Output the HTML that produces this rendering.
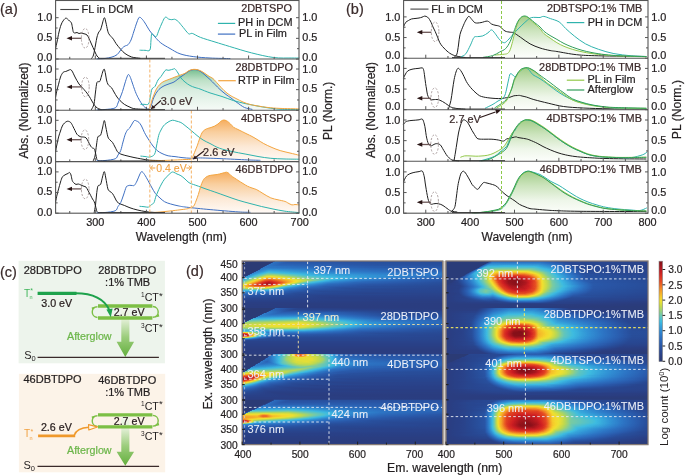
<!DOCTYPE html>
<html><head><meta charset="utf-8"><style>
html,body{margin:0;padding:0;background:#fff;width:685px;height:475px;overflow:hidden}
svg{display:block;font-family:"Liberation Sans",sans-serif;will-change:transform}
</style></head><body>
<svg width="685" height="475" viewBox="0 0 685 475">
<defs><linearGradient id="ggrad" x1="0" y1="0" x2="0" y2="1">
<stop offset="0" stop-color="#5fb57a" stop-opacity="0.85"/><stop offset="0.55" stop-color="#a9d6b4" stop-opacity="0.6"/><stop offset="1" stop-color="#ffffff" stop-opacity="0"/></linearGradient>
<linearGradient id="ograd" x1="0" y1="0" x2="0" y2="1">
<stop offset="0" stop-color="#f5a245" stop-opacity="0.95"/><stop offset="0.5" stop-color="#f9c890" stop-opacity="0.65"/><stop offset="1" stop-color="#ffffff" stop-opacity="0"/></linearGradient>
<linearGradient id="bgrad" x1="0" y1="0" x2="0" y2="1">
<stop offset="0" stop-color="#6fb04f" stop-opacity="0.85"/><stop offset="0.5" stop-color="#b5d89c" stop-opacity="0.55"/><stop offset="1" stop-color="#ffffff" stop-opacity="0"/></linearGradient>
<linearGradient id="ga2" gradientUnits="userSpaceOnUse" x1="0" y1="69" x2="0" y2="110"><stop offset="0" stop-color="#74bd8d"/><stop offset="0.27" stop-color="#bde0c6"/><stop offset="0.51" stop-color="#d9ede0"/><stop offset="1" stop-color="#f6fbf7"/></linearGradient>
<linearGradient id="oa3" gradientUnits="userSpaceOnUse" x1="0" y1="120" x2="0" y2="161"><stop offset="0" stop-color="#f6ad5e"/><stop offset="0.3" stop-color="#f9cf9f"/><stop offset="0.65" stop-color="#fce9d6"/><stop offset="1" stop-color="#fffaf6"/></linearGradient>
<linearGradient id="oa4" gradientUnits="userSpaceOnUse" x1="0" y1="172" x2="0" y2="213"><stop offset="0" stop-color="#f6ad5e"/><stop offset="0.3" stop-color="#f9cf9f"/><stop offset="0.65" stop-color="#fce9d6"/><stop offset="1" stop-color="#fffaf6"/></linearGradient>
<linearGradient id="gb1" gradientUnits="userSpaceOnUse" x1="0" y1="16" x2="0" y2="57.8"><stop offset="0" stop-color="#a2cd88"/><stop offset="0.35" stop-color="#cce4bd"/><stop offset="0.7" stop-color="#eef6e9"/><stop offset="1" stop-color="#fcfefb"/></linearGradient>
<linearGradient id="gb2" gradientUnits="userSpaceOnUse" x1="0" y1="68" x2="0" y2="109.4"><stop offset="0" stop-color="#a2cd88"/><stop offset="0.35" stop-color="#cce4bd"/><stop offset="0.7" stop-color="#eef6e9"/><stop offset="1" stop-color="#fcfefb"/></linearGradient>
<linearGradient id="gb3" gradientUnits="userSpaceOnUse" x1="0" y1="120" x2="0" y2="161"><stop offset="0" stop-color="#a2cd88"/><stop offset="0.35" stop-color="#cce4bd"/><stop offset="0.7" stop-color="#eef6e9"/><stop offset="1" stop-color="#fcfefb"/></linearGradient>
<linearGradient id="gb4" gradientUnits="userSpaceOnUse" x1="0" y1="171" x2="0" y2="212.9"><stop offset="0" stop-color="#a2cd88"/><stop offset="0.35" stop-color="#cce4bd"/><stop offset="0.7" stop-color="#eef6e9"/><stop offset="1" stop-color="#fcfefb"/></linearGradient>
<linearGradient id="arrg" x1="0" y1="0" x2="0" y2="1"><stop offset="0" stop-color="#f4f8ee"/><stop offset="0.25" stop-color="#e2efd6"/><stop offset="0.6" stop-color="#9ccd7c"/><stop offset="1" stop-color="#62ae3c"/></linearGradient>
<filter id="jet" x="0" y="0" width="1" height="1" color-interpolation-filters="sRGB">
<feComponentTransfer><feFuncR type="table" tableValues="0.173 0.169 0.166 0.163 0.159 0.158 0.161 0.164 0.168 0.171 0.175 0.181 0.188 0.195 0.210 0.226 0.243 0.317 0.392 0.471 0.574 0.676 0.769 0.849 0.929 0.961 0.961 0.961 0.961 0.947 0.932 0.918 0.899 0.873 0.847 0.821 0.763 0.698 0.633 0.567 0.502"/><feFuncG type="table" tableValues="0.227 0.234 0.241 0.257 0.280 0.303 0.329 0.356 0.386 0.418 0.450 0.490 0.534 0.579 0.631 0.684 0.737 0.757 0.776 0.796 0.816 0.835 0.853 0.867 0.881 0.843 0.771 0.699 0.627 0.540 0.453 0.366 0.292 0.237 0.183 0.129 0.108 0.096 0.083 0.071 0.059"/><feFuncB type="table" tableValues="0.431 0.467 0.503 0.537 0.570 0.603 0.639 0.675 0.706 0.735 0.765 0.791 0.815 0.838 0.854 0.868 0.882 0.805 0.728 0.641 0.515 0.389 0.294 0.245 0.196 0.173 0.168 0.162 0.157 0.151 0.146 0.141 0.137 0.137 0.137 0.137 0.131 0.123 0.114 0.106 0.098"/></feComponentTransfer></filter>
<linearGradient id="h1" x1="0" x2="1" y1="0" y2="0"><stop offset="0.000" stop-color="#050505"/><stop offset="0.159" stop-color="#050505"/><stop offset="0.164" stop-color="#3e3e3e"/><stop offset="0.234" stop-color="#292929"/><stop offset="0.667" stop-color="#212121"/><stop offset="1.000" stop-color="#1e1e1e"/></linearGradient>
<linearGradient id="h2" x1="0" x2="1" y1="0" y2="0"><stop offset="0.000" stop-color="#050505"/><stop offset="0.149" stop-color="#050505"/><stop offset="0.154" stop-color="#3f3f3f"/><stop offset="0.219" stop-color="#2c2c2c"/><stop offset="0.657" stop-color="#232323"/><stop offset="1.000" stop-color="#1f1f1f"/></linearGradient>
<linearGradient id="h3" x1="0" x2="1" y1="0" y2="0"><stop offset="0.000" stop-color="#050505"/><stop offset="0.139" stop-color="#050505"/><stop offset="0.144" stop-color="#404040"/><stop offset="0.204" stop-color="#303030"/><stop offset="0.652" stop-color="#252525"/><stop offset="1.000" stop-color="#212121"/></linearGradient>
<linearGradient id="h4" x1="0" x2="1" y1="0" y2="0"><stop offset="0.000" stop-color="#050505"/><stop offset="0.129" stop-color="#050505"/><stop offset="0.134" stop-color="#414141"/><stop offset="0.189" stop-color="#343434"/><stop offset="0.667" stop-color="#262626"/><stop offset="1.000" stop-color="#222222"/></linearGradient>
<linearGradient id="h5" x1="0" x2="1" y1="0" y2="0"><stop offset="0.000" stop-color="#050505"/><stop offset="0.119" stop-color="#050505"/><stop offset="0.124" stop-color="#424242"/><stop offset="0.179" stop-color="#383838"/><stop offset="0.701" stop-color="#272727"/><stop offset="1.000" stop-color="#242424"/></linearGradient>
<linearGradient id="h6" x1="0" x2="1" y1="0" y2="0"><stop offset="0.000" stop-color="#050505"/><stop offset="0.109" stop-color="#050505"/><stop offset="0.114" stop-color="#434343"/><stop offset="0.343" stop-color="#363636"/><stop offset="0.642" stop-color="#2d2d2d"/><stop offset="1.000" stop-color="#272727"/></linearGradient>
<linearGradient id="h7" x1="0" x2="1" y1="0" y2="0"><stop offset="0.000" stop-color="#050505"/><stop offset="0.100" stop-color="#050505"/><stop offset="0.104" stop-color="#444444"/><stop offset="0.721" stop-color="#2c2c2c"/><stop offset="1.000" stop-color="#2a2a2a"/></linearGradient>
<linearGradient id="h8" x1="0" x2="1" y1="0" y2="0"><stop offset="0.000" stop-color="#050505"/><stop offset="0.090" stop-color="#050505"/><stop offset="0.095" stop-color="#444444"/><stop offset="0.124" stop-color="#494949"/><stop offset="0.831" stop-color="#2d2d2d"/><stop offset="1.000" stop-color="#2d2d2d"/></linearGradient>
<linearGradient id="h9" x1="0" x2="1" y1="0" y2="0"><stop offset="0.000" stop-color="#050505"/><stop offset="0.085" stop-color="#050505"/><stop offset="0.090" stop-color="#454545"/><stop offset="0.139" stop-color="#525252"/><stop offset="0.448" stop-color="#3f3f3f"/><stop offset="0.841" stop-color="#313131"/><stop offset="1.000" stop-color="#303030"/></linearGradient>
<linearGradient id="h10" x1="0" x2="1" y1="0" y2="0"><stop offset="0.000" stop-color="#050505"/><stop offset="0.075" stop-color="#050505"/><stop offset="0.080" stop-color="#464646"/><stop offset="0.134" stop-color="#5a5a5a"/><stop offset="0.438" stop-color="#444444"/><stop offset="0.841" stop-color="#353535"/><stop offset="1.000" stop-color="#343434"/></linearGradient>
<linearGradient id="h11" x1="0" x2="1" y1="0" y2="0"><stop offset="0.000" stop-color="#050505"/><stop offset="0.065" stop-color="#050505"/><stop offset="0.070" stop-color="#474747"/><stop offset="0.134" stop-color="#626262"/><stop offset="0.423" stop-color="#484848"/><stop offset="0.841" stop-color="#393939"/><stop offset="1.000" stop-color="#383838"/></linearGradient>
<linearGradient id="h12" x1="0" x2="1" y1="0" y2="0"><stop offset="0.000" stop-color="#050505"/><stop offset="0.055" stop-color="#050505"/><stop offset="0.060" stop-color="#494949"/><stop offset="0.129" stop-color="#6a6a6a"/><stop offset="0.428" stop-color="#4d4d4d"/><stop offset="0.841" stop-color="#3e3e3e"/><stop offset="1.000" stop-color="#3c3c3c"/></linearGradient>
<linearGradient id="h13" x1="0" x2="1" y1="0" y2="0"><stop offset="0.000" stop-color="#050505"/><stop offset="0.045" stop-color="#050505"/><stop offset="0.050" stop-color="#4b4b4b"/><stop offset="0.129" stop-color="#757575"/><stop offset="0.224" stop-color="#686868"/><stop offset="0.438" stop-color="#525252"/><stop offset="0.841" stop-color="#424242"/><stop offset="1.000" stop-color="#404040"/></linearGradient>
<linearGradient id="h14" x1="0" x2="1" y1="0" y2="0"><stop offset="0.000" stop-color="#050505"/><stop offset="0.035" stop-color="#050505"/><stop offset="0.040" stop-color="#4e4e4e"/><stop offset="0.124" stop-color="#7e7e7e"/><stop offset="0.159" stop-color="#7e7e7e"/><stop offset="0.348" stop-color="#5f5f5f"/><stop offset="0.776" stop-color="#474747"/><stop offset="1.000" stop-color="#424242"/></linearGradient>
<linearGradient id="h15" x1="0" x2="1" y1="0" y2="0"><stop offset="0.000" stop-color="#050505"/><stop offset="0.025" stop-color="#050505"/><stop offset="0.030" stop-color="#505050"/><stop offset="0.124" stop-color="#8a8a8a"/><stop offset="0.149" stop-color="#8b8b8b"/><stop offset="0.333" stop-color="#676767"/><stop offset="0.488" stop-color="#5a5a5a"/><stop offset="1.000" stop-color="#3f3f3f"/></linearGradient>
<linearGradient id="h16" x1="0" x2="1" y1="0" y2="0"><stop offset="0.000" stop-color="#050505"/><stop offset="0.015" stop-color="#050505"/><stop offset="0.020" stop-color="#525252"/><stop offset="0.124" stop-color="#979797"/><stop offset="0.144" stop-color="#999999"/><stop offset="0.323" stop-color="#707070"/><stop offset="0.473" stop-color="#5f5f5f"/><stop offset="1.000" stop-color="#3a3a3a"/></linearGradient>
<linearGradient id="h17" x1="0" x2="1" y1="0" y2="0"><stop offset="0.000" stop-color="#050505"/><stop offset="0.005" stop-color="#050505"/><stop offset="0.010" stop-color="#535353"/><stop offset="0.119" stop-color="#a2a2a2"/><stop offset="0.139" stop-color="#a7a7a7"/><stop offset="0.318" stop-color="#777777"/><stop offset="0.468" stop-color="#636363"/><stop offset="0.930" stop-color="#3a3a3a"/><stop offset="1.000" stop-color="#353535"/></linearGradient>
<linearGradient id="h18" x1="0" x2="1" y1="0" y2="0"><stop offset="0.000" stop-color="#535353"/><stop offset="0.119" stop-color="#afafaf"/><stop offset="0.139" stop-color="#b4b4b4"/><stop offset="0.269" stop-color="#8c8c8c"/><stop offset="0.368" stop-color="#747474"/><stop offset="0.682" stop-color="#484848"/><stop offset="1.000" stop-color="#303030"/></linearGradient>
<linearGradient id="h19" x1="0" x2="1" y1="0" y2="0"><stop offset="0.000" stop-color="#5b5b5b"/><stop offset="0.119" stop-color="#bdbdbd"/><stop offset="0.139" stop-color="#c2c2c2"/><stop offset="0.264" stop-color="#959595"/><stop offset="0.363" stop-color="#797979"/><stop offset="0.547" stop-color="#505050"/><stop offset="0.856" stop-color="#343434"/><stop offset="1.000" stop-color="#2c2c2c"/></linearGradient>
<linearGradient id="h20" x1="0" x2="1" y1="0" y2="0"><stop offset="0.000" stop-color="#646464"/><stop offset="0.114" stop-color="#c8c8c8"/><stop offset="0.139" stop-color="#d0d0d0"/><stop offset="0.259" stop-color="#9e9e9e"/><stop offset="0.443" stop-color="#5c5c5c"/><stop offset="0.577" stop-color="#454545"/><stop offset="0.891" stop-color="#2d2d2d"/><stop offset="1.000" stop-color="#282828"/></linearGradient>
<linearGradient id="h21" x1="0" x2="1" y1="0" y2="0"><stop offset="0.000" stop-color="#6d6d6d"/><stop offset="0.114" stop-color="#d6d6d6"/><stop offset="0.134" stop-color="#dfdfdf"/><stop offset="0.219" stop-color="#b4b4b4"/><stop offset="0.289" stop-color="#909090"/><stop offset="0.348" stop-color="#717171"/><stop offset="0.458" stop-color="#4f4f4f"/><stop offset="0.617" stop-color="#393939"/><stop offset="0.995" stop-color="#252525"/><stop offset="1.000" stop-color="#252525"/></linearGradient>
<linearGradient id="h22" x1="0" x2="1" y1="0" y2="0"><stop offset="0.000" stop-color="#777777"/><stop offset="0.055" stop-color="#adadad"/><stop offset="0.114" stop-color="#e2e2e2"/><stop offset="0.134" stop-color="#eaeaea"/><stop offset="0.194" stop-color="#c8c8c8"/><stop offset="0.313" stop-color="#747474"/><stop offset="0.428" stop-color="#4c4c4c"/><stop offset="0.567" stop-color="#373737"/><stop offset="0.945" stop-color="#242424"/><stop offset="1.000" stop-color="#222222"/></linearGradient>
<linearGradient id="h23" x1="0" x2="1" y1="0" y2="0"><stop offset="0.000" stop-color="#818181"/><stop offset="0.045" stop-color="#b0b0b0"/><stop offset="0.114" stop-color="#ececec"/><stop offset="0.134" stop-color="#f3f3f3"/><stop offset="0.169" stop-color="#d9d9d9"/><stop offset="0.239" stop-color="#969696"/><stop offset="0.318" stop-color="#646464"/><stop offset="0.433" stop-color="#414141"/><stop offset="0.587" stop-color="#303030"/><stop offset="1.000" stop-color="#202020"/></linearGradient>
<linearGradient id="h24" x1="0" x2="1" y1="0" y2="0"><stop offset="0.000" stop-color="#8b8b8b"/><stop offset="0.040" stop-color="#b6b6b6"/><stop offset="0.109" stop-color="#eeeeee"/><stop offset="0.134" stop-color="#eaeaea"/><stop offset="0.224" stop-color="#909090"/><stop offset="0.308" stop-color="#5b5b5b"/><stop offset="0.428" stop-color="#3a3a3a"/><stop offset="0.602" stop-color="#2a2a2a"/><stop offset="1.000" stop-color="#1f1f1f"/></linearGradient>
<linearGradient id="h25" x1="0" x2="1" y1="0" y2="0"><stop offset="0.000" stop-color="#939393"/><stop offset="0.030" stop-color="#b5b5b5"/><stop offset="0.065" stop-color="#cdcdcd"/><stop offset="0.114" stop-color="#d9d9d9"/><stop offset="0.139" stop-color="#cdcdcd"/><stop offset="0.219" stop-color="#808080"/><stop offset="0.299" stop-color="#535353"/><stop offset="0.413" stop-color="#363636"/><stop offset="0.592" stop-color="#272727"/><stop offset="1.000" stop-color="#1d1d1d"/></linearGradient>
<linearGradient id="h26" x1="0" x2="1" y1="0" y2="0"><stop offset="0.000" stop-color="#999999"/><stop offset="0.020" stop-color="#acacac"/><stop offset="0.060" stop-color="#bbbbbb"/><stop offset="0.114" stop-color="#bfbfbf"/><stop offset="0.139" stop-color="#b2b2b2"/><stop offset="0.214" stop-color="#717171"/><stop offset="0.294" stop-color="#494949"/><stop offset="0.413" stop-color="#2f2f2f"/><stop offset="0.632" stop-color="#222222"/><stop offset="1.000" stop-color="#1c1c1c"/></linearGradient>
<linearGradient id="h27" x1="0" x2="1" y1="0" y2="0"><stop offset="0.000" stop-color="#909090"/><stop offset="0.025" stop-color="#9f9f9f"/><stop offset="0.090" stop-color="#a7a7a7"/><stop offset="0.119" stop-color="#a2a2a2"/><stop offset="0.144" stop-color="#949494"/><stop offset="0.219" stop-color="#5d5d5d"/><stop offset="0.308" stop-color="#3a3a3a"/><stop offset="0.473" stop-color="#252525"/><stop offset="1.000" stop-color="#1b1b1b"/></linearGradient>
<linearGradient id="h28" x1="0" x2="1" y1="0" y2="0"><stop offset="0.000" stop-color="#818181"/><stop offset="0.030" stop-color="#8e8e8e"/><stop offset="0.114" stop-color="#8b8b8b"/><stop offset="0.144" stop-color="#7d7d7d"/><stop offset="0.224" stop-color="#4d4d4d"/><stop offset="0.323" stop-color="#303030"/><stop offset="0.517" stop-color="#202020"/><stop offset="1.000" stop-color="#1a1a1a"/></linearGradient>
<linearGradient id="h29" x1="0" x2="1" y1="0" y2="0"><stop offset="0.000" stop-color="#717171"/><stop offset="0.035" stop-color="#7b7b7b"/><stop offset="0.119" stop-color="#737373"/><stop offset="0.234" stop-color="#3d3d3d"/><stop offset="0.343" stop-color="#282828"/><stop offset="0.602" stop-color="#1c1c1c"/><stop offset="1.000" stop-color="#1a1a1a"/></linearGradient>
<linearGradient id="h30" x1="0" x2="1" y1="0" y2="0"><stop offset="0.000" stop-color="#626262"/><stop offset="0.045" stop-color="#686868"/><stop offset="0.129" stop-color="#5c5c5c"/><stop offset="0.234" stop-color="#343434"/><stop offset="0.358" stop-color="#222222"/><stop offset="0.751" stop-color="#1a1a1a"/><stop offset="1.000" stop-color="#191919"/></linearGradient>
<linearGradient id="h31" x1="0" x2="1" y1="0" y2="0"><stop offset="0.000" stop-color="#535353"/><stop offset="0.060" stop-color="#565656"/><stop offset="0.139" stop-color="#494949"/><stop offset="0.239" stop-color="#2c2c2c"/><stop offset="0.393" stop-color="#1d1d1d"/><stop offset="1.000" stop-color="#181818"/></linearGradient>
<linearGradient id="h32" x1="0" x2="1" y1="0" y2="0"><stop offset="0.000" stop-color="#464646"/><stop offset="0.080" stop-color="#464646"/><stop offset="0.164" stop-color="#363636"/><stop offset="0.284" stop-color="#212121"/><stop offset="0.617" stop-color="#181818"/><stop offset="1.000" stop-color="#171717"/></linearGradient>
<linearGradient id="h33" x1="0" x2="1" y1="0" y2="0"><stop offset="0.000" stop-color="#3b3b3b"/><stop offset="0.109" stop-color="#383838"/><stop offset="0.264" stop-color="#1f1f1f"/><stop offset="0.627" stop-color="#161616"/><stop offset="1.000" stop-color="#161616"/></linearGradient>
<linearGradient id="h34" x1="0" x2="1" y1="0" y2="0"><stop offset="0.000" stop-color="#323232"/><stop offset="0.139" stop-color="#2a2a2a"/><stop offset="0.294" stop-color="#1a1a1a"/><stop offset="1.000" stop-color="#151515"/></linearGradient>
<linearGradient id="h35" x1="0" x2="1" y1="0" y2="0"><stop offset="0.000" stop-color="#2a2a2a"/><stop offset="0.164" stop-color="#202020"/><stop offset="0.383" stop-color="#151515"/><stop offset="1.000" stop-color="#141414"/></linearGradient>
<linearGradient id="h36" x1="0" x2="1" y1="0" y2="0"><stop offset="0.000" stop-color="#242424"/><stop offset="0.393" stop-color="#141414"/><stop offset="1.000" stop-color="#131313"/></linearGradient>
<linearGradient id="h37" x1="0" x2="1" y1="0" y2="0"><stop offset="0.000" stop-color="#1f1f1f"/><stop offset="0.438" stop-color="#121212"/><stop offset="1.000" stop-color="#121212"/></linearGradient>
<linearGradient id="h38" x1="0" x2="1" y1="0" y2="0"><stop offset="0.000" stop-color="#1a1a1a"/><stop offset="0.517" stop-color="#111111"/><stop offset="1.000" stop-color="#111111"/></linearGradient>
<linearGradient id="h39" x1="0" x2="1" y1="0" y2="0"><stop offset="0.000" stop-color="#171717"/><stop offset="0.672" stop-color="#101010"/><stop offset="1.000" stop-color="#101010"/></linearGradient>
<linearGradient id="h40" x1="0" x2="1" y1="0" y2="0"><stop offset="0.000" stop-color="#141414"/><stop offset="1.000" stop-color="#0f0f0f"/></linearGradient>
<linearGradient id="h41" x1="0" x2="1" y1="0" y2="0"><stop offset="0.000" stop-color="#121212"/><stop offset="1.000" stop-color="#0e0e0e"/></linearGradient>
<linearGradient id="h42" x1="0" x2="1" y1="0" y2="0"><stop offset="0.000" stop-color="#101010"/><stop offset="1.000" stop-color="#0e0e0e"/></linearGradient>
<linearGradient id="h43" x1="0" x2="1" y1="0" y2="0"><stop offset="0.000" stop-color="#0f0f0f"/><stop offset="1.000" stop-color="#0d0d0d"/></linearGradient>
<linearGradient id="h44" x1="0" x2="1" y1="0" y2="0"><stop offset="0.000" stop-color="#0e0e0e"/><stop offset="1.000" stop-color="#0d0d0d"/></linearGradient>
<linearGradient id="h45" x1="0" x2="1" y1="0" y2="0"><stop offset="0.000" stop-color="#0e0e0e"/><stop offset="1.000" stop-color="#0d0d0d"/></linearGradient>
<linearGradient id="h46" x1="0" x2="1" y1="0" y2="0"><stop offset="0.000" stop-color="#0d0d0d"/><stop offset="1.000" stop-color="#0d0d0d"/></linearGradient>
<linearGradient id="h47" x1="0" x2="1" y1="0" y2="0"><stop offset="0.000" stop-color="#0d0d0d"/><stop offset="1.000" stop-color="#0d0d0d"/></linearGradient>
<linearGradient id="h48" x1="0" x2="1" y1="0" y2="0"><stop offset="0.000" stop-color="#080808"/><stop offset="0.217" stop-color="#080808"/><stop offset="0.222" stop-color="#252525"/><stop offset="0.227" stop-color="#383838"/><stop offset="0.473" stop-color="#373737"/><stop offset="0.576" stop-color="#1c1c1c"/><stop offset="1.000" stop-color="#151515"/></linearGradient>
<linearGradient id="h49" x1="0" x2="1" y1="0" y2="0"><stop offset="0.000" stop-color="#080808"/><stop offset="0.207" stop-color="#080808"/><stop offset="0.212" stop-color="#272727"/><stop offset="0.222" stop-color="#353535"/><stop offset="0.227" stop-color="#424242"/><stop offset="0.468" stop-color="#404040"/><stop offset="0.571" stop-color="#242424"/><stop offset="0.611" stop-color="#1a1a1a"/><stop offset="1.000" stop-color="#151515"/></linearGradient>
<linearGradient id="h50" x1="0" x2="1" y1="0" y2="0"><stop offset="0.000" stop-color="#080808"/><stop offset="0.197" stop-color="#080808"/><stop offset="0.202" stop-color="#282828"/><stop offset="0.217" stop-color="#414141"/><stop offset="0.227" stop-color="#4c4c4c"/><stop offset="0.463" stop-color="#494949"/><stop offset="0.567" stop-color="#2c2c2c"/><stop offset="0.621" stop-color="#1a1a1a"/><stop offset="1.000" stop-color="#151515"/></linearGradient>
<linearGradient id="h51" x1="0" x2="1" y1="0" y2="0"><stop offset="0.000" stop-color="#080808"/><stop offset="0.187" stop-color="#080808"/><stop offset="0.192" stop-color="#282828"/><stop offset="0.202" stop-color="#404040"/><stop offset="0.217" stop-color="#545454"/><stop offset="0.453" stop-color="#535353"/><stop offset="0.547" stop-color="#3a3a3a"/><stop offset="0.631" stop-color="#1a1a1a"/><stop offset="1.000" stop-color="#151515"/></linearGradient>
<linearGradient id="h52" x1="0" x2="1" y1="0" y2="0"><stop offset="0.000" stop-color="#080808"/><stop offset="0.177" stop-color="#080808"/><stop offset="0.182" stop-color="#262626"/><stop offset="0.187" stop-color="#383838"/><stop offset="0.207" stop-color="#5b5b5b"/><stop offset="0.296" stop-color="#5f5f5f"/><stop offset="0.453" stop-color="#5b5b5b"/><stop offset="0.542" stop-color="#424242"/><stop offset="0.640" stop-color="#1a1a1a"/><stop offset="1.000" stop-color="#151515"/></linearGradient>
<linearGradient id="h53" x1="0" x2="1" y1="0" y2="0"><stop offset="0.000" stop-color="#080808"/><stop offset="0.167" stop-color="#080808"/><stop offset="0.177" stop-color="#383838"/><stop offset="0.197" stop-color="#606060"/><stop offset="0.217" stop-color="#666666"/><stop offset="0.438" stop-color="#656565"/><stop offset="0.537" stop-color="#4a4a4a"/><stop offset="0.650" stop-color="#1b1b1b"/><stop offset="1.000" stop-color="#151515"/></linearGradient>
<linearGradient id="h54" x1="0" x2="1" y1="0" y2="0"><stop offset="0.000" stop-color="#080808"/><stop offset="0.163" stop-color="#080808"/><stop offset="0.167" stop-color="#373737"/><stop offset="0.187" stop-color="#636363"/><stop offset="0.197" stop-color="#6a6a6a"/><stop offset="0.291" stop-color="#707070"/><stop offset="0.443" stop-color="#6b6b6b"/><stop offset="0.547" stop-color="#4b4b4b"/><stop offset="0.655" stop-color="#1b1b1b"/><stop offset="1.000" stop-color="#151515"/></linearGradient>
<linearGradient id="h55" x1="0" x2="1" y1="0" y2="0"><stop offset="0.000" stop-color="#080808"/><stop offset="0.153" stop-color="#080808"/><stop offset="0.158" stop-color="#353535"/><stop offset="0.172" stop-color="#5a5a5a"/><stop offset="0.182" stop-color="#6b6b6b"/><stop offset="0.251" stop-color="#787878"/><stop offset="0.429" stop-color="#757575"/><stop offset="0.522" stop-color="#5a5a5a"/><stop offset="0.660" stop-color="#1c1c1c"/><stop offset="1.000" stop-color="#161616"/></linearGradient>
<linearGradient id="h56" x1="0" x2="1" y1="0" y2="0"><stop offset="0.000" stop-color="#080808"/><stop offset="0.143" stop-color="#080808"/><stop offset="0.148" stop-color="#323232"/><stop offset="0.163" stop-color="#585858"/><stop offset="0.172" stop-color="#6b6b6b"/><stop offset="0.241" stop-color="#7f7f7f"/><stop offset="0.414" stop-color="#7e7e7e"/><stop offset="0.507" stop-color="#646464"/><stop offset="0.670" stop-color="#1c1c1c"/><stop offset="1.000" stop-color="#161616"/></linearGradient>
<linearGradient id="h57" x1="0" x2="1" y1="0" y2="0"><stop offset="0.000" stop-color="#080808"/><stop offset="0.133" stop-color="#080808"/><stop offset="0.138" stop-color="#2e2e2e"/><stop offset="0.153" stop-color="#555555"/><stop offset="0.163" stop-color="#696969"/><stop offset="0.251" stop-color="#8c8c8c"/><stop offset="0.404" stop-color="#8b8b8b"/><stop offset="0.542" stop-color="#5a5a5a"/><stop offset="0.675" stop-color="#1d1d1d"/><stop offset="1.000" stop-color="#171717"/></linearGradient>
<linearGradient id="h58" x1="0" x2="1" y1="0" y2="0"><stop offset="0.000" stop-color="#080808"/><stop offset="0.123" stop-color="#080808"/><stop offset="0.128" stop-color="#2a2a2a"/><stop offset="0.143" stop-color="#505050"/><stop offset="0.153" stop-color="#646464"/><stop offset="0.246" stop-color="#979797"/><stop offset="0.335" stop-color="#9c9c9c"/><stop offset="0.409" stop-color="#969696"/><stop offset="0.616" stop-color="#3b3b3b"/><stop offset="0.680" stop-color="#1e1e1e"/><stop offset="1.000" stop-color="#171717"/></linearGradient>
<linearGradient id="h59" x1="0" x2="1" y1="0" y2="0"><stop offset="0.000" stop-color="#080808"/><stop offset="0.113" stop-color="#080808"/><stop offset="0.118" stop-color="#252525"/><stop offset="0.128" stop-color="#414141"/><stop offset="0.143" stop-color="#5e5e5e"/><stop offset="0.251" stop-color="#a4a4a4"/><stop offset="0.320" stop-color="#aaaaaa"/><stop offset="0.399" stop-color="#a5a5a5"/><stop offset="0.512" stop-color="#6e6e6e"/><stop offset="0.680" stop-color="#1f1f1f"/><stop offset="1.000" stop-color="#181818"/></linearGradient>
<linearGradient id="h60" x1="0" x2="1" y1="0" y2="0"><stop offset="0.000" stop-color="#080808"/><stop offset="0.103" stop-color="#080808"/><stop offset="0.108" stop-color="#1f1f1f"/><stop offset="0.118" stop-color="#3b3b3b"/><stop offset="0.138" stop-color="#5e5e5e"/><stop offset="0.202" stop-color="#888888"/><stop offset="0.251" stop-color="#aeaeae"/><stop offset="0.300" stop-color="#b8b8b8"/><stop offset="0.389" stop-color="#b5b5b5"/><stop offset="0.433" stop-color="#9f9f9f"/><stop offset="0.493" stop-color="#7a7a7a"/><stop offset="0.670" stop-color="#252525"/><stop offset="0.695" stop-color="#202020"/><stop offset="1.000" stop-color="#181818"/></linearGradient>
<linearGradient id="h61" x1="0" x2="1" y1="0" y2="0"><stop offset="0.000" stop-color="#080808"/><stop offset="0.094" stop-color="#080808"/><stop offset="0.103" stop-color="#2a2a2a"/><stop offset="0.128" stop-color="#575757"/><stop offset="0.202" stop-color="#8b8b8b"/><stop offset="0.251" stop-color="#b8b8b8"/><stop offset="0.300" stop-color="#c4c4c4"/><stop offset="0.389" stop-color="#c1c1c1"/><stop offset="0.429" stop-color="#aeaeae"/><stop offset="0.493" stop-color="#7d7d7d"/><stop offset="0.675" stop-color="#252525"/><stop offset="0.852" stop-color="#1c1c1c"/><stop offset="1.000" stop-color="#191919"/></linearGradient>
<linearGradient id="h62" x1="0" x2="1" y1="0" y2="0"><stop offset="0.000" stop-color="#080808"/><stop offset="0.089" stop-color="#080808"/><stop offset="0.094" stop-color="#252525"/><stop offset="0.118" stop-color="#4f4f4f"/><stop offset="0.197" stop-color="#878787"/><stop offset="0.251" stop-color="#bfbfbf"/><stop offset="0.296" stop-color="#d0d0d0"/><stop offset="0.369" stop-color="#d2d2d2"/><stop offset="0.414" stop-color="#c2c2c2"/><stop offset="0.448" stop-color="#a5a5a5"/><stop offset="0.498" stop-color="#7d7d7d"/><stop offset="0.690" stop-color="#232323"/><stop offset="1.000" stop-color="#1a1a1a"/></linearGradient>
<linearGradient id="h63" x1="0" x2="1" y1="0" y2="0"><stop offset="0.000" stop-color="#080808"/><stop offset="0.079" stop-color="#080808"/><stop offset="0.084" stop-color="#1f1f1f"/><stop offset="0.108" stop-color="#474747"/><stop offset="0.197" stop-color="#878787"/><stop offset="0.251" stop-color="#c5c5c5"/><stop offset="0.276" stop-color="#d3d3d3"/><stop offset="0.345" stop-color="#dedede"/><stop offset="0.404" stop-color="#d2d2d2"/><stop offset="0.443" stop-color="#b2b2b2"/><stop offset="0.473" stop-color="#939393"/><stop offset="0.512" stop-color="#797979"/><stop offset="0.690" stop-color="#242424"/><stop offset="1.000" stop-color="#1b1b1b"/></linearGradient>
<linearGradient id="h64" x1="0" x2="1" y1="0" y2="0"><stop offset="0.000" stop-color="#080808"/><stop offset="0.069" stop-color="#080808"/><stop offset="0.074" stop-color="#1a1a1a"/><stop offset="0.103" stop-color="#414141"/><stop offset="0.197" stop-color="#878787"/><stop offset="0.227" stop-color="#ababab"/><stop offset="0.256" stop-color="#cecece"/><stop offset="0.325" stop-color="#e6e6e6"/><stop offset="0.379" stop-color="#e1e1e1"/><stop offset="0.424" stop-color="#cdcdcd"/><stop offset="0.458" stop-color="#a6a6a6"/><stop offset="0.488" stop-color="#8a8a8a"/><stop offset="0.532" stop-color="#727272"/><stop offset="0.690" stop-color="#262626"/><stop offset="1.000" stop-color="#1c1c1c"/></linearGradient>
<linearGradient id="h65" x1="0" x2="1" y1="0" y2="0"><stop offset="0.000" stop-color="#080808"/><stop offset="0.059" stop-color="#080808"/><stop offset="0.064" stop-color="#151515"/><stop offset="0.099" stop-color="#3c3c3c"/><stop offset="0.197" stop-color="#858585"/><stop offset="0.222" stop-color="#a2a2a2"/><stop offset="0.251" stop-color="#cccccc"/><stop offset="0.315" stop-color="#ececec"/><stop offset="0.360" stop-color="#ededed"/><stop offset="0.424" stop-color="#d3d3d3"/><stop offset="0.458" stop-color="#ababab"/><stop offset="0.478" stop-color="#949494"/><stop offset="0.522" stop-color="#787878"/><stop offset="0.690" stop-color="#272727"/><stop offset="1.000" stop-color="#1d1d1d"/></linearGradient>
<linearGradient id="h66" x1="0" x2="1" y1="0" y2="0"><stop offset="0.000" stop-color="#080808"/><stop offset="0.049" stop-color="#080808"/><stop offset="0.059" stop-color="#141414"/><stop offset="0.118" stop-color="#4a4a4a"/><stop offset="0.202" stop-color="#888888"/><stop offset="0.227" stop-color="#a8a8a8"/><stop offset="0.256" stop-color="#d1d1d1"/><stop offset="0.320" stop-color="#f5f5f5"/><stop offset="0.360" stop-color="#f4f4f4"/><stop offset="0.419" stop-color="#d8d8d8"/><stop offset="0.438" stop-color="#c9c9c9"/><stop offset="0.478" stop-color="#969696"/><stop offset="0.522" stop-color="#797979"/><stop offset="0.690" stop-color="#292929"/><stop offset="1.000" stop-color="#1d1d1d"/></linearGradient>
<linearGradient id="h67" x1="0" x2="1" y1="0" y2="0"><stop offset="0.000" stop-color="#080808"/><stop offset="0.039" stop-color="#080808"/><stop offset="0.049" stop-color="#0f0f0f"/><stop offset="0.167" stop-color="#6c6c6c"/><stop offset="0.202" stop-color="#858585"/><stop offset="0.227" stop-color="#a4a4a4"/><stop offset="0.256" stop-color="#d1d1d1"/><stop offset="0.315" stop-color="#f8f8f8"/><stop offset="0.355" stop-color="#fafafa"/><stop offset="0.399" stop-color="#e7e7e7"/><stop offset="0.438" stop-color="#cccccc"/><stop offset="0.478" stop-color="#989898"/><stop offset="0.522" stop-color="#7a7a7a"/><stop offset="0.685" stop-color="#2f2f2f"/><stop offset="0.734" stop-color="#282828"/><stop offset="1.000" stop-color="#1e1e1e"/></linearGradient>
<linearGradient id="h68" x1="0" x2="1" y1="0" y2="0"><stop offset="0.000" stop-color="#080808"/><stop offset="0.030" stop-color="#080808"/><stop offset="0.039" stop-color="#0e0e0e"/><stop offset="0.059" stop-color="#141414"/><stop offset="0.172" stop-color="#6e6e6e"/><stop offset="0.207" stop-color="#888888"/><stop offset="0.232" stop-color="#a7a7a7"/><stop offset="0.261" stop-color="#d3d3d3"/><stop offset="0.310" stop-color="#f7f7f7"/><stop offset="0.350" stop-color="#fcfcfc"/><stop offset="0.394" stop-color="#ececec"/><stop offset="0.438" stop-color="#cfcfcf"/><stop offset="0.478" stop-color="#999999"/><stop offset="0.527" stop-color="#797979"/><stop offset="0.695" stop-color="#2f2f2f"/><stop offset="0.739" stop-color="#292929"/><stop offset="1.000" stop-color="#1f1f1f"/></linearGradient>
<linearGradient id="h69" x1="0" x2="1" y1="0" y2="0"><stop offset="0.000" stop-color="#080808"/><stop offset="0.025" stop-color="#080808"/><stop offset="0.034" stop-color="#0d0d0d"/><stop offset="0.059" stop-color="#121212"/><stop offset="0.177" stop-color="#6f6f6f"/><stop offset="0.212" stop-color="#8a8a8a"/><stop offset="0.232" stop-color="#a2a2a2"/><stop offset="0.261" stop-color="#d1d1d1"/><stop offset="0.310" stop-color="#f6f6f6"/><stop offset="0.345" stop-color="#fcfcfc"/><stop offset="0.394" stop-color="#eeeeee"/><stop offset="0.443" stop-color="#cacaca"/><stop offset="0.478" stop-color="#999999"/><stop offset="0.527" stop-color="#797979"/><stop offset="0.719" stop-color="#2a2a2a"/><stop offset="1.000" stop-color="#1f1f1f"/></linearGradient>
<linearGradient id="h70" x1="0" x2="1" y1="0" y2="0"><stop offset="0.000" stop-color="#080808"/><stop offset="0.015" stop-color="#080808"/><stop offset="0.025" stop-color="#0d0d0d"/><stop offset="0.064" stop-color="#131313"/><stop offset="0.182" stop-color="#707070"/><stop offset="0.217" stop-color="#8b8b8b"/><stop offset="0.236" stop-color="#a4a4a4"/><stop offset="0.266" stop-color="#d2d2d2"/><stop offset="0.310" stop-color="#f4f4f4"/><stop offset="0.345" stop-color="#fbfbfb"/><stop offset="0.394" stop-color="#ededed"/><stop offset="0.443" stop-color="#cacaca"/><stop offset="0.478" stop-color="#9a9a9a"/><stop offset="0.527" stop-color="#7a7a7a"/><stop offset="0.724" stop-color="#2b2b2b"/><stop offset="1.000" stop-color="#202020"/></linearGradient>
<linearGradient id="h71" x1="0" x2="1" y1="0" y2="0"><stop offset="0.000" stop-color="#080808"/><stop offset="0.025" stop-color="#0d0d0d"/><stop offset="0.069" stop-color="#141414"/><stop offset="0.187" stop-color="#717171"/><stop offset="0.222" stop-color="#8c8c8c"/><stop offset="0.241" stop-color="#a6a6a6"/><stop offset="0.266" stop-color="#cfcfcf"/><stop offset="0.315" stop-color="#f3f3f3"/><stop offset="0.345" stop-color="#fafafa"/><stop offset="0.389" stop-color="#eeeeee"/><stop offset="0.443" stop-color="#cacaca"/><stop offset="0.478" stop-color="#9a9a9a"/><stop offset="0.527" stop-color="#7a7a7a"/><stop offset="0.655" stop-color="#484848"/><stop offset="0.729" stop-color="#2b2b2b"/><stop offset="1.000" stop-color="#202020"/></linearGradient>
<linearGradient id="h72" x1="0" x2="1" y1="0" y2="0"><stop offset="0.000" stop-color="#0d0d0d"/><stop offset="0.069" stop-color="#111111"/><stop offset="0.192" stop-color="#717171"/><stop offset="0.222" stop-color="#888888"/><stop offset="0.246" stop-color="#a8a8a8"/><stop offset="0.271" stop-color="#d0d0d0"/><stop offset="0.315" stop-color="#efefef"/><stop offset="0.355" stop-color="#f8f8f8"/><stop offset="0.409" stop-color="#e2e2e2"/><stop offset="0.443" stop-color="#cacaca"/><stop offset="0.478" stop-color="#9a9a9a"/><stop offset="0.532" stop-color="#787878"/><stop offset="0.631" stop-color="#555555"/><stop offset="0.729" stop-color="#2b2b2b"/><stop offset="1.000" stop-color="#202020"/></linearGradient>
<linearGradient id="h73" x1="0" x2="1" y1="0" y2="0"><stop offset="0.000" stop-color="#0d0d0d"/><stop offset="0.074" stop-color="#131313"/><stop offset="0.202" stop-color="#757575"/><stop offset="0.232" stop-color="#8e8e8e"/><stop offset="0.251" stop-color="#aaaaaa"/><stop offset="0.276" stop-color="#d1d1d1"/><stop offset="0.320" stop-color="#ededed"/><stop offset="0.360" stop-color="#f2f2f2"/><stop offset="0.409" stop-color="#e1e1e1"/><stop offset="0.443" stop-color="#cacaca"/><stop offset="0.478" stop-color="#9a9a9a"/><stop offset="0.527" stop-color="#7a7a7a"/><stop offset="0.631" stop-color="#555555"/><stop offset="0.729" stop-color="#2a2a2a"/><stop offset="1.000" stop-color="#202020"/></linearGradient>
<linearGradient id="h74" x1="0" x2="1" y1="0" y2="0"><stop offset="0.000" stop-color="#0d0d0d"/><stop offset="0.069" stop-color="#121212"/><stop offset="0.123" stop-color="#3a3a3a"/><stop offset="0.172" stop-color="#606060"/><stop offset="0.227" stop-color="#848484"/><stop offset="0.251" stop-color="#a2a2a2"/><stop offset="0.281" stop-color="#d1d1d1"/><stop offset="0.325" stop-color="#ebebeb"/><stop offset="0.374" stop-color="#ececec"/><stop offset="0.414" stop-color="#dddddd"/><stop offset="0.443" stop-color="#c9c9c9"/><stop offset="0.478" stop-color="#999999"/><stop offset="0.527" stop-color="#797979"/><stop offset="0.645" stop-color="#4d4d4d"/><stop offset="0.729" stop-color="#2a2a2a"/><stop offset="1.000" stop-color="#1f1f1f"/></linearGradient>
<linearGradient id="h75" x1="0" x2="1" y1="0" y2="0"><stop offset="0.000" stop-color="#0d0d0d"/><stop offset="0.064" stop-color="#111111"/><stop offset="0.113" stop-color="#353535"/><stop offset="0.172" stop-color="#696969"/><stop offset="0.212" stop-color="#747474"/><stop offset="0.241" stop-color="#8f8f8f"/><stop offset="0.261" stop-color="#ababab"/><stop offset="0.286" stop-color="#d0d0d0"/><stop offset="0.330" stop-color="#e9e9e9"/><stop offset="0.389" stop-color="#e7e7e7"/><stop offset="0.438" stop-color="#cecece"/><stop offset="0.478" stop-color="#999999"/><stop offset="0.522" stop-color="#7a7a7a"/><stop offset="0.729" stop-color="#292929"/><stop offset="1.000" stop-color="#1f1f1f"/></linearGradient>
<linearGradient id="h76" x1="0" x2="1" y1="0" y2="0"><stop offset="0.000" stop-color="#0d0d0d"/><stop offset="0.064" stop-color="#121212"/><stop offset="0.108" stop-color="#333333"/><stop offset="0.167" stop-color="#6c6c6c"/><stop offset="0.197" stop-color="#777777"/><stop offset="0.217" stop-color="#737373"/><stop offset="0.246" stop-color="#8e8e8e"/><stop offset="0.291" stop-color="#cfcfcf"/><stop offset="0.340" stop-color="#e6e6e6"/><stop offset="0.389" stop-color="#e3e3e3"/><stop offset="0.438" stop-color="#cbcbcb"/><stop offset="0.478" stop-color="#979797"/><stop offset="0.517" stop-color="#7b7b7b"/><stop offset="0.724" stop-color="#282828"/><stop offset="1.000" stop-color="#1e1e1e"/></linearGradient>
<linearGradient id="h77" x1="0" x2="1" y1="0" y2="0"><stop offset="0.000" stop-color="#0d0d0d"/><stop offset="0.064" stop-color="#131313"/><stop offset="0.108" stop-color="#353535"/><stop offset="0.167" stop-color="#6f6f6f"/><stop offset="0.197" stop-color="#7a7a7a"/><stop offset="0.227" stop-color="#757575"/><stop offset="0.251" stop-color="#8c8c8c"/><stop offset="0.296" stop-color="#cccccc"/><stop offset="0.340" stop-color="#dfdfdf"/><stop offset="0.394" stop-color="#dddddd"/><stop offset="0.433" stop-color="#cccccc"/><stop offset="0.483" stop-color="#909090"/><stop offset="0.512" stop-color="#7b7b7b"/><stop offset="0.621" stop-color="#4c4c4c"/><stop offset="0.724" stop-color="#272727"/><stop offset="1.000" stop-color="#1d1d1d"/></linearGradient>
<linearGradient id="h78" x1="0" x2="1" y1="0" y2="0"><stop offset="0.000" stop-color="#0d0d0d"/><stop offset="0.064" stop-color="#131313"/><stop offset="0.108" stop-color="#353535"/><stop offset="0.167" stop-color="#6f6f6f"/><stop offset="0.197" stop-color="#7a7a7a"/><stop offset="0.227" stop-color="#707070"/><stop offset="0.256" stop-color="#898989"/><stop offset="0.300" stop-color="#c7c7c7"/><stop offset="0.320" stop-color="#d4d4d4"/><stop offset="0.374" stop-color="#dadada"/><stop offset="0.424" stop-color="#cfcfcf"/><stop offset="0.458" stop-color="#a9a9a9"/><stop offset="0.493" stop-color="#848484"/><stop offset="0.616" stop-color="#484848"/><stop offset="0.719" stop-color="#262626"/><stop offset="1.000" stop-color="#1d1d1d"/></linearGradient>
<linearGradient id="h79" x1="0" x2="1" y1="0" y2="0"><stop offset="0.000" stop-color="#0d0d0d"/><stop offset="0.064" stop-color="#121212"/><stop offset="0.108" stop-color="#333333"/><stop offset="0.167" stop-color="#6c6c6c"/><stop offset="0.197" stop-color="#777777"/><stop offset="0.232" stop-color="#6d6d6d"/><stop offset="0.261" stop-color="#858585"/><stop offset="0.305" stop-color="#c0c0c0"/><stop offset="0.330" stop-color="#d1d1d1"/><stop offset="0.394" stop-color="#d2d2d2"/><stop offset="0.424" stop-color="#c6c6c6"/><stop offset="0.458" stop-color="#a3a3a3"/><stop offset="0.498" stop-color="#7c7c7c"/><stop offset="0.626" stop-color="#3f3f3f"/><stop offset="0.714" stop-color="#252525"/><stop offset="1.000" stop-color="#1c1c1c"/></linearGradient>
<linearGradient id="h80" x1="0" x2="1" y1="0" y2="0"><stop offset="0.000" stop-color="#0d0d0d"/><stop offset="0.064" stop-color="#111111"/><stop offset="0.113" stop-color="#353535"/><stop offset="0.172" stop-color="#696969"/><stop offset="0.202" stop-color="#707070"/><stop offset="0.232" stop-color="#656565"/><stop offset="0.271" stop-color="#868686"/><stop offset="0.310" stop-color="#b8b8b8"/><stop offset="0.345" stop-color="#cccccc"/><stop offset="0.389" stop-color="#cccccc"/><stop offset="0.429" stop-color="#b9b9b9"/><stop offset="0.488" stop-color="#7d7d7d"/><stop offset="0.626" stop-color="#383838"/><stop offset="0.704" stop-color="#242424"/><stop offset="1.000" stop-color="#1b1b1b"/></linearGradient>
<linearGradient id="h81" x1="0" x2="1" y1="0" y2="0"><stop offset="0.000" stop-color="#0d0d0d"/><stop offset="0.069" stop-color="#121212"/><stop offset="0.123" stop-color="#3a3a3a"/><stop offset="0.172" stop-color="#606060"/><stop offset="0.207" stop-color="#666666"/><stop offset="0.232" stop-color="#5d5d5d"/><stop offset="0.281" stop-color="#848484"/><stop offset="0.315" stop-color="#adadad"/><stop offset="0.345" stop-color="#bebebe"/><stop offset="0.394" stop-color="#bfbfbf"/><stop offset="0.429" stop-color="#aeaeae"/><stop offset="0.483" stop-color="#7b7b7b"/><stop offset="0.631" stop-color="#303030"/><stop offset="0.695" stop-color="#232323"/><stop offset="1.000" stop-color="#1a1a1a"/></linearGradient>
<linearGradient id="h82" x1="0" x2="1" y1="0" y2="0"><stop offset="0.000" stop-color="#0d0d0d"/><stop offset="0.074" stop-color="#131313"/><stop offset="0.143" stop-color="#434343"/><stop offset="0.182" stop-color="#5a5a5a"/><stop offset="0.217" stop-color="#595959"/><stop offset="0.232" stop-color="#535353"/><stop offset="0.296" stop-color="#868686"/><stop offset="0.325" stop-color="#a5a5a5"/><stop offset="0.360" stop-color="#b2b2b2"/><stop offset="0.404" stop-color="#aeaeae"/><stop offset="0.443" stop-color="#949494"/><stop offset="0.478" stop-color="#787878"/><stop offset="0.626" stop-color="#2b2b2b"/><stop offset="0.690" stop-color="#212121"/><stop offset="1.000" stop-color="#191919"/></linearGradient>
<linearGradient id="h83" x1="0" x2="1" y1="0" y2="0"><stop offset="0.000" stop-color="#0d0d0d"/><stop offset="0.084" stop-color="#151515"/><stop offset="0.177" stop-color="#4d4d4d"/><stop offset="0.212" stop-color="#4f4f4f"/><stop offset="0.232" stop-color="#494949"/><stop offset="0.320" stop-color="#8c8c8c"/><stop offset="0.350" stop-color="#a0a0a0"/><stop offset="0.399" stop-color="#a0a0a0"/><stop offset="0.433" stop-color="#8c8c8c"/><stop offset="0.483" stop-color="#6e6e6e"/><stop offset="0.626" stop-color="#252525"/><stop offset="0.882" stop-color="#1a1a1a"/><stop offset="1.000" stop-color="#181818"/></linearGradient>
<linearGradient id="h84" x1="0" x2="1" y1="0" y2="0"><stop offset="0.000" stop-color="#0d0d0d"/><stop offset="0.089" stop-color="#141414"/><stop offset="0.177" stop-color="#414141"/><stop offset="0.217" stop-color="#424242"/><stop offset="0.232" stop-color="#3d3d3d"/><stop offset="0.315" stop-color="#767676"/><stop offset="0.360" stop-color="#8a8a8a"/><stop offset="0.404" stop-color="#878787"/><stop offset="0.527" stop-color="#4e4e4e"/><stop offset="0.621" stop-color="#202020"/><stop offset="1.000" stop-color="#171717"/></linearGradient>
<linearGradient id="h85" x1="0" x2="1" y1="0" y2="0"><stop offset="0.000" stop-color="#0d0d0d"/><stop offset="0.103" stop-color="#161616"/><stop offset="0.182" stop-color="#373737"/><stop offset="0.227" stop-color="#333333"/><stop offset="0.241" stop-color="#383838"/><stop offset="0.315" stop-color="#686868"/><stop offset="0.365" stop-color="#757575"/><stop offset="0.424" stop-color="#717171"/><stop offset="0.512" stop-color="#4c4c4c"/><stop offset="0.606" stop-color="#1d1d1d"/><stop offset="1.000" stop-color="#151515"/></linearGradient>
<linearGradient id="h86" x1="0" x2="1" y1="0" y2="0"><stop offset="0.000" stop-color="#0d0d0d"/><stop offset="0.118" stop-color="#171717"/><stop offset="0.187" stop-color="#2c2c2c"/><stop offset="0.236" stop-color="#272727"/><stop offset="0.315" stop-color="#585858"/><stop offset="0.365" stop-color="#646464"/><stop offset="0.433" stop-color="#5f5f5f"/><stop offset="0.517" stop-color="#3e3e3e"/><stop offset="0.591" stop-color="#1b1b1b"/><stop offset="1.000" stop-color="#141414"/></linearGradient>
<linearGradient id="h87" x1="0" x2="1" y1="0" y2="0"><stop offset="0.000" stop-color="#0d0d0d"/><stop offset="0.138" stop-color="#181818"/><stop offset="0.202" stop-color="#232323"/><stop offset="0.246" stop-color="#1f1f1f"/><stop offset="0.320" stop-color="#494949"/><stop offset="0.374" stop-color="#515151"/><stop offset="0.443" stop-color="#4d4d4d"/><stop offset="0.552" stop-color="#222222"/><stop offset="0.581" stop-color="#181818"/><stop offset="1.000" stop-color="#121212"/></linearGradient>
<linearGradient id="h88" x1="0" x2="1" y1="0" y2="0"><stop offset="0.000" stop-color="#0d0d0d"/><stop offset="0.217" stop-color="#1a1a1a"/><stop offset="0.256" stop-color="#161616"/><stop offset="0.325" stop-color="#373737"/><stop offset="0.399" stop-color="#3d3d3d"/><stop offset="0.463" stop-color="#373737"/><stop offset="0.557" stop-color="#161616"/><stop offset="1.000" stop-color="#0f0f0f"/></linearGradient>
<linearGradient id="h89" x1="0" x2="1" y1="0" y2="0"><stop offset="0.000" stop-color="#0d0d0d"/><stop offset="0.286" stop-color="#161616"/><stop offset="0.345" stop-color="#272727"/><stop offset="0.458" stop-color="#272727"/><stop offset="0.537" stop-color="#141414"/><stop offset="1.000" stop-color="#0d0d0d"/></linearGradient>
<linearGradient id="h90" x1="0" x2="1" y1="0" y2="0"><stop offset="0.000" stop-color="#0d0d0d"/><stop offset="0.468" stop-color="#131313"/><stop offset="1.000" stop-color="#0b0b0b"/></linearGradient>
<linearGradient id="h91" x1="0" x2="1" y1="0" y2="0"><stop offset="0.000" stop-color="#0d0d0d"/><stop offset="0.803" stop-color="#0c0c0c"/><stop offset="1.000" stop-color="#0a0a0a"/></linearGradient>
<linearGradient id="h92" x1="0" x2="1" y1="0" y2="0"><stop offset="0.000" stop-color="#0d0d0d"/><stop offset="0.833" stop-color="#0b0b0b"/><stop offset="1.000" stop-color="#090909"/></linearGradient>
<linearGradient id="h93" x1="0" x2="1" y1="0" y2="0"><stop offset="0.000" stop-color="#0d0d0d"/><stop offset="0.862" stop-color="#090909"/><stop offset="1.000" stop-color="#080808"/></linearGradient>
<linearGradient id="h94" x1="0" x2="1" y1="0" y2="0"><stop offset="0.000" stop-color="#0d0d0d"/><stop offset="0.872" stop-color="#090909"/><stop offset="1.000" stop-color="#080808"/></linearGradient>
<linearGradient id="h95" x1="0" x2="1" y1="0" y2="0"><stop offset="0.000" stop-color="#050505"/><stop offset="0.159" stop-color="#050505"/><stop offset="0.164" stop-color="#353535"/><stop offset="0.279" stop-color="#151515"/><stop offset="0.562" stop-color="#0f0f0f"/><stop offset="1.000" stop-color="#0d0d0d"/></linearGradient>
<linearGradient id="h96" x1="0" x2="1" y1="0" y2="0"><stop offset="0.000" stop-color="#050505"/><stop offset="0.149" stop-color="#050505"/><stop offset="0.154" stop-color="#373737"/><stop offset="0.259" stop-color="#181818"/><stop offset="0.507" stop-color="#141414"/><stop offset="0.891" stop-color="#0e0e0e"/><stop offset="1.000" stop-color="#0e0e0e"/></linearGradient>
<linearGradient id="h97" x1="0" x2="1" y1="0" y2="0"><stop offset="0.000" stop-color="#050505"/><stop offset="0.139" stop-color="#050505"/><stop offset="0.144" stop-color="#3b3b3b"/><stop offset="0.239" stop-color="#1f1f1f"/><stop offset="0.488" stop-color="#1b1b1b"/><stop offset="0.766" stop-color="#121212"/><stop offset="1.000" stop-color="#111111"/></linearGradient>
<linearGradient id="h98" x1="0" x2="1" y1="0" y2="0"><stop offset="0.000" stop-color="#050505"/><stop offset="0.129" stop-color="#050505"/><stop offset="0.134" stop-color="#414141"/><stop offset="0.214" stop-color="#282828"/><stop offset="0.473" stop-color="#242424"/><stop offset="0.726" stop-color="#171717"/><stop offset="1.000" stop-color="#161616"/></linearGradient>
<linearGradient id="h99" x1="0" x2="1" y1="0" y2="0"><stop offset="0.000" stop-color="#050505"/><stop offset="0.119" stop-color="#050505"/><stop offset="0.124" stop-color="#454545"/><stop offset="0.194" stop-color="#303030"/><stop offset="0.448" stop-color="#2f2f2f"/><stop offset="0.697" stop-color="#1b1b1b"/><stop offset="1.000" stop-color="#1a1a1a"/></linearGradient>
<linearGradient id="h100" x1="0" x2="1" y1="0" y2="0"><stop offset="0.000" stop-color="#050505"/><stop offset="0.104" stop-color="#050505"/><stop offset="0.109" stop-color="#474747"/><stop offset="0.174" stop-color="#363636"/><stop offset="0.403" stop-color="#373737"/><stop offset="0.711" stop-color="#1e1e1e"/><stop offset="1.000" stop-color="#1c1c1c"/></linearGradient>
<linearGradient id="h101" x1="0" x2="1" y1="0" y2="0"><stop offset="0.000" stop-color="#050505"/><stop offset="0.095" stop-color="#050505"/><stop offset="0.100" stop-color="#484848"/><stop offset="0.149" stop-color="#3d3d3d"/><stop offset="0.358" stop-color="#414141"/><stop offset="0.493" stop-color="#353535"/><stop offset="0.711" stop-color="#202020"/><stop offset="1.000" stop-color="#1e1e1e"/></linearGradient>
<linearGradient id="h102" x1="0" x2="1" y1="0" y2="0"><stop offset="0.000" stop-color="#050505"/><stop offset="0.085" stop-color="#050505"/><stop offset="0.090" stop-color="#494949"/><stop offset="0.139" stop-color="#454545"/><stop offset="0.343" stop-color="#4a4a4a"/><stop offset="0.488" stop-color="#3d3d3d"/><stop offset="0.706" stop-color="#232323"/><stop offset="1.000" stop-color="#202020"/></linearGradient>
<linearGradient id="h103" x1="0" x2="1" y1="0" y2="0"><stop offset="0.000" stop-color="#050505"/><stop offset="0.075" stop-color="#050505"/><stop offset="0.080" stop-color="#4c4c4c"/><stop offset="0.328" stop-color="#555555"/><stop offset="0.488" stop-color="#444444"/><stop offset="0.706" stop-color="#282828"/><stop offset="1.000" stop-color="#232323"/></linearGradient>
<linearGradient id="h104" x1="0" x2="1" y1="0" y2="0"><stop offset="0.000" stop-color="#050505"/><stop offset="0.065" stop-color="#050505"/><stop offset="0.070" stop-color="#565656"/><stop offset="0.323" stop-color="#616161"/><stop offset="0.493" stop-color="#4b4b4b"/><stop offset="0.706" stop-color="#2e2e2e"/><stop offset="1.000" stop-color="#282828"/></linearGradient>
<linearGradient id="h105" x1="0" x2="1" y1="0" y2="0"><stop offset="0.000" stop-color="#050505"/><stop offset="0.050" stop-color="#050505"/><stop offset="0.055" stop-color="#5f5f5f"/><stop offset="0.313" stop-color="#6c6c6c"/><stop offset="0.493" stop-color="#535353"/><stop offset="0.701" stop-color="#343434"/><stop offset="1.000" stop-color="#2c2c2c"/></linearGradient>
<linearGradient id="h106" x1="0" x2="1" y1="0" y2="0"><stop offset="0.000" stop-color="#050505"/><stop offset="0.040" stop-color="#050505"/><stop offset="0.045" stop-color="#696969"/><stop offset="0.303" stop-color="#777777"/><stop offset="0.493" stop-color="#5b5b5b"/><stop offset="0.697" stop-color="#3c3c3c"/><stop offset="1.000" stop-color="#313131"/></linearGradient>
<linearGradient id="h107" x1="0" x2="1" y1="0" y2="0"><stop offset="0.000" stop-color="#050505"/><stop offset="0.030" stop-color="#050505"/><stop offset="0.035" stop-color="#737373"/><stop offset="0.299" stop-color="#828282"/><stop offset="0.463" stop-color="#696969"/><stop offset="0.662" stop-color="#454545"/><stop offset="1.000" stop-color="#353535"/></linearGradient>
<linearGradient id="h108" x1="0" x2="1" y1="0" y2="0"><stop offset="0.000" stop-color="#050505"/><stop offset="0.020" stop-color="#050505"/><stop offset="0.025" stop-color="#7b7b7b"/><stop offset="0.294" stop-color="#8c8c8c"/><stop offset="0.408" stop-color="#7a7a7a"/><stop offset="0.647" stop-color="#4c4c4c"/><stop offset="1.000" stop-color="#373737"/></linearGradient>
<linearGradient id="h109" x1="0" x2="1" y1="0" y2="0"><stop offset="0.000" stop-color="#050505"/><stop offset="0.010" stop-color="#050505"/><stop offset="0.015" stop-color="#828282"/><stop offset="0.294" stop-color="#949494"/><stop offset="0.393" stop-color="#848484"/><stop offset="0.627" stop-color="#535353"/><stop offset="0.955" stop-color="#3a3a3a"/><stop offset="1.000" stop-color="#383838"/></linearGradient>
<linearGradient id="h110" x1="0" x2="1" y1="0" y2="0"><stop offset="0.000" stop-color="#858585"/><stop offset="0.274" stop-color="#9c9c9c"/><stop offset="0.358" stop-color="#909090"/><stop offset="0.612" stop-color="#585858"/><stop offset="0.920" stop-color="#3c3c3c"/><stop offset="1.000" stop-color="#373737"/></linearGradient>
<linearGradient id="h111" x1="0" x2="1" y1="0" y2="0"><stop offset="0.000" stop-color="#8a8a8a"/><stop offset="0.164" stop-color="#989898"/><stop offset="0.294" stop-color="#9e9e9e"/><stop offset="0.383" stop-color="#8c8c8c"/><stop offset="0.612" stop-color="#585858"/><stop offset="0.905" stop-color="#3b3b3b"/><stop offset="1.000" stop-color="#363636"/></linearGradient>
<linearGradient id="h112" x1="0" x2="1" y1="0" y2="0"><stop offset="0.000" stop-color="#8c8c8c"/><stop offset="0.139" stop-color="#989898"/><stop offset="0.294" stop-color="#9f9f9f"/><stop offset="0.378" stop-color="#8d8d8d"/><stop offset="0.602" stop-color="#575757"/><stop offset="0.806" stop-color="#3f3f3f"/><stop offset="1.000" stop-color="#333333"/></linearGradient>
<linearGradient id="h113" x1="0" x2="1" y1="0" y2="0"><stop offset="0.000" stop-color="#8c8c8c"/><stop offset="0.134" stop-color="#969696"/><stop offset="0.294" stop-color="#9b9b9b"/><stop offset="0.388" stop-color="#858585"/><stop offset="0.602" stop-color="#525252"/><stop offset="0.831" stop-color="#393939"/><stop offset="1.000" stop-color="#2f2f2f"/></linearGradient>
<linearGradient id="h114" x1="0" x2="1" y1="0" y2="0"><stop offset="0.000" stop-color="#878787"/><stop offset="0.169" stop-color="#909090"/><stop offset="0.299" stop-color="#919191"/><stop offset="0.597" stop-color="#4c4c4c"/><stop offset="0.831" stop-color="#343434"/><stop offset="1.000" stop-color="#2b2b2b"/></linearGradient>
<linearGradient id="h115" x1="0" x2="1" y1="0" y2="0"><stop offset="0.000" stop-color="#7e7e7e"/><stop offset="0.279" stop-color="#868686"/><stop offset="0.373" stop-color="#737373"/><stop offset="0.592" stop-color="#444444"/><stop offset="0.851" stop-color="#2d2d2d"/><stop offset="1.000" stop-color="#282828"/></linearGradient>
<linearGradient id="h116" x1="0" x2="1" y1="0" y2="0"><stop offset="0.000" stop-color="#717171"/><stop offset="0.299" stop-color="#747474"/><stop offset="0.582" stop-color="#3d3d3d"/><stop offset="0.856" stop-color="#292929"/><stop offset="1.000" stop-color="#242424"/></linearGradient>
<linearGradient id="h117" x1="0" x2="1" y1="0" y2="0"><stop offset="0.000" stop-color="#636363"/><stop offset="0.303" stop-color="#636363"/><stop offset="0.582" stop-color="#353535"/><stop offset="0.930" stop-color="#232323"/><stop offset="1.000" stop-color="#212121"/></linearGradient>
<linearGradient id="h118" x1="0" x2="1" y1="0" y2="0"><stop offset="0.000" stop-color="#707070"/><stop offset="0.020" stop-color="#6e6e6e"/><stop offset="0.045" stop-color="#747474"/><stop offset="0.080" stop-color="#676767"/><stop offset="0.104" stop-color="#565656"/><stop offset="0.313" stop-color="#515151"/><stop offset="0.592" stop-color="#2d2d2d"/><stop offset="1.000" stop-color="#1f1f1f"/></linearGradient>
<linearGradient id="h119" x1="0" x2="1" y1="0" y2="0"><stop offset="0.000" stop-color="#a4a4a4"/><stop offset="0.025" stop-color="#999999"/><stop offset="0.040" stop-color="#888888"/><stop offset="0.075" stop-color="#7b7b7b"/><stop offset="0.129" stop-color="#484848"/><stop offset="0.333" stop-color="#414141"/><stop offset="0.617" stop-color="#262626"/><stop offset="1.000" stop-color="#1d1d1d"/></linearGradient>
<linearGradient id="h120" x1="0" x2="1" y1="0" y2="0"><stop offset="0.000" stop-color="#d4d4d4"/><stop offset="0.020" stop-color="#cacaca"/><stop offset="0.045" stop-color="#a7a7a7"/><stop offset="0.060" stop-color="#8e8e8e"/><stop offset="0.100" stop-color="#6f6f6f"/><stop offset="0.149" stop-color="#3b3b3b"/><stop offset="0.348" stop-color="#343434"/><stop offset="0.672" stop-color="#202020"/><stop offset="1.000" stop-color="#1c1c1c"/></linearGradient>
<linearGradient id="h121" x1="0" x2="1" y1="0" y2="0"><stop offset="0.000" stop-color="#f1f1f1"/><stop offset="0.020" stop-color="#e6e6e6"/><stop offset="0.045" stop-color="#bebebe"/><stop offset="0.070" stop-color="#888888"/><stop offset="0.119" stop-color="#595959"/><stop offset="0.159" stop-color="#313131"/><stop offset="0.408" stop-color="#282828"/><stop offset="0.841" stop-color="#1c1c1c"/><stop offset="1.000" stop-color="#1b1b1b"/></linearGradient>
<linearGradient id="h122" x1="0" x2="1" y1="0" y2="0"><stop offset="0.000" stop-color="#f0f0f0"/><stop offset="0.020" stop-color="#e5e5e5"/><stop offset="0.045" stop-color="#bdbdbd"/><stop offset="0.080" stop-color="#737373"/><stop offset="0.164" stop-color="#292929"/><stop offset="0.876" stop-color="#1a1a1a"/><stop offset="1.000" stop-color="#1a1a1a"/></linearGradient>
<linearGradient id="h123" x1="0" x2="1" y1="0" y2="0"><stop offset="0.000" stop-color="#cfcfcf"/><stop offset="0.020" stop-color="#c6c6c6"/><stop offset="0.045" stop-color="#a3a3a3"/><stop offset="0.085" stop-color="#595959"/><stop offset="0.159" stop-color="#232323"/><stop offset="1.000" stop-color="#191919"/></linearGradient>
<linearGradient id="h124" x1="0" x2="1" y1="0" y2="0"><stop offset="0.000" stop-color="#9a9a9a"/><stop offset="0.025" stop-color="#8f8f8f"/><stop offset="0.065" stop-color="#5e5e5e"/><stop offset="0.090" stop-color="#3e3e3e"/><stop offset="0.149" stop-color="#1e1e1e"/><stop offset="1.000" stop-color="#181818"/></linearGradient>
<linearGradient id="h125" x1="0" x2="1" y1="0" y2="0"><stop offset="0.000" stop-color="#636363"/><stop offset="0.030" stop-color="#595959"/><stop offset="0.090" stop-color="#282828"/><stop offset="0.134" stop-color="#1b1b1b"/><stop offset="1.000" stop-color="#181818"/></linearGradient>
<linearGradient id="h126" x1="0" x2="1" y1="0" y2="0"><stop offset="0.000" stop-color="#373737"/><stop offset="0.045" stop-color="#2b2b2b"/><stop offset="0.085" stop-color="#191919"/><stop offset="1.000" stop-color="#171717"/></linearGradient>
<linearGradient id="h127" x1="0" x2="1" y1="0" y2="0"><stop offset="0.000" stop-color="#1a1a1a"/><stop offset="1.000" stop-color="#161616"/></linearGradient>
<linearGradient id="h128" x1="0" x2="1" y1="0" y2="0"><stop offset="0.000" stop-color="#151515"/><stop offset="1.000" stop-color="#151515"/></linearGradient>
<linearGradient id="h129" x1="0" x2="1" y1="0" y2="0"><stop offset="0.000" stop-color="#141414"/><stop offset="1.000" stop-color="#141414"/></linearGradient>
<linearGradient id="h130" x1="0" x2="1" y1="0" y2="0"><stop offset="0.000" stop-color="#131313"/><stop offset="1.000" stop-color="#131313"/></linearGradient>
<linearGradient id="h131" x1="0" x2="1" y1="0" y2="0"><stop offset="0.000" stop-color="#121212"/><stop offset="1.000" stop-color="#121212"/></linearGradient>
<linearGradient id="h132" x1="0" x2="1" y1="0" y2="0"><stop offset="0.000" stop-color="#111111"/><stop offset="1.000" stop-color="#111111"/></linearGradient>
<linearGradient id="h133" x1="0" x2="1" y1="0" y2="0"><stop offset="0.000" stop-color="#101010"/><stop offset="1.000" stop-color="#101010"/></linearGradient>
<linearGradient id="h134" x1="0" x2="1" y1="0" y2="0"><stop offset="0.000" stop-color="#0f0f0f"/><stop offset="1.000" stop-color="#0f0f0f"/></linearGradient>
<linearGradient id="h135" x1="0" x2="1" y1="0" y2="0"><stop offset="0.000" stop-color="#0e0e0e"/><stop offset="1.000" stop-color="#0e0e0e"/></linearGradient>
<linearGradient id="h136" x1="0" x2="1" y1="0" y2="0"><stop offset="0.000" stop-color="#0d0d0d"/><stop offset="1.000" stop-color="#0d0d0d"/></linearGradient>
<linearGradient id="h137" x1="0" x2="1" y1="0" y2="0"><stop offset="0.000" stop-color="#0d0d0d"/><stop offset="1.000" stop-color="#0d0d0d"/></linearGradient>
<linearGradient id="h138" x1="0" x2="1" y1="0" y2="0"><stop offset="0.000" stop-color="#0d0d0d"/><stop offset="1.000" stop-color="#0d0d0d"/></linearGradient>
<linearGradient id="h139" x1="0" x2="1" y1="0" y2="0"><stop offset="0.000" stop-color="#0d0d0d"/><stop offset="1.000" stop-color="#0d0d0d"/></linearGradient>
<linearGradient id="h140" x1="0" x2="1" y1="0" y2="0"><stop offset="0.000" stop-color="#0d0d0d"/><stop offset="1.000" stop-color="#0d0d0d"/></linearGradient>
<linearGradient id="h141" x1="0" x2="1" y1="0" y2="0"><stop offset="0.000" stop-color="#0d0d0d"/><stop offset="0.163" stop-color="#0e0e0e"/><stop offset="0.251" stop-color="#373737"/><stop offset="0.340" stop-color="#484848"/><stop offset="0.453" stop-color="#434343"/><stop offset="0.547" stop-color="#282828"/><stop offset="0.611" stop-color="#0d0d0d"/><stop offset="1.000" stop-color="#080808"/></linearGradient>
<linearGradient id="h142" x1="0" x2="1" y1="0" y2="0"><stop offset="0.000" stop-color="#0d0d0d"/><stop offset="0.158" stop-color="#0f0f0f"/><stop offset="0.241" stop-color="#393939"/><stop offset="0.325" stop-color="#4d4d4d"/><stop offset="0.443" stop-color="#4a4a4a"/><stop offset="0.537" stop-color="#313131"/><stop offset="0.606" stop-color="#131313"/><stop offset="0.773" stop-color="#0b0b0b"/><stop offset="1.000" stop-color="#080808"/></linearGradient>
<linearGradient id="h143" x1="0" x2="1" y1="0" y2="0"><stop offset="0.000" stop-color="#0d0d0d"/><stop offset="0.153" stop-color="#101010"/><stop offset="0.236" stop-color="#3d3d3d"/><stop offset="0.315" stop-color="#515151"/><stop offset="0.433" stop-color="#515151"/><stop offset="0.522" stop-color="#3c3c3c"/><stop offset="0.601" stop-color="#1a1a1a"/><stop offset="0.764" stop-color="#0d0d0d"/><stop offset="1.000" stop-color="#0a0a0a"/></linearGradient>
<linearGradient id="h144" x1="0" x2="1" y1="0" y2="0"><stop offset="0.000" stop-color="#0d0d0d"/><stop offset="0.153" stop-color="#141414"/><stop offset="0.236" stop-color="#424242"/><stop offset="0.310" stop-color="#565656"/><stop offset="0.424" stop-color="#585858"/><stop offset="0.507" stop-color="#464646"/><stop offset="0.596" stop-color="#202020"/><stop offset="0.778" stop-color="#0f0f0f"/><stop offset="1.000" stop-color="#0d0d0d"/></linearGradient>
<linearGradient id="h145" x1="0" x2="1" y1="0" y2="0"><stop offset="0.000" stop-color="#0d0d0d"/><stop offset="0.148" stop-color="#151515"/><stop offset="0.232" stop-color="#464646"/><stop offset="0.310" stop-color="#5c5c5c"/><stop offset="0.424" stop-color="#5d5d5d"/><stop offset="0.507" stop-color="#4b4b4b"/><stop offset="0.591" stop-color="#262626"/><stop offset="0.783" stop-color="#131313"/><stop offset="1.000" stop-color="#101010"/></linearGradient>
<linearGradient id="h146" x1="0" x2="1" y1="0" y2="0"><stop offset="0.000" stop-color="#0d0d0d"/><stop offset="0.148" stop-color="#191919"/><stop offset="0.232" stop-color="#4b4b4b"/><stop offset="0.310" stop-color="#616161"/><stop offset="0.419" stop-color="#636363"/><stop offset="0.507" stop-color="#505050"/><stop offset="0.586" stop-color="#2d2d2d"/><stop offset="0.793" stop-color="#151515"/><stop offset="1.000" stop-color="#131313"/></linearGradient>
<linearGradient id="h147" x1="0" x2="1" y1="0" y2="0"><stop offset="0.000" stop-color="#0d0d0d"/><stop offset="0.143" stop-color="#191919"/><stop offset="0.232" stop-color="#505050"/><stop offset="0.310" stop-color="#676767"/><stop offset="0.424" stop-color="#686868"/><stop offset="0.512" stop-color="#525252"/><stop offset="0.581" stop-color="#333333"/><stop offset="0.808" stop-color="#171717"/><stop offset="1.000" stop-color="#141414"/></linearGradient>
<linearGradient id="h148" x1="0" x2="1" y1="0" y2="0"><stop offset="0.000" stop-color="#0d0d0d"/><stop offset="0.138" stop-color="#1a1a1a"/><stop offset="0.232" stop-color="#555555"/><stop offset="0.305" stop-color="#6b6b6b"/><stop offset="0.414" stop-color="#6e6e6e"/><stop offset="0.493" stop-color="#5d5d5d"/><stop offset="0.576" stop-color="#393939"/><stop offset="0.828" stop-color="#171717"/><stop offset="1.000" stop-color="#151515"/></linearGradient>
<linearGradient id="h149" x1="0" x2="1" y1="0" y2="0"><stop offset="0.000" stop-color="#0d0d0d"/><stop offset="0.133" stop-color="#191919"/><stop offset="0.227" stop-color="#575757"/><stop offset="0.296" stop-color="#6f6f6f"/><stop offset="0.394" stop-color="#747474"/><stop offset="0.478" stop-color="#676767"/><stop offset="0.571" stop-color="#3f3f3f"/><stop offset="0.813" stop-color="#1a1a1a"/><stop offset="1.000" stop-color="#151515"/></linearGradient>
<linearGradient id="h150" x1="0" x2="1" y1="0" y2="0"><stop offset="0.000" stop-color="#0d0d0d"/><stop offset="0.118" stop-color="#181818"/><stop offset="0.138" stop-color="#1d1d1d"/><stop offset="0.217" stop-color="#565656"/><stop offset="0.286" stop-color="#717171"/><stop offset="0.374" stop-color="#7a7a7a"/><stop offset="0.458" stop-color="#707070"/><stop offset="0.547" stop-color="#4d4d4d"/><stop offset="0.571" stop-color="#444444"/><stop offset="0.798" stop-color="#202020"/><stop offset="0.867" stop-color="#171717"/><stop offset="1.000" stop-color="#151515"/></linearGradient>
<linearGradient id="h151" x1="0" x2="1" y1="0" y2="0"><stop offset="0.000" stop-color="#0d0d0d"/><stop offset="0.113" stop-color="#181818"/><stop offset="0.133" stop-color="#1c1c1c"/><stop offset="0.212" stop-color="#575757"/><stop offset="0.276" stop-color="#747474"/><stop offset="0.360" stop-color="#7f7f7f"/><stop offset="0.448" stop-color="#777777"/><stop offset="0.527" stop-color="#5a5a5a"/><stop offset="0.562" stop-color="#4a4a4a"/><stop offset="0.768" stop-color="#2a2a2a"/><stop offset="0.877" stop-color="#171717"/><stop offset="1.000" stop-color="#161616"/></linearGradient>
<linearGradient id="h152" x1="0" x2="1" y1="0" y2="0"><stop offset="0.000" stop-color="#0d0d0d"/><stop offset="0.108" stop-color="#171717"/><stop offset="0.133" stop-color="#1e1e1e"/><stop offset="0.212" stop-color="#5b5b5b"/><stop offset="0.281" stop-color="#7a7a7a"/><stop offset="0.360" stop-color="#878787"/><stop offset="0.433" stop-color="#7f7f7f"/><stop offset="0.517" stop-color="#626262"/><stop offset="0.557" stop-color="#4f4f4f"/><stop offset="0.773" stop-color="#2c2c2c"/><stop offset="0.887" stop-color="#171717"/><stop offset="1.000" stop-color="#161616"/></linearGradient>
<linearGradient id="h153" x1="0" x2="1" y1="0" y2="0"><stop offset="0.000" stop-color="#0d0d0d"/><stop offset="0.103" stop-color="#161616"/><stop offset="0.128" stop-color="#1b1b1b"/><stop offset="0.212" stop-color="#5e5e5e"/><stop offset="0.281" stop-color="#7e7e7e"/><stop offset="0.340" stop-color="#8e8e8e"/><stop offset="0.414" stop-color="#8b8b8b"/><stop offset="0.522" stop-color="#626262"/><stop offset="0.557" stop-color="#545454"/><stop offset="0.778" stop-color="#2f2f2f"/><stop offset="0.897" stop-color="#181818"/><stop offset="1.000" stop-color="#171717"/></linearGradient>
<linearGradient id="h154" x1="0" x2="1" y1="0" y2="0"><stop offset="0.000" stop-color="#0d0d0d"/><stop offset="0.103" stop-color="#171717"/><stop offset="0.128" stop-color="#1d1d1d"/><stop offset="0.207" stop-color="#5e5e5e"/><stop offset="0.305" stop-color="#909090"/><stop offset="0.374" stop-color="#989898"/><stop offset="0.433" stop-color="#8c8c8c"/><stop offset="0.552" stop-color="#585858"/><stop offset="0.773" stop-color="#333333"/><stop offset="0.901" stop-color="#181818"/><stop offset="1.000" stop-color="#171717"/></linearGradient>
<linearGradient id="h155" x1="0" x2="1" y1="0" y2="0"><stop offset="0.000" stop-color="#0d0d0d"/><stop offset="0.099" stop-color="#161616"/><stop offset="0.128" stop-color="#1e1e1e"/><stop offset="0.207" stop-color="#616161"/><stop offset="0.305" stop-color="#989898"/><stop offset="0.360" stop-color="#a4a4a4"/><stop offset="0.404" stop-color="#9e9e9e"/><stop offset="0.463" stop-color="#838383"/><stop offset="0.547" stop-color="#5d5d5d"/><stop offset="0.773" stop-color="#363636"/><stop offset="0.906" stop-color="#191919"/><stop offset="1.000" stop-color="#181818"/></linearGradient>
<linearGradient id="h156" x1="0" x2="1" y1="0" y2="0"><stop offset="0.000" stop-color="#0d0d0d"/><stop offset="0.099" stop-color="#161616"/><stop offset="0.123" stop-color="#1a1a1a"/><stop offset="0.207" stop-color="#646464"/><stop offset="0.325" stop-color="#afafaf"/><stop offset="0.374" stop-color="#b5b5b5"/><stop offset="0.409" stop-color="#ababab"/><stop offset="0.498" stop-color="#757575"/><stop offset="0.542" stop-color="#626262"/><stop offset="0.778" stop-color="#373737"/><stop offset="0.911" stop-color="#1a1a1a"/><stop offset="1.000" stop-color="#191919"/></linearGradient>
<linearGradient id="h157" x1="0" x2="1" y1="0" y2="0"><stop offset="0.000" stop-color="#0d0d0d"/><stop offset="0.094" stop-color="#151515"/><stop offset="0.123" stop-color="#1b1b1b"/><stop offset="0.207" stop-color="#666666"/><stop offset="0.266" stop-color="#919191"/><stop offset="0.320" stop-color="#bcbcbc"/><stop offset="0.369" stop-color="#c4c4c4"/><stop offset="0.409" stop-color="#bababa"/><stop offset="0.463" stop-color="#8d8d8d"/><stop offset="0.517" stop-color="#6d6d6d"/><stop offset="0.852" stop-color="#272727"/><stop offset="0.921" stop-color="#1b1b1b"/><stop offset="1.000" stop-color="#1a1a1a"/></linearGradient>
<linearGradient id="h158" x1="0" x2="1" y1="0" y2="0"><stop offset="0.000" stop-color="#0d0d0d"/><stop offset="0.094" stop-color="#161616"/><stop offset="0.123" stop-color="#1c1c1c"/><stop offset="0.207" stop-color="#686868"/><stop offset="0.251" stop-color="#898989"/><stop offset="0.310" stop-color="#c2c2c2"/><stop offset="0.350" stop-color="#d1d1d1"/><stop offset="0.394" stop-color="#cecece"/><stop offset="0.429" stop-color="#b6b6b6"/><stop offset="0.453" stop-color="#999999"/><stop offset="0.502" stop-color="#767676"/><stop offset="0.675" stop-color="#515151"/><stop offset="0.916" stop-color="#1c1c1c"/><stop offset="1.000" stop-color="#1b1b1b"/></linearGradient>
<linearGradient id="h159" x1="0" x2="1" y1="0" y2="0"><stop offset="0.000" stop-color="#0d0d0d"/><stop offset="0.094" stop-color="#161616"/><stop offset="0.123" stop-color="#1c1c1c"/><stop offset="0.207" stop-color="#696969"/><stop offset="0.246" stop-color="#888888"/><stop offset="0.305" stop-color="#cacaca"/><stop offset="0.330" stop-color="#d6d6d6"/><stop offset="0.389" stop-color="#d7d7d7"/><stop offset="0.414" stop-color="#cecece"/><stop offset="0.443" stop-color="#adadad"/><stop offset="0.458" stop-color="#999999"/><stop offset="0.483" stop-color="#898989"/><stop offset="0.562" stop-color="#6d6d6d"/><stop offset="0.921" stop-color="#1d1d1d"/><stop offset="1.000" stop-color="#1c1c1c"/></linearGradient>
<linearGradient id="h160" x1="0" x2="1" y1="0" y2="0"><stop offset="0.000" stop-color="#0d0d0d"/><stop offset="0.089" stop-color="#151515"/><stop offset="0.123" stop-color="#1c1c1c"/><stop offset="0.212" stop-color="#6e6e6e"/><stop offset="0.246" stop-color="#8c8c8c"/><stop offset="0.300" stop-color="#cfcfcf"/><stop offset="0.345" stop-color="#e0e0e0"/><stop offset="0.399" stop-color="#dbdbdb"/><stop offset="0.424" stop-color="#cecece"/><stop offset="0.453" stop-color="#a5a5a5"/><stop offset="0.463" stop-color="#999999"/><stop offset="0.571" stop-color="#6e6e6e"/><stop offset="0.709" stop-color="#4e4e4e"/><stop offset="0.921" stop-color="#1e1e1e"/><stop offset="1.000" stop-color="#1d1d1d"/></linearGradient>
<linearGradient id="h161" x1="0" x2="1" y1="0" y2="0"><stop offset="0.000" stop-color="#0d0d0d"/><stop offset="0.089" stop-color="#151515"/><stop offset="0.123" stop-color="#1c1c1c"/><stop offset="0.212" stop-color="#6f6f6f"/><stop offset="0.241" stop-color="#898989"/><stop offset="0.296" stop-color="#d2d2d2"/><stop offset="0.345" stop-color="#e8e8e8"/><stop offset="0.389" stop-color="#e5e5e5"/><stop offset="0.429" stop-color="#d0d0d0"/><stop offset="0.458" stop-color="#a2a2a2"/><stop offset="0.537" stop-color="#808080"/><stop offset="0.596" stop-color="#696969"/><stop offset="0.921" stop-color="#1f1f1f"/><stop offset="1.000" stop-color="#1e1e1e"/></linearGradient>
<linearGradient id="h162" x1="0" x2="1" y1="0" y2="0"><stop offset="0.000" stop-color="#0d0d0d"/><stop offset="0.089" stop-color="#151515"/><stop offset="0.128" stop-color="#212121"/><stop offset="0.212" stop-color="#6f6f6f"/><stop offset="0.241" stop-color="#8b8b8b"/><stop offset="0.296" stop-color="#d5d5d5"/><stop offset="0.345" stop-color="#f1f1f1"/><stop offset="0.389" stop-color="#ededed"/><stop offset="0.433" stop-color="#cfcfcf"/><stop offset="0.458" stop-color="#a6a6a6"/><stop offset="0.517" stop-color="#919191"/><stop offset="0.576" stop-color="#727272"/><stop offset="0.675" stop-color="#575757"/><stop offset="0.921" stop-color="#202020"/><stop offset="1.000" stop-color="#1f1f1f"/></linearGradient>
<linearGradient id="h163" x1="0" x2="1" y1="0" y2="0"><stop offset="0.000" stop-color="#0d0d0d"/><stop offset="0.089" stop-color="#151515"/><stop offset="0.128" stop-color="#212121"/><stop offset="0.217" stop-color="#747474"/><stop offset="0.241" stop-color="#8c8c8c"/><stop offset="0.291" stop-color="#d4d4d4"/><stop offset="0.340" stop-color="#f6f6f6"/><stop offset="0.384" stop-color="#f4f4f4"/><stop offset="0.429" stop-color="#d7d7d7"/><stop offset="0.448" stop-color="#bbbbbb"/><stop offset="0.458" stop-color="#a9a9a9"/><stop offset="0.517" stop-color="#959595"/><stop offset="0.581" stop-color="#727272"/><stop offset="0.675" stop-color="#585858"/><stop offset="0.921" stop-color="#202020"/><stop offset="1.000" stop-color="#1f1f1f"/></linearGradient>
<linearGradient id="h164" x1="0" x2="1" y1="0" y2="0"><stop offset="0.000" stop-color="#0d0d0d"/><stop offset="0.084" stop-color="#141414"/><stop offset="0.128" stop-color="#212121"/><stop offset="0.217" stop-color="#747474"/><stop offset="0.241" stop-color="#8d8d8d"/><stop offset="0.291" stop-color="#d6d6d6"/><stop offset="0.335" stop-color="#f8f8f8"/><stop offset="0.369" stop-color="#fdfdfd"/><stop offset="0.404" stop-color="#ededed"/><stop offset="0.438" stop-color="#cdcdcd"/><stop offset="0.458" stop-color="#aaaaaa"/><stop offset="0.517" stop-color="#989898"/><stop offset="0.581" stop-color="#737373"/><stop offset="0.675" stop-color="#585858"/><stop offset="0.916" stop-color="#212121"/><stop offset="1.000" stop-color="#202020"/></linearGradient>
<linearGradient id="h165" x1="0" x2="1" y1="0" y2="0"><stop offset="0.000" stop-color="#0d0d0d"/><stop offset="0.084" stop-color="#141414"/><stop offset="0.128" stop-color="#212121"/><stop offset="0.217" stop-color="#747474"/><stop offset="0.241" stop-color="#8d8d8d"/><stop offset="0.291" stop-color="#d7d7d7"/><stop offset="0.335" stop-color="#fbfbfb"/><stop offset="0.374" stop-color="#ffffff"/><stop offset="0.409" stop-color="#ebebeb"/><stop offset="0.438" stop-color="#cfcfcf"/><stop offset="0.458" stop-color="#ababab"/><stop offset="0.522" stop-color="#979797"/><stop offset="0.586" stop-color="#727272"/><stop offset="0.680" stop-color="#585858"/><stop offset="0.916" stop-color="#212121"/><stop offset="1.000" stop-color="#202020"/></linearGradient>
<linearGradient id="h166" x1="0" x2="1" y1="0" y2="0"><stop offset="0.000" stop-color="#0d0d0d"/><stop offset="0.084" stop-color="#141414"/><stop offset="0.128" stop-color="#212121"/><stop offset="0.217" stop-color="#747474"/><stop offset="0.241" stop-color="#8d8d8d"/><stop offset="0.291" stop-color="#d8d8d8"/><stop offset="0.335" stop-color="#fdfdfd"/><stop offset="0.384" stop-color="#fdfdfd"/><stop offset="0.419" stop-color="#e3e3e3"/><stop offset="0.438" stop-color="#cfcfcf"/><stop offset="0.458" stop-color="#acacac"/><stop offset="0.522" stop-color="#979797"/><stop offset="0.586" stop-color="#727272"/><stop offset="0.680" stop-color="#585858"/><stop offset="0.916" stop-color="#212121"/><stop offset="1.000" stop-color="#202020"/></linearGradient>
<linearGradient id="h167" x1="0" x2="1" y1="0" y2="0"><stop offset="0.000" stop-color="#0d0d0d"/><stop offset="0.084" stop-color="#141414"/><stop offset="0.128" stop-color="#212121"/><stop offset="0.217" stop-color="#747474"/><stop offset="0.241" stop-color="#8d8d8d"/><stop offset="0.291" stop-color="#d8d8d8"/><stop offset="0.335" stop-color="#fcfcfc"/><stop offset="0.384" stop-color="#fcfcfc"/><stop offset="0.419" stop-color="#e3e3e3"/><stop offset="0.438" stop-color="#cfcfcf"/><stop offset="0.458" stop-color="#acacac"/><stop offset="0.522" stop-color="#979797"/><stop offset="0.586" stop-color="#727272"/><stop offset="0.680" stop-color="#585858"/><stop offset="0.921" stop-color="#212121"/><stop offset="1.000" stop-color="#202020"/></linearGradient>
<linearGradient id="h168" x1="0" x2="1" y1="0" y2="0"><stop offset="0.000" stop-color="#0d0d0d"/><stop offset="0.089" stop-color="#151515"/><stop offset="0.128" stop-color="#202020"/><stop offset="0.217" stop-color="#747474"/><stop offset="0.241" stop-color="#8d8d8d"/><stop offset="0.291" stop-color="#d7d7d7"/><stop offset="0.335" stop-color="#fafafa"/><stop offset="0.369" stop-color="#fefefe"/><stop offset="0.404" stop-color="#eeeeee"/><stop offset="0.438" stop-color="#cdcdcd"/><stop offset="0.458" stop-color="#ababab"/><stop offset="0.522" stop-color="#969696"/><stop offset="0.586" stop-color="#727272"/><stop offset="0.675" stop-color="#595959"/><stop offset="0.921" stop-color="#202020"/><stop offset="1.000" stop-color="#1f1f1f"/></linearGradient>
<linearGradient id="h169" x1="0" x2="1" y1="0" y2="0"><stop offset="0.000" stop-color="#0d0d0d"/><stop offset="0.089" stop-color="#151515"/><stop offset="0.128" stop-color="#202020"/><stop offset="0.217" stop-color="#737373"/><stop offset="0.241" stop-color="#8b8b8b"/><stop offset="0.291" stop-color="#d5d5d5"/><stop offset="0.340" stop-color="#f8f8f8"/><stop offset="0.379" stop-color="#f7f7f7"/><stop offset="0.414" stop-color="#e3e3e3"/><stop offset="0.433" stop-color="#d3d3d3"/><stop offset="0.458" stop-color="#a9a9a9"/><stop offset="0.517" stop-color="#979797"/><stop offset="0.586" stop-color="#717171"/><stop offset="0.675" stop-color="#585858"/><stop offset="0.921" stop-color="#202020"/><stop offset="1.000" stop-color="#1f1f1f"/></linearGradient>
<linearGradient id="h170" x1="0" x2="1" y1="0" y2="0"><stop offset="0.000" stop-color="#0d0d0d"/><stop offset="0.089" stop-color="#151515"/><stop offset="0.128" stop-color="#1f1f1f"/><stop offset="0.217" stop-color="#727272"/><stop offset="0.241" stop-color="#898989"/><stop offset="0.296" stop-color="#d6d6d6"/><stop offset="0.345" stop-color="#f2f2f2"/><stop offset="0.384" stop-color="#efefef"/><stop offset="0.429" stop-color="#d4d4d4"/><stop offset="0.458" stop-color="#a6a6a6"/><stop offset="0.512" stop-color="#969696"/><stop offset="0.581" stop-color="#717171"/><stop offset="0.670" stop-color="#585858"/><stop offset="0.921" stop-color="#1f1f1f"/><stop offset="1.000" stop-color="#1e1e1e"/></linearGradient>
<linearGradient id="h171" x1="0" x2="1" y1="0" y2="0"><stop offset="0.000" stop-color="#0d0d0d"/><stop offset="0.089" stop-color="#151515"/><stop offset="0.128" stop-color="#1e1e1e"/><stop offset="0.217" stop-color="#717171"/><stop offset="0.241" stop-color="#868686"/><stop offset="0.300" stop-color="#d5d5d5"/><stop offset="0.345" stop-color="#e9e9e9"/><stop offset="0.389" stop-color="#e6e6e6"/><stop offset="0.429" stop-color="#cecece"/><stop offset="0.458" stop-color="#a3a3a3"/><stop offset="0.507" stop-color="#939393"/><stop offset="0.581" stop-color="#6e6e6e"/><stop offset="0.670" stop-color="#575757"/><stop offset="0.916" stop-color="#1e1e1e"/><stop offset="1.000" stop-color="#1d1d1d"/></linearGradient>
<linearGradient id="h172" x1="0" x2="1" y1="0" y2="0"><stop offset="0.000" stop-color="#0d0d0d"/><stop offset="0.094" stop-color="#161616"/><stop offset="0.128" stop-color="#1d1d1d"/><stop offset="0.217" stop-color="#6f6f6f"/><stop offset="0.246" stop-color="#898989"/><stop offset="0.300" stop-color="#cdcdcd"/><stop offset="0.330" stop-color="#dddddd"/><stop offset="0.379" stop-color="#e0e0e0"/><stop offset="0.419" stop-color="#d2d2d2"/><stop offset="0.448" stop-color="#aaaaaa"/><stop offset="0.458" stop-color="#9f9f9f"/><stop offset="0.532" stop-color="#808080"/><stop offset="0.611" stop-color="#616161"/><stop offset="0.916" stop-color="#1d1d1d"/><stop offset="1.000" stop-color="#1c1c1c"/></linearGradient>
<linearGradient id="h173" x1="0" x2="1" y1="0" y2="0"><stop offset="0.000" stop-color="#0d0d0d"/><stop offset="0.094" stop-color="#161616"/><stop offset="0.133" stop-color="#202020"/><stop offset="0.217" stop-color="#6c6c6c"/><stop offset="0.251" stop-color="#898989"/><stop offset="0.300" stop-color="#c3c3c3"/><stop offset="0.330" stop-color="#d5d5d5"/><stop offset="0.389" stop-color="#d6d6d6"/><stop offset="0.414" stop-color="#cbcbcb"/><stop offset="0.443" stop-color="#aaaaaa"/><stop offset="0.458" stop-color="#969696"/><stop offset="0.601" stop-color="#616161"/><stop offset="0.911" stop-color="#1c1c1c"/><stop offset="1.000" stop-color="#1b1b1b"/></linearGradient>
<linearGradient id="h174" x1="0" x2="1" y1="0" y2="0"><stop offset="0.000" stop-color="#0d0d0d"/><stop offset="0.094" stop-color="#151515"/><stop offset="0.133" stop-color="#1e1e1e"/><stop offset="0.217" stop-color="#696969"/><stop offset="0.256" stop-color="#898989"/><stop offset="0.310" stop-color="#bfbfbf"/><stop offset="0.350" stop-color="#cecece"/><stop offset="0.394" stop-color="#cacaca"/><stop offset="0.424" stop-color="#b7b7b7"/><stop offset="0.463" stop-color="#8c8c8c"/><stop offset="0.591" stop-color="#606060"/><stop offset="0.906" stop-color="#1b1b1b"/><stop offset="1.000" stop-color="#1a1a1a"/></linearGradient>
<linearGradient id="h175" x1="0" x2="1" y1="0" y2="0"><stop offset="0.000" stop-color="#0d0d0d"/><stop offset="0.099" stop-color="#161616"/><stop offset="0.133" stop-color="#1b1b1b"/><stop offset="0.222" stop-color="#6a6a6a"/><stop offset="0.266" stop-color="#8b8b8b"/><stop offset="0.320" stop-color="#b7b7b7"/><stop offset="0.365" stop-color="#bfbfbf"/><stop offset="0.404" stop-color="#b8b8b8"/><stop offset="0.478" stop-color="#7b7b7b"/><stop offset="0.601" stop-color="#5a5a5a"/><stop offset="0.901" stop-color="#1a1a1a"/><stop offset="1.000" stop-color="#191919"/></linearGradient>
<linearGradient id="h176" x1="0" x2="1" y1="0" y2="0"><stop offset="0.000" stop-color="#0d0d0d"/><stop offset="0.103" stop-color="#161616"/><stop offset="0.138" stop-color="#1d1d1d"/><stop offset="0.222" stop-color="#656565"/><stop offset="0.325" stop-color="#a9a9a9"/><stop offset="0.374" stop-color="#afafaf"/><stop offset="0.414" stop-color="#a3a3a3"/><stop offset="0.483" stop-color="#757575"/><stop offset="0.532" stop-color="#636363"/><stop offset="0.828" stop-color="#262626"/><stop offset="0.897" stop-color="#191919"/><stop offset="1.000" stop-color="#171717"/></linearGradient>
<linearGradient id="h177" x1="0" x2="1" y1="0" y2="0"><stop offset="0.000" stop-color="#0d0d0d"/><stop offset="0.133" stop-color="#191919"/><stop offset="0.163" stop-color="#303030"/><stop offset="0.236" stop-color="#6a6a6a"/><stop offset="0.325" stop-color="#999999"/><stop offset="0.384" stop-color="#9d9d9d"/><stop offset="0.433" stop-color="#8a8a8a"/><stop offset="0.522" stop-color="#5e5e5e"/><stop offset="0.768" stop-color="#303030"/><stop offset="0.887" stop-color="#171717"/><stop offset="1.000" stop-color="#161616"/></linearGradient>
<linearGradient id="h178" x1="0" x2="1" y1="0" y2="0"><stop offset="0.000" stop-color="#0d0d0d"/><stop offset="0.138" stop-color="#181818"/><stop offset="0.232" stop-color="#616161"/><stop offset="0.315" stop-color="#888888"/><stop offset="0.379" stop-color="#8e8e8e"/><stop offset="0.429" stop-color="#828282"/><stop offset="0.527" stop-color="#575757"/><stop offset="0.768" stop-color="#2c2c2c"/><stop offset="0.882" stop-color="#151515"/><stop offset="1.000" stop-color="#141414"/></linearGradient>
<linearGradient id="h179" x1="0" x2="1" y1="0" y2="0"><stop offset="0.000" stop-color="#0d0d0d"/><stop offset="0.143" stop-color="#161616"/><stop offset="0.227" stop-color="#585858"/><stop offset="0.291" stop-color="#767676"/><stop offset="0.365" stop-color="#808080"/><stop offset="0.433" stop-color="#787878"/><stop offset="0.517" stop-color="#555555"/><stop offset="0.793" stop-color="#222222"/><stop offset="0.877" stop-color="#131313"/><stop offset="1.000" stop-color="#121212"/></linearGradient>
<linearGradient id="h180" x1="0" x2="1" y1="0" y2="0"><stop offset="0.000" stop-color="#0d0d0d"/><stop offset="0.148" stop-color="#161616"/><stop offset="0.232" stop-color="#555555"/><stop offset="0.296" stop-color="#6f6f6f"/><stop offset="0.379" stop-color="#767676"/><stop offset="0.453" stop-color="#6b6b6b"/><stop offset="0.537" stop-color="#494949"/><stop offset="0.754" stop-color="#252525"/><stop offset="0.862" stop-color="#111111"/><stop offset="1.000" stop-color="#0f0f0f"/></linearGradient>
<linearGradient id="h181" x1="0" x2="1" y1="0" y2="0"><stop offset="0.000" stop-color="#0d0d0d"/><stop offset="0.153" stop-color="#151515"/><stop offset="0.236" stop-color="#505050"/><stop offset="0.305" stop-color="#696969"/><stop offset="0.414" stop-color="#6b6b6b"/><stop offset="0.488" stop-color="#575757"/><stop offset="0.537" stop-color="#424242"/><stop offset="0.768" stop-color="#1c1c1c"/><stop offset="0.852" stop-color="#0f0f0f"/><stop offset="1.000" stop-color="#0d0d0d"/></linearGradient>
<linearGradient id="h182" x1="0" x2="1" y1="0" y2="0"><stop offset="0.000" stop-color="#0d0d0d"/><stop offset="0.158" stop-color="#131313"/><stop offset="0.241" stop-color="#4a4a4a"/><stop offset="0.310" stop-color="#606060"/><stop offset="0.424" stop-color="#616161"/><stop offset="0.498" stop-color="#4c4c4c"/><stop offset="0.542" stop-color="#393939"/><stop offset="0.788" stop-color="#131313"/><stop offset="0.867" stop-color="#0d0d0d"/><stop offset="1.000" stop-color="#0b0b0b"/></linearGradient>
<linearGradient id="h183" x1="0" x2="1" y1="0" y2="0"><stop offset="0.000" stop-color="#0d0d0d"/><stop offset="0.163" stop-color="#101010"/><stop offset="0.246" stop-color="#444444"/><stop offset="0.310" stop-color="#565656"/><stop offset="0.433" stop-color="#565656"/><stop offset="0.502" stop-color="#424242"/><stop offset="0.547" stop-color="#303030"/><stop offset="0.783" stop-color="#0e0e0e"/><stop offset="1.000" stop-color="#0a0a0a"/></linearGradient>
<linearGradient id="h184" x1="0" x2="1" y1="0" y2="0"><stop offset="0.000" stop-color="#0d0d0d"/><stop offset="0.172" stop-color="#101010"/><stop offset="0.251" stop-color="#3c3c3c"/><stop offset="0.325" stop-color="#4e4e4e"/><stop offset="0.443" stop-color="#4b4b4b"/><stop offset="0.527" stop-color="#2f2f2f"/><stop offset="0.557" stop-color="#272727"/><stop offset="0.788" stop-color="#0b0b0b"/><stop offset="1.000" stop-color="#090909"/></linearGradient>
<linearGradient id="h185" x1="0" x2="1" y1="0" y2="0"><stop offset="0.000" stop-color="#0d0d0d"/><stop offset="0.182" stop-color="#0f0f0f"/><stop offset="0.261" stop-color="#363636"/><stop offset="0.340" stop-color="#434343"/><stop offset="0.453" stop-color="#3f3f3f"/><stop offset="0.537" stop-color="#232323"/><stop offset="0.744" stop-color="#0c0c0c"/><stop offset="1.000" stop-color="#080808"/></linearGradient>
<linearGradient id="h186" x1="0" x2="1" y1="0" y2="0"><stop offset="0.000" stop-color="#0d0d0d"/><stop offset="0.197" stop-color="#101010"/><stop offset="0.271" stop-color="#2f2f2f"/><stop offset="0.355" stop-color="#383838"/><stop offset="0.458" stop-color="#343434"/><stop offset="0.542" stop-color="#191919"/><stop offset="0.695" stop-color="#0c0c0c"/><stop offset="1.000" stop-color="#080808"/></linearGradient>
<linearGradient id="h187" x1="0" x2="1" y1="0" y2="0"><stop offset="0.000" stop-color="#050505"/><stop offset="0.149" stop-color="#050505"/><stop offset="0.154" stop-color="#474747"/><stop offset="0.229" stop-color="#7d7d7d"/><stop offset="0.239" stop-color="#828282"/><stop offset="0.269" stop-color="#b8b8b8"/><stop offset="0.289" stop-color="#c5c5c5"/><stop offset="0.308" stop-color="#bbbbbb"/><stop offset="0.338" stop-color="#909090"/><stop offset="0.398" stop-color="#7b7b7b"/><stop offset="0.507" stop-color="#303030"/><stop offset="0.751" stop-color="#252525"/><stop offset="1.000" stop-color="#222222"/></linearGradient>
<linearGradient id="h188" x1="0" x2="1" y1="0" y2="0"><stop offset="0.000" stop-color="#050505"/><stop offset="0.139" stop-color="#050505"/><stop offset="0.144" stop-color="#424242"/><stop offset="0.224" stop-color="#7f7f7f"/><stop offset="0.244" stop-color="#8c8c8c"/><stop offset="0.269" stop-color="#b8b8b8"/><stop offset="0.289" stop-color="#c5c5c5"/><stop offset="0.308" stop-color="#bbbbbb"/><stop offset="0.333" stop-color="#969696"/><stop offset="0.403" stop-color="#7d7d7d"/><stop offset="0.507" stop-color="#343434"/><stop offset="0.706" stop-color="#292929"/><stop offset="1.000" stop-color="#242424"/></linearGradient>
<linearGradient id="h189" x1="0" x2="1" y1="0" y2="0"><stop offset="0.000" stop-color="#050505"/><stop offset="0.129" stop-color="#050505"/><stop offset="0.134" stop-color="#3f3f3f"/><stop offset="0.229" stop-color="#858585"/><stop offset="0.254" stop-color="#939393"/><stop offset="0.274" stop-color="#aeaeae"/><stop offset="0.294" stop-color="#b5b5b5"/><stop offset="0.313" stop-color="#a7a7a7"/><stop offset="0.328" stop-color="#979797"/><stop offset="0.388" stop-color="#888888"/><stop offset="0.453" stop-color="#5e5e5e"/><stop offset="0.502" stop-color="#383838"/><stop offset="0.677" stop-color="#2c2c2c"/><stop offset="1.000" stop-color="#252525"/></linearGradient>
<linearGradient id="h190" x1="0" x2="1" y1="0" y2="0"><stop offset="0.000" stop-color="#050505"/><stop offset="0.124" stop-color="#050505"/><stop offset="0.129" stop-color="#3f3f3f"/><stop offset="0.139" stop-color="#424242"/><stop offset="0.219" stop-color="#818181"/><stop offset="0.274" stop-color="#969696"/><stop offset="0.308" stop-color="#999999"/><stop offset="0.373" stop-color="#909090"/><stop offset="0.433" stop-color="#6f6f6f"/><stop offset="0.502" stop-color="#3c3c3c"/><stop offset="0.662" stop-color="#2f2f2f"/><stop offset="1.000" stop-color="#272727"/></linearGradient>
<linearGradient id="h191" x1="0" x2="1" y1="0" y2="0"><stop offset="0.000" stop-color="#050505"/><stop offset="0.114" stop-color="#050505"/><stop offset="0.119" stop-color="#404040"/><stop offset="0.134" stop-color="#3e3e3e"/><stop offset="0.219" stop-color="#828282"/><stop offset="0.269" stop-color="#969696"/><stop offset="0.348" stop-color="#979797"/><stop offset="0.403" stop-color="#848484"/><stop offset="0.498" stop-color="#414141"/><stop offset="0.647" stop-color="#323232"/><stop offset="1.000" stop-color="#282828"/></linearGradient>
<linearGradient id="h192" x1="0" x2="1" y1="0" y2="0"><stop offset="0.000" stop-color="#050505"/><stop offset="0.109" stop-color="#050505"/><stop offset="0.114" stop-color="#404040"/><stop offset="0.129" stop-color="#3a3a3a"/><stop offset="0.219" stop-color="#828282"/><stop offset="0.269" stop-color="#969696"/><stop offset="0.348" stop-color="#979797"/><stop offset="0.403" stop-color="#848484"/><stop offset="0.488" stop-color="#494949"/><stop offset="0.632" stop-color="#353535"/><stop offset="1.000" stop-color="#2a2a2a"/></linearGradient>
<linearGradient id="h193" x1="0" x2="1" y1="0" y2="0"><stop offset="0.000" stop-color="#050505"/><stop offset="0.100" stop-color="#050505"/><stop offset="0.104" stop-color="#424242"/><stop offset="0.129" stop-color="#393939"/><stop offset="0.219" stop-color="#818181"/><stop offset="0.274" stop-color="#969696"/><stop offset="0.348" stop-color="#969696"/><stop offset="0.403" stop-color="#838383"/><stop offset="0.478" stop-color="#515151"/><stop offset="0.562" stop-color="#404040"/><stop offset="0.726" stop-color="#333333"/><stop offset="1.000" stop-color="#2c2c2c"/></linearGradient>
<linearGradient id="h194" x1="0" x2="1" y1="0" y2="0"><stop offset="0.000" stop-color="#050505"/><stop offset="0.090" stop-color="#050505"/><stop offset="0.095" stop-color="#434343"/><stop offset="0.124" stop-color="#343434"/><stop offset="0.204" stop-color="#757575"/><stop offset="0.259" stop-color="#919191"/><stop offset="0.323" stop-color="#979797"/><stop offset="0.383" stop-color="#8a8a8a"/><stop offset="0.463" stop-color="#5d5d5d"/><stop offset="0.517" stop-color="#4b4b4b"/><stop offset="0.632" stop-color="#3b3b3b"/><stop offset="1.000" stop-color="#2d2d2d"/></linearGradient>
<linearGradient id="h195" x1="0" x2="1" y1="0" y2="0"><stop offset="0.000" stop-color="#050505"/><stop offset="0.085" stop-color="#050505"/><stop offset="0.090" stop-color="#434343"/><stop offset="0.119" stop-color="#383838"/><stop offset="0.139" stop-color="#3e3e3e"/><stop offset="0.189" stop-color="#696969"/><stop offset="0.199" stop-color="#727272"/><stop offset="0.269" stop-color="#919191"/><stop offset="0.333" stop-color="#949494"/><stop offset="0.393" stop-color="#828282"/><stop offset="0.443" stop-color="#686868"/><stop offset="0.517" stop-color="#4f4f4f"/><stop offset="0.627" stop-color="#3e3e3e"/><stop offset="0.970" stop-color="#2f2f2f"/><stop offset="1.000" stop-color="#2f2f2f"/></linearGradient>
<linearGradient id="h196" x1="0" x2="1" y1="0" y2="0"><stop offset="0.000" stop-color="#050505"/><stop offset="0.075" stop-color="#050505"/><stop offset="0.080" stop-color="#444444"/><stop offset="0.104" stop-color="#3c3c3c"/><stop offset="0.154" stop-color="#474747"/><stop offset="0.189" stop-color="#666666"/><stop offset="0.199" stop-color="#6f6f6f"/><stop offset="0.229" stop-color="#7d7d7d"/><stop offset="0.284" stop-color="#909090"/><stop offset="0.348" stop-color="#8e8e8e"/><stop offset="0.408" stop-color="#767676"/><stop offset="0.428" stop-color="#6d6d6d"/><stop offset="0.458" stop-color="#686868"/><stop offset="0.512" stop-color="#535353"/><stop offset="0.627" stop-color="#404040"/><stop offset="0.950" stop-color="#313131"/><stop offset="1.000" stop-color="#303030"/></linearGradient>
<linearGradient id="h197" x1="0" x2="1" y1="0" y2="0"><stop offset="0.000" stop-color="#050505"/><stop offset="0.065" stop-color="#050505"/><stop offset="0.070" stop-color="#454545"/><stop offset="0.095" stop-color="#424242"/><stop offset="0.169" stop-color="#4e4e4e"/><stop offset="0.189" stop-color="#616161"/><stop offset="0.199" stop-color="#696969"/><stop offset="0.224" stop-color="#757575"/><stop offset="0.279" stop-color="#8a8a8a"/><stop offset="0.338" stop-color="#8b8b8b"/><stop offset="0.398" stop-color="#767676"/><stop offset="0.458" stop-color="#676767"/><stop offset="0.512" stop-color="#525252"/><stop offset="0.627" stop-color="#3f3f3f"/><stop offset="0.955" stop-color="#313131"/><stop offset="1.000" stop-color="#303030"/></linearGradient>
<linearGradient id="h198" x1="0" x2="1" y1="0" y2="0"><stop offset="0.000" stop-color="#050505"/><stop offset="0.060" stop-color="#050505"/><stop offset="0.065" stop-color="#464646"/><stop offset="0.154" stop-color="#525252"/><stop offset="0.189" stop-color="#595959"/><stop offset="0.254" stop-color="#7c7c7c"/><stop offset="0.313" stop-color="#878787"/><stop offset="0.373" stop-color="#7b7b7b"/><stop offset="0.428" stop-color="#6d6d6d"/><stop offset="0.512" stop-color="#4d4d4d"/><stop offset="0.632" stop-color="#3c3c3c"/><stop offset="0.995" stop-color="#2e2e2e"/><stop offset="1.000" stop-color="#2e2e2e"/></linearGradient>
<linearGradient id="h199" x1="0" x2="1" y1="0" y2="0"><stop offset="0.000" stop-color="#050505"/><stop offset="0.050" stop-color="#050505"/><stop offset="0.055" stop-color="#4c4c4c"/><stop offset="0.149" stop-color="#595959"/><stop offset="0.229" stop-color="#6a6a6a"/><stop offset="0.289" stop-color="#7e7e7e"/><stop offset="0.383" stop-color="#787878"/><stop offset="0.498" stop-color="#494949"/><stop offset="0.637" stop-color="#373737"/><stop offset="1.000" stop-color="#2b2b2b"/></linearGradient>
<linearGradient id="h200" x1="0" x2="1" y1="0" y2="0"><stop offset="0.000" stop-color="#050505"/><stop offset="0.040" stop-color="#050505"/><stop offset="0.045" stop-color="#545454"/><stop offset="0.149" stop-color="#626262"/><stop offset="0.338" stop-color="#808080"/><stop offset="0.383" stop-color="#707070"/><stop offset="0.473" stop-color="#4a4a4a"/><stop offset="0.567" stop-color="#393939"/><stop offset="0.920" stop-color="#2a2a2a"/><stop offset="1.000" stop-color="#292929"/></linearGradient>
<linearGradient id="h201" x1="0" x2="1" y1="0" y2="0"><stop offset="0.000" stop-color="#050505"/><stop offset="0.035" stop-color="#050505"/><stop offset="0.040" stop-color="#5d5d5d"/><stop offset="0.149" stop-color="#6b6b6b"/><stop offset="0.313" stop-color="#838383"/><stop offset="0.373" stop-color="#6b6b6b"/><stop offset="0.463" stop-color="#454545"/><stop offset="0.552" stop-color="#353535"/><stop offset="0.826" stop-color="#292929"/><stop offset="1.000" stop-color="#262626"/></linearGradient>
<linearGradient id="h202" x1="0" x2="1" y1="0" y2="0"><stop offset="0.000" stop-color="#050505"/><stop offset="0.025" stop-color="#050505"/><stop offset="0.030" stop-color="#666666"/><stop offset="0.085" stop-color="#6f6f6f"/><stop offset="0.139" stop-color="#737373"/><stop offset="0.289" stop-color="#868686"/><stop offset="0.453" stop-color="#3f3f3f"/><stop offset="0.562" stop-color="#303030"/><stop offset="1.000" stop-color="#242424"/></linearGradient>
<linearGradient id="h203" x1="0" x2="1" y1="0" y2="0"><stop offset="0.000" stop-color="#050505"/><stop offset="0.020" stop-color="#050505"/><stop offset="0.025" stop-color="#707070"/><stop offset="0.065" stop-color="#7b7b7b"/><stop offset="0.139" stop-color="#7d7d7d"/><stop offset="0.259" stop-color="#898989"/><stop offset="0.443" stop-color="#3b3b3b"/><stop offset="0.552" stop-color="#2c2c2c"/><stop offset="1.000" stop-color="#222222"/></linearGradient>
<linearGradient id="h204" x1="0" x2="1" y1="0" y2="0"><stop offset="0.000" stop-color="#050505"/><stop offset="0.010" stop-color="#050505"/><stop offset="0.015" stop-color="#797979"/><stop offset="0.055" stop-color="#898989"/><stop offset="0.134" stop-color="#868686"/><stop offset="0.219" stop-color="#8c8c8c"/><stop offset="0.269" stop-color="#7c7c7c"/><stop offset="0.413" stop-color="#3d3d3d"/><stop offset="0.498" stop-color="#2c2c2c"/><stop offset="0.826" stop-color="#222222"/><stop offset="1.000" stop-color="#202020"/></linearGradient>
<linearGradient id="h205" x1="0" x2="1" y1="0" y2="0"><stop offset="0.000" stop-color="#050505"/><stop offset="0.005" stop-color="#838383"/><stop offset="0.045" stop-color="#979797"/><stop offset="0.134" stop-color="#909090"/><stop offset="0.199" stop-color="#929292"/><stop offset="0.373" stop-color="#434343"/><stop offset="0.468" stop-color="#2b2b2b"/><stop offset="0.721" stop-color="#212121"/><stop offset="1.000" stop-color="#1f1f1f"/></linearGradient>
<linearGradient id="h206" x1="0" x2="1" y1="0" y2="0"><stop offset="0.000" stop-color="#919191"/><stop offset="0.040" stop-color="#a7a7a7"/><stop offset="0.075" stop-color="#a6a6a6"/><stop offset="0.134" stop-color="#9a9a9a"/><stop offset="0.179" stop-color="#959595"/><stop offset="0.303" stop-color="#545454"/><stop offset="0.418" stop-color="#2f2f2f"/><stop offset="0.552" stop-color="#232323"/><stop offset="1.000" stop-color="#1e1e1e"/></linearGradient>
<linearGradient id="h207" x1="0" x2="1" y1="0" y2="0"><stop offset="0.000" stop-color="#a4a4a4"/><stop offset="0.040" stop-color="#b9b9b9"/><stop offset="0.070" stop-color="#b6b6b6"/><stop offset="0.134" stop-color="#a0a0a0"/><stop offset="0.179" stop-color="#8a8a8a"/><stop offset="0.259" stop-color="#5d5d5d"/><stop offset="0.373" stop-color="#343434"/><stop offset="0.483" stop-color="#232323"/><stop offset="1.000" stop-color="#1d1d1d"/></linearGradient>
<linearGradient id="h208" x1="0" x2="1" y1="0" y2="0"><stop offset="0.000" stop-color="#b7b7b7"/><stop offset="0.035" stop-color="#cacaca"/><stop offset="0.060" stop-color="#c8c8c8"/><stop offset="0.114" stop-color="#ababab"/><stop offset="0.144" stop-color="#949494"/><stop offset="0.244" stop-color="#585858"/><stop offset="0.353" stop-color="#333333"/><stop offset="0.473" stop-color="#212121"/><stop offset="1.000" stop-color="#1b1b1b"/></linearGradient>
<linearGradient id="h209" x1="0" x2="1" y1="0" y2="0"><stop offset="0.000" stop-color="#cbcbcb"/><stop offset="0.035" stop-color="#dbdbdb"/><stop offset="0.060" stop-color="#d5d5d5"/><stop offset="0.095" stop-color="#b8b8b8"/><stop offset="0.129" stop-color="#909090"/><stop offset="0.229" stop-color="#535353"/><stop offset="0.338" stop-color="#303030"/><stop offset="0.468" stop-color="#1f1f1f"/><stop offset="1.000" stop-color="#1b1b1b"/></linearGradient>
<linearGradient id="h210" x1="0" x2="1" y1="0" y2="0"><stop offset="0.000" stop-color="#dedede"/><stop offset="0.035" stop-color="#eaeaea"/><stop offset="0.055" stop-color="#e0e0e0"/><stop offset="0.119" stop-color="#8a8a8a"/><stop offset="0.189" stop-color="#5b5b5b"/><stop offset="0.269" stop-color="#3b3b3b"/><stop offset="0.398" stop-color="#222222"/><stop offset="0.667" stop-color="#1a1a1a"/><stop offset="1.000" stop-color="#1a1a1a"/></linearGradient>
<linearGradient id="h211" x1="0" x2="1" y1="0" y2="0"><stop offset="0.000" stop-color="#efefef"/><stop offset="0.025" stop-color="#f3f3f3"/><stop offset="0.050" stop-color="#d9d9d9"/><stop offset="0.095" stop-color="#979797"/><stop offset="0.129" stop-color="#717171"/><stop offset="0.214" stop-color="#444444"/><stop offset="0.323" stop-color="#282828"/><stop offset="0.488" stop-color="#1b1b1b"/><stop offset="1.000" stop-color="#191919"/></linearGradient>
<linearGradient id="h212" x1="0" x2="1" y1="0" y2="0"><stop offset="0.000" stop-color="#f6f6f6"/><stop offset="0.035" stop-color="#d8d8d8"/><stop offset="0.095" stop-color="#858585"/><stop offset="0.129" stop-color="#636363"/><stop offset="0.214" stop-color="#3b3b3b"/><stop offset="0.333" stop-color="#232323"/><stop offset="0.527" stop-color="#191919"/><stop offset="1.000" stop-color="#181818"/></linearGradient>
<linearGradient id="h213" x1="0" x2="1" y1="0" y2="0"><stop offset="0.000" stop-color="#e3e3e3"/><stop offset="0.040" stop-color="#bababa"/><stop offset="0.090" stop-color="#787878"/><stop offset="0.129" stop-color="#555555"/><stop offset="0.219" stop-color="#323232"/><stop offset="0.358" stop-color="#1d1d1d"/><stop offset="0.726" stop-color="#171717"/><stop offset="1.000" stop-color="#171717"/></linearGradient>
<linearGradient id="h214" x1="0" x2="1" y1="0" y2="0"><stop offset="0.000" stop-color="#cbcbcb"/><stop offset="0.050" stop-color="#969696"/><stop offset="0.090" stop-color="#676767"/><stop offset="0.134" stop-color="#474747"/><stop offset="0.229" stop-color="#292929"/><stop offset="0.398" stop-color="#191919"/><stop offset="1.000" stop-color="#161616"/></linearGradient>
<linearGradient id="h215" x1="0" x2="1" y1="0" y2="0"><stop offset="0.000" stop-color="#b2b2b2"/><stop offset="0.095" stop-color="#545454"/><stop offset="0.139" stop-color="#3a3a3a"/><stop offset="0.244" stop-color="#222222"/><stop offset="0.458" stop-color="#161616"/><stop offset="1.000" stop-color="#151515"/></linearGradient>
<linearGradient id="h216" x1="0" x2="1" y1="0" y2="0"><stop offset="0.000" stop-color="#999999"/><stop offset="0.090" stop-color="#4a4a4a"/><stop offset="0.139" stop-color="#323232"/><stop offset="0.254" stop-color="#1d1d1d"/><stop offset="0.532" stop-color="#151515"/><stop offset="1.000" stop-color="#151515"/></linearGradient>
<linearGradient id="h217" x1="0" x2="1" y1="0" y2="0"><stop offset="0.000" stop-color="#828282"/><stop offset="0.090" stop-color="#3f3f3f"/><stop offset="0.144" stop-color="#2a2a2a"/><stop offset="0.279" stop-color="#191919"/><stop offset="0.836" stop-color="#141414"/><stop offset="1.000" stop-color="#141414"/></linearGradient>
<linearGradient id="h218" x1="0" x2="1" y1="0" y2="0"><stop offset="0.000" stop-color="#6e6e6e"/><stop offset="0.095" stop-color="#333333"/><stop offset="0.164" stop-color="#212121"/><stop offset="0.353" stop-color="#141414"/><stop offset="1.000" stop-color="#131313"/></linearGradient>
<linearGradient id="h219" x1="0" x2="1" y1="0" y2="0"><stop offset="0.000" stop-color="#5b5b5b"/><stop offset="0.095" stop-color="#2b2b2b"/><stop offset="0.184" stop-color="#1b1b1b"/><stop offset="0.483" stop-color="#121212"/><stop offset="1.000" stop-color="#121212"/></linearGradient>
<linearGradient id="h220" x1="0" x2="1" y1="0" y2="0"><stop offset="0.000" stop-color="#4c4c4c"/><stop offset="0.100" stop-color="#232323"/><stop offset="0.229" stop-color="#151515"/><stop offset="1.000" stop-color="#111111"/></linearGradient>
<linearGradient id="h221" x1="0" x2="1" y1="0" y2="0"><stop offset="0.000" stop-color="#3f3f3f"/><stop offset="0.104" stop-color="#1d1d1d"/><stop offset="0.284" stop-color="#121212"/><stop offset="1.000" stop-color="#111111"/></linearGradient>
<linearGradient id="h222" x1="0" x2="1" y1="0" y2="0"><stop offset="0.000" stop-color="#343434"/><stop offset="0.109" stop-color="#191919"/><stop offset="0.363" stop-color="#101010"/><stop offset="1.000" stop-color="#101010"/></linearGradient>
<linearGradient id="h223" x1="0" x2="1" y1="0" y2="0"><stop offset="0.000" stop-color="#2b2b2b"/><stop offset="0.119" stop-color="#151515"/><stop offset="0.582" stop-color="#0f0f0f"/><stop offset="1.000" stop-color="#0f0f0f"/></linearGradient>
<linearGradient id="h224" x1="0" x2="1" y1="0" y2="0"><stop offset="0.000" stop-color="#242424"/><stop offset="0.134" stop-color="#121212"/><stop offset="1.000" stop-color="#0f0f0f"/></linearGradient>
<linearGradient id="h225" x1="0" x2="1" y1="0" y2="0"><stop offset="0.000" stop-color="#1f1f1f"/><stop offset="0.149" stop-color="#101010"/><stop offset="1.000" stop-color="#0e0e0e"/></linearGradient>
<linearGradient id="h226" x1="0" x2="1" y1="0" y2="0"><stop offset="0.000" stop-color="#1a1a1a"/><stop offset="0.179" stop-color="#0f0f0f"/><stop offset="1.000" stop-color="#0e0e0e"/></linearGradient>
<linearGradient id="h227" x1="0" x2="1" y1="0" y2="0"><stop offset="0.000" stop-color="#171717"/><stop offset="0.229" stop-color="#0e0e0e"/><stop offset="1.000" stop-color="#0d0d0d"/></linearGradient>
<linearGradient id="h228" x1="0" x2="1" y1="0" y2="0"><stop offset="0.000" stop-color="#141414"/><stop offset="0.318" stop-color="#0d0d0d"/><stop offset="1.000" stop-color="#0d0d0d"/></linearGradient>
<linearGradient id="h229" x1="0" x2="1" y1="0" y2="0"><stop offset="0.000" stop-color="#121212"/><stop offset="0.547" stop-color="#0d0d0d"/><stop offset="1.000" stop-color="#0d0d0d"/></linearGradient>
<linearGradient id="h230" x1="0" x2="1" y1="0" y2="0"><stop offset="0.000" stop-color="#101010"/><stop offset="1.000" stop-color="#0d0d0d"/></linearGradient>
<linearGradient id="h231" x1="0" x2="1" y1="0" y2="0"><stop offset="0.000" stop-color="#0f0f0f"/><stop offset="1.000" stop-color="#0d0d0d"/></linearGradient>
<linearGradient id="h232" x1="0" x2="1" y1="0" y2="0"><stop offset="0.000" stop-color="#0f0f0f"/><stop offset="1.000" stop-color="#0d0d0d"/></linearGradient>
<linearGradient id="h233" x1="0" x2="1" y1="0" y2="0"><stop offset="0.000" stop-color="#050505"/><stop offset="0.108" stop-color="#050505"/><stop offset="0.113" stop-color="#181818"/><stop offset="0.291" stop-color="#1e1e1e"/><stop offset="0.355" stop-color="#313131"/><stop offset="0.512" stop-color="#303030"/><stop offset="0.631" stop-color="#1b1b1b"/><stop offset="1.000" stop-color="#151515"/></linearGradient>
<linearGradient id="h234" x1="0" x2="1" y1="0" y2="0"><stop offset="0.000" stop-color="#050505"/><stop offset="0.099" stop-color="#050505"/><stop offset="0.103" stop-color="#161616"/><stop offset="0.266" stop-color="#1d1d1d"/><stop offset="0.325" stop-color="#393939"/><stop offset="0.399" stop-color="#414141"/><stop offset="0.522" stop-color="#3b3b3b"/><stop offset="0.655" stop-color="#1c1c1c"/><stop offset="1.000" stop-color="#161616"/></linearGradient>
<linearGradient id="h235" x1="0" x2="1" y1="0" y2="0"><stop offset="0.000" stop-color="#050505"/><stop offset="0.089" stop-color="#050505"/><stop offset="0.094" stop-color="#151515"/><stop offset="0.232" stop-color="#1c1c1c"/><stop offset="0.251" stop-color="#1f1f1f"/><stop offset="0.310" stop-color="#424242"/><stop offset="0.374" stop-color="#4f4f4f"/><stop offset="0.507" stop-color="#4a4a4a"/><stop offset="0.631" stop-color="#2a2a2a"/><stop offset="0.680" stop-color="#1c1c1c"/><stop offset="1.000" stop-color="#161616"/></linearGradient>
<linearGradient id="h236" x1="0" x2="1" y1="0" y2="0"><stop offset="0.000" stop-color="#050505"/><stop offset="0.074" stop-color="#050505"/><stop offset="0.079" stop-color="#131313"/><stop offset="0.192" stop-color="#1c1c1c"/><stop offset="0.236" stop-color="#1f1f1f"/><stop offset="0.291" stop-color="#474747"/><stop offset="0.350" stop-color="#5a5a5a"/><stop offset="0.483" stop-color="#595959"/><stop offset="0.586" stop-color="#424242"/><stop offset="0.680" stop-color="#242424"/><stop offset="0.837" stop-color="#191919"/><stop offset="1.000" stop-color="#171717"/></linearGradient>
<linearGradient id="h237" x1="0" x2="1" y1="0" y2="0"><stop offset="0.000" stop-color="#050505"/><stop offset="0.064" stop-color="#050505"/><stop offset="0.069" stop-color="#111111"/><stop offset="0.182" stop-color="#1d1d1d"/><stop offset="0.227" stop-color="#202020"/><stop offset="0.281" stop-color="#4e4e4e"/><stop offset="0.340" stop-color="#656565"/><stop offset="0.453" stop-color="#686868"/><stop offset="0.562" stop-color="#535353"/><stop offset="0.670" stop-color="#2f2f2f"/><stop offset="0.877" stop-color="#191919"/><stop offset="1.000" stop-color="#171717"/></linearGradient>
<linearGradient id="h238" x1="0" x2="1" y1="0" y2="0"><stop offset="0.000" stop-color="#050505"/><stop offset="0.049" stop-color="#050505"/><stop offset="0.054" stop-color="#0f0f0f"/><stop offset="0.182" stop-color="#1d1d1d"/><stop offset="0.217" stop-color="#1f1f1f"/><stop offset="0.271" stop-color="#545454"/><stop offset="0.325" stop-color="#6e6e6e"/><stop offset="0.404" stop-color="#757575"/><stop offset="0.507" stop-color="#6b6b6b"/><stop offset="0.635" stop-color="#414141"/><stop offset="0.680" stop-color="#383838"/><stop offset="0.921" stop-color="#181818"/><stop offset="1.000" stop-color="#181818"/></linearGradient>
<linearGradient id="h239" x1="0" x2="1" y1="0" y2="0"><stop offset="0.000" stop-color="#050505"/><stop offset="0.039" stop-color="#050505"/><stop offset="0.044" stop-color="#0e0e0e"/><stop offset="0.182" stop-color="#1e1e1e"/><stop offset="0.212" stop-color="#222222"/><stop offset="0.261" stop-color="#575757"/><stop offset="0.305" stop-color="#737373"/><stop offset="0.369" stop-color="#818181"/><stop offset="0.478" stop-color="#7a7a7a"/><stop offset="0.596" stop-color="#575757"/><stop offset="0.655" stop-color="#434343"/><stop offset="0.956" stop-color="#191919"/><stop offset="1.000" stop-color="#181818"/></linearGradient>
<linearGradient id="h240" x1="0" x2="1" y1="0" y2="0"><stop offset="0.000" stop-color="#050505"/><stop offset="0.030" stop-color="#050505"/><stop offset="0.034" stop-color="#0d0d0d"/><stop offset="0.192" stop-color="#1f1f1f"/><stop offset="0.207" stop-color="#232323"/><stop offset="0.256" stop-color="#5d5d5d"/><stop offset="0.305" stop-color="#7e7e7e"/><stop offset="0.355" stop-color="#929292"/><stop offset="0.438" stop-color="#909090"/><stop offset="0.621" stop-color="#545454"/><stop offset="0.670" stop-color="#494949"/><stop offset="0.985" stop-color="#191919"/><stop offset="1.000" stop-color="#191919"/></linearGradient>
<linearGradient id="h241" x1="0" x2="1" y1="0" y2="0"><stop offset="0.000" stop-color="#050505"/><stop offset="0.015" stop-color="#050505"/><stop offset="0.020" stop-color="#0d0d0d"/><stop offset="0.202" stop-color="#232323"/><stop offset="0.251" stop-color="#616161"/><stop offset="0.325" stop-color="#9c9c9c"/><stop offset="0.374" stop-color="#a8a8a8"/><stop offset="0.438" stop-color="#a3a3a3"/><stop offset="0.571" stop-color="#6d6d6d"/><stop offset="0.640" stop-color="#545454"/><stop offset="0.966" stop-color="#1e1e1e"/><stop offset="1.000" stop-color="#1a1a1a"/></linearGradient>
<linearGradient id="h242" x1="0" x2="1" y1="0" y2="0"><stop offset="0.000" stop-color="#050505"/><stop offset="0.005" stop-color="#050505"/><stop offset="0.010" stop-color="#0d0d0d"/><stop offset="0.108" stop-color="#181818"/><stop offset="0.197" stop-color="#222222"/><stop offset="0.246" stop-color="#646464"/><stop offset="0.310" stop-color="#a5a5a5"/><stop offset="0.350" stop-color="#b9b9b9"/><stop offset="0.419" stop-color="#bbbbbb"/><stop offset="0.463" stop-color="#ababab"/><stop offset="0.547" stop-color="#7b7b7b"/><stop offset="0.635" stop-color="#5b5b5b"/><stop offset="0.980" stop-color="#202020"/><stop offset="1.000" stop-color="#1c1c1c"/></linearGradient>
<linearGradient id="h243" x1="0" x2="1" y1="0" y2="0"><stop offset="0.000" stop-color="#0d0d0d"/><stop offset="0.094" stop-color="#161616"/><stop offset="0.197" stop-color="#252525"/><stop offset="0.246" stop-color="#6b6b6b"/><stop offset="0.271" stop-color="#878787"/><stop offset="0.300" stop-color="#acacac"/><stop offset="0.335" stop-color="#c5c5c5"/><stop offset="0.384" stop-color="#cfcfcf"/><stop offset="0.438" stop-color="#c8c8c8"/><stop offset="0.483" stop-color="#adadad"/><stop offset="0.532" stop-color="#888888"/><stop offset="0.616" stop-color="#646464"/><stop offset="1.000" stop-color="#202020"/></linearGradient>
<linearGradient id="h244" x1="0" x2="1" y1="0" y2="0"><stop offset="0.000" stop-color="#0d0d0d"/><stop offset="0.089" stop-color="#151515"/><stop offset="0.192" stop-color="#242424"/><stop offset="0.251" stop-color="#767676"/><stop offset="0.291" stop-color="#aeaeae"/><stop offset="0.330" stop-color="#d0d0d0"/><stop offset="0.394" stop-color="#d9d9d9"/><stop offset="0.453" stop-color="#d0d0d0"/><stop offset="0.498" stop-color="#acacac"/><stop offset="0.527" stop-color="#929292"/><stop offset="0.571" stop-color="#797979"/><stop offset="0.700" stop-color="#5b5b5b"/><stop offset="1.000" stop-color="#242424"/></linearGradient>
<linearGradient id="h245" x1="0" x2="1" y1="0" y2="0"><stop offset="0.000" stop-color="#0d0d0d"/><stop offset="0.089" stop-color="#151515"/><stop offset="0.192" stop-color="#252525"/><stop offset="0.246" stop-color="#747474"/><stop offset="0.261" stop-color="#8b8b8b"/><stop offset="0.286" stop-color="#b1b1b1"/><stop offset="0.315" stop-color="#d0d0d0"/><stop offset="0.374" stop-color="#e2e2e2"/><stop offset="0.433" stop-color="#dedede"/><stop offset="0.473" stop-color="#cecece"/><stop offset="0.527" stop-color="#979797"/><stop offset="0.635" stop-color="#6e6e6e"/><stop offset="0.759" stop-color="#545454"/><stop offset="1.000" stop-color="#272727"/></linearGradient>
<linearGradient id="h246" x1="0" x2="1" y1="0" y2="0"><stop offset="0.000" stop-color="#0d0d0d"/><stop offset="0.089" stop-color="#151515"/><stop offset="0.192" stop-color="#262626"/><stop offset="0.256" stop-color="#878787"/><stop offset="0.271" stop-color="#a3a3a3"/><stop offset="0.305" stop-color="#cfcfcf"/><stop offset="0.369" stop-color="#ececec"/><stop offset="0.419" stop-color="#ebebeb"/><stop offset="0.478" stop-color="#d2d2d2"/><stop offset="0.522" stop-color="#9f9f9f"/><stop offset="0.616" stop-color="#797979"/><stop offset="0.729" stop-color="#5c5c5c"/><stop offset="1.000" stop-color="#292929"/></linearGradient>
<linearGradient id="h247" x1="0" x2="1" y1="0" y2="0"><stop offset="0.000" stop-color="#0d0d0d"/><stop offset="0.089" stop-color="#151515"/><stop offset="0.192" stop-color="#262626"/><stop offset="0.251" stop-color="#808080"/><stop offset="0.271" stop-color="#a6a6a6"/><stop offset="0.305" stop-color="#d2d2d2"/><stop offset="0.365" stop-color="#f2f2f2"/><stop offset="0.414" stop-color="#f5f5f5"/><stop offset="0.468" stop-color="#dcdcdc"/><stop offset="0.488" stop-color="#cdcdcd"/><stop offset="0.522" stop-color="#a3a3a3"/><stop offset="0.581" stop-color="#909090"/><stop offset="0.655" stop-color="#707070"/><stop offset="0.764" stop-color="#585858"/><stop offset="1.000" stop-color="#2b2b2b"/></linearGradient>
<linearGradient id="h248" x1="0" x2="1" y1="0" y2="0"><stop offset="0.000" stop-color="#0d0d0d"/><stop offset="0.089" stop-color="#151515"/><stop offset="0.192" stop-color="#272727"/><stop offset="0.251" stop-color="#828282"/><stop offset="0.271" stop-color="#a8a8a8"/><stop offset="0.300" stop-color="#d1d1d1"/><stop offset="0.360" stop-color="#f6f6f6"/><stop offset="0.399" stop-color="#fdfdfd"/><stop offset="0.443" stop-color="#eeeeee"/><stop offset="0.488" stop-color="#d1d1d1"/><stop offset="0.522" stop-color="#a6a6a6"/><stop offset="0.581" stop-color="#949494"/><stop offset="0.655" stop-color="#727272"/><stop offset="0.768" stop-color="#585858"/><stop offset="1.000" stop-color="#2c2c2c"/></linearGradient>
<linearGradient id="h249" x1="0" x2="1" y1="0" y2="0"><stop offset="0.000" stop-color="#0d0d0d"/><stop offset="0.084" stop-color="#141414"/><stop offset="0.192" stop-color="#272727"/><stop offset="0.251" stop-color="#828282"/><stop offset="0.266" stop-color="#a1a1a1"/><stop offset="0.300" stop-color="#d1d1d1"/><stop offset="0.365" stop-color="#fafafa"/><stop offset="0.394" stop-color="#ffffff"/><stop offset="0.433" stop-color="#f6f6f6"/><stop offset="0.488" stop-color="#d2d2d2"/><stop offset="0.522" stop-color="#a7a7a7"/><stop offset="0.586" stop-color="#949494"/><stop offset="0.660" stop-color="#717171"/><stop offset="0.773" stop-color="#585858"/><stop offset="1.000" stop-color="#2c2c2c"/></linearGradient>
<linearGradient id="h250" x1="0" x2="1" y1="0" y2="0"><stop offset="0.000" stop-color="#0d0d0d"/><stop offset="0.084" stop-color="#141414"/><stop offset="0.192" stop-color="#282828"/><stop offset="0.251" stop-color="#828282"/><stop offset="0.266" stop-color="#a1a1a1"/><stop offset="0.300" stop-color="#d1d1d1"/><stop offset="0.365" stop-color="#fafafa"/><stop offset="0.399" stop-color="#ffffff"/><stop offset="0.443" stop-color="#f0f0f0"/><stop offset="0.488" stop-color="#d2d2d2"/><stop offset="0.522" stop-color="#a8a8a8"/><stop offset="0.581" stop-color="#969696"/><stop offset="0.660" stop-color="#727272"/><stop offset="0.773" stop-color="#585858"/><stop offset="1.000" stop-color="#2d2d2d"/></linearGradient>
<linearGradient id="h251" x1="0" x2="1" y1="0" y2="0"><stop offset="0.000" stop-color="#0d0d0d"/><stop offset="0.084" stop-color="#141414"/><stop offset="0.192" stop-color="#282828"/><stop offset="0.251" stop-color="#828282"/><stop offset="0.271" stop-color="#a8a8a8"/><stop offset="0.300" stop-color="#d0d0d0"/><stop offset="0.360" stop-color="#f5f5f5"/><stop offset="0.399" stop-color="#fcfcfc"/><stop offset="0.438" stop-color="#f1f1f1"/><stop offset="0.488" stop-color="#d0d0d0"/><stop offset="0.522" stop-color="#a7a7a7"/><stop offset="0.586" stop-color="#949494"/><stop offset="0.660" stop-color="#717171"/><stop offset="0.773" stop-color="#585858"/><stop offset="1.000" stop-color="#2d2d2d"/></linearGradient>
<linearGradient id="h252" x1="0" x2="1" y1="0" y2="0"><stop offset="0.000" stop-color="#0d0d0d"/><stop offset="0.084" stop-color="#141414"/><stop offset="0.192" stop-color="#272727"/><stop offset="0.256" stop-color="#8a8a8a"/><stop offset="0.276" stop-color="#acacac"/><stop offset="0.305" stop-color="#d1d1d1"/><stop offset="0.369" stop-color="#f3f3f3"/><stop offset="0.419" stop-color="#f3f3f3"/><stop offset="0.483" stop-color="#d1d1d1"/><stop offset="0.517" stop-color="#a8a8a8"/><stop offset="0.586" stop-color="#929292"/><stop offset="0.655" stop-color="#727272"/><stop offset="0.773" stop-color="#575757"/><stop offset="1.000" stop-color="#2c2c2c"/></linearGradient>
<linearGradient id="h253" x1="0" x2="1" y1="0" y2="0"><stop offset="0.000" stop-color="#0d0d0d"/><stop offset="0.089" stop-color="#151515"/><stop offset="0.192" stop-color="#272727"/><stop offset="0.256" stop-color="#858585"/><stop offset="0.276" stop-color="#a8a8a8"/><stop offset="0.310" stop-color="#d1d1d1"/><stop offset="0.374" stop-color="#eaeaea"/><stop offset="0.429" stop-color="#e6e6e6"/><stop offset="0.478" stop-color="#d0d0d0"/><stop offset="0.517" stop-color="#a3a3a3"/><stop offset="0.571" stop-color="#949494"/><stop offset="0.650" stop-color="#727272"/><stop offset="0.768" stop-color="#575757"/><stop offset="1.000" stop-color="#2b2b2b"/></linearGradient>
<linearGradient id="h254" x1="0" x2="1" y1="0" y2="0"><stop offset="0.000" stop-color="#0d0d0d"/><stop offset="0.089" stop-color="#151515"/><stop offset="0.192" stop-color="#262626"/><stop offset="0.246" stop-color="#747474"/><stop offset="0.261" stop-color="#888888"/><stop offset="0.291" stop-color="#b4b4b4"/><stop offset="0.325" stop-color="#d3d3d3"/><stop offset="0.384" stop-color="#e0e0e0"/><stop offset="0.443" stop-color="#d9d9d9"/><stop offset="0.468" stop-color="#cecece"/><stop offset="0.517" stop-color="#9f9f9f"/><stop offset="0.606" stop-color="#7e7e7e"/><stop offset="0.709" stop-color="#606060"/><stop offset="1.000" stop-color="#2a2a2a"/></linearGradient>
<linearGradient id="h255" x1="0" x2="1" y1="0" y2="0"><stop offset="0.000" stop-color="#0d0d0d"/><stop offset="0.089" stop-color="#151515"/><stop offset="0.192" stop-color="#262626"/><stop offset="0.246" stop-color="#707070"/><stop offset="0.266" stop-color="#888888"/><stop offset="0.300" stop-color="#b4b4b4"/><stop offset="0.340" stop-color="#d0d0d0"/><stop offset="0.414" stop-color="#d5d5d5"/><stop offset="0.453" stop-color="#cbcbcb"/><stop offset="0.493" stop-color="#adadad"/><stop offset="0.517" stop-color="#979797"/><stop offset="0.635" stop-color="#6f6f6f"/><stop offset="0.768" stop-color="#545454"/><stop offset="1.000" stop-color="#292929"/></linearGradient>
<linearGradient id="h256" x1="0" x2="1" y1="0" y2="0"><stop offset="0.000" stop-color="#0d0d0d"/><stop offset="0.089" stop-color="#151515"/><stop offset="0.197" stop-color="#282828"/><stop offset="0.241" stop-color="#656565"/><stop offset="0.310" stop-color="#afafaf"/><stop offset="0.350" stop-color="#c4c4c4"/><stop offset="0.414" stop-color="#c7c7c7"/><stop offset="0.463" stop-color="#b6b6b6"/><stop offset="0.517" stop-color="#919191"/><stop offset="0.571" stop-color="#797979"/><stop offset="0.724" stop-color="#595959"/><stop offset="1.000" stop-color="#272727"/></linearGradient>
<linearGradient id="h257" x1="0" x2="1" y1="0" y2="0"><stop offset="0.000" stop-color="#0d0d0d"/><stop offset="0.089" stop-color="#151515"/><stop offset="0.197" stop-color="#252525"/><stop offset="0.241" stop-color="#5f5f5f"/><stop offset="0.315" stop-color="#a2a2a2"/><stop offset="0.360" stop-color="#b4b4b4"/><stop offset="0.429" stop-color="#b2b2b2"/><stop offset="0.567" stop-color="#757575"/><stop offset="0.665" stop-color="#5f5f5f"/><stop offset="1.000" stop-color="#252525"/></linearGradient>
<linearGradient id="h258" x1="0" x2="1" y1="0" y2="0"><stop offset="0.000" stop-color="#0d0d0d"/><stop offset="0.094" stop-color="#161616"/><stop offset="0.197" stop-color="#232323"/><stop offset="0.251" stop-color="#636363"/><stop offset="0.325" stop-color="#969696"/><stop offset="0.384" stop-color="#a0a0a0"/><stop offset="0.463" stop-color="#969696"/><stop offset="0.626" stop-color="#5f5f5f"/><stop offset="0.926" stop-color="#313131"/><stop offset="1.000" stop-color="#232323"/></linearGradient>
<linearGradient id="h259" x1="0" x2="1" y1="0" y2="0"><stop offset="0.000" stop-color="#0d0d0d"/><stop offset="0.094" stop-color="#161616"/><stop offset="0.202" stop-color="#232323"/><stop offset="0.251" stop-color="#5b5b5b"/><stop offset="0.300" stop-color="#7b7b7b"/><stop offset="0.355" stop-color="#8f8f8f"/><stop offset="0.448" stop-color="#8d8d8d"/><stop offset="0.611" stop-color="#5e5e5e"/><stop offset="0.946" stop-color="#2a2a2a"/><stop offset="1.000" stop-color="#202020"/></linearGradient>
<linearGradient id="h260" x1="0" x2="1" y1="0" y2="0"><stop offset="0.000" stop-color="#0d0d0d"/><stop offset="0.094" stop-color="#151515"/><stop offset="0.207" stop-color="#232323"/><stop offset="0.256" stop-color="#575757"/><stop offset="0.305" stop-color="#757575"/><stop offset="0.379" stop-color="#838383"/><stop offset="0.493" stop-color="#7a7a7a"/><stop offset="0.611" stop-color="#595959"/><stop offset="0.951" stop-color="#252525"/><stop offset="1.000" stop-color="#1c1c1c"/></linearGradient>
<linearGradient id="h261" x1="0" x2="1" y1="0" y2="0"><stop offset="0.000" stop-color="#0d0d0d"/><stop offset="0.099" stop-color="#161616"/><stop offset="0.212" stop-color="#232323"/><stop offset="0.266" stop-color="#565656"/><stop offset="0.320" stop-color="#717171"/><stop offset="0.394" stop-color="#797979"/><stop offset="0.512" stop-color="#6f6f6f"/><stop offset="0.640" stop-color="#4e4e4e"/><stop offset="0.916" stop-color="#272727"/><stop offset="1.000" stop-color="#191919"/></linearGradient>
<linearGradient id="h262" x1="0" x2="1" y1="0" y2="0"><stop offset="0.000" stop-color="#0d0d0d"/><stop offset="0.099" stop-color="#161616"/><stop offset="0.217" stop-color="#212121"/><stop offset="0.271" stop-color="#515151"/><stop offset="0.330" stop-color="#6b6b6b"/><stop offset="0.419" stop-color="#717171"/><stop offset="0.532" stop-color="#656565"/><stop offset="0.645" stop-color="#474747"/><stop offset="0.921" stop-color="#222222"/><stop offset="1.000" stop-color="#181818"/></linearGradient>
<linearGradient id="h263" x1="0" x2="1" y1="0" y2="0"><stop offset="0.000" stop-color="#0d0d0d"/><stop offset="0.099" stop-color="#161616"/><stop offset="0.222" stop-color="#1f1f1f"/><stop offset="0.281" stop-color="#4e4e4e"/><stop offset="0.345" stop-color="#656565"/><stop offset="0.463" stop-color="#666666"/><stop offset="0.581" stop-color="#525252"/><stop offset="0.645" stop-color="#414141"/><stop offset="0.946" stop-color="#191919"/><stop offset="1.000" stop-color="#181818"/></linearGradient>
<linearGradient id="h264" x1="0" x2="1" y1="0" y2="0"><stop offset="0.000" stop-color="#0d0d0d"/><stop offset="0.103" stop-color="#171717"/><stop offset="0.232" stop-color="#1f1f1f"/><stop offset="0.291" stop-color="#494949"/><stop offset="0.355" stop-color="#5d5d5d"/><stop offset="0.493" stop-color="#5b5b5b"/><stop offset="0.606" stop-color="#434343"/><stop offset="0.655" stop-color="#393939"/><stop offset="0.951" stop-color="#171717"/><stop offset="1.000" stop-color="#171717"/></linearGradient>
<linearGradient id="h265" x1="0" x2="1" y1="0" y2="0"><stop offset="0.000" stop-color="#0d0d0d"/><stop offset="0.108" stop-color="#171717"/><stop offset="0.241" stop-color="#1f1f1f"/><stop offset="0.305" stop-color="#464646"/><stop offset="0.369" stop-color="#555555"/><stop offset="0.517" stop-color="#505050"/><stop offset="0.655" stop-color="#313131"/><stop offset="0.921" stop-color="#171717"/><stop offset="1.000" stop-color="#171717"/></linearGradient>
<linearGradient id="h266" x1="0" x2="1" y1="0" y2="0"><stop offset="0.000" stop-color="#0d0d0d"/><stop offset="0.108" stop-color="#171717"/><stop offset="0.251" stop-color="#1d1d1d"/><stop offset="0.315" stop-color="#404040"/><stop offset="0.379" stop-color="#4c4c4c"/><stop offset="0.522" stop-color="#464646"/><stop offset="0.660" stop-color="#292929"/><stop offset="0.882" stop-color="#171717"/><stop offset="1.000" stop-color="#161616"/></linearGradient>
<linearGradient id="h267" x1="0" x2="1" y1="0" y2="0"><stop offset="0.000" stop-color="#0d0d0d"/><stop offset="0.113" stop-color="#181818"/><stop offset="0.266" stop-color="#1d1d1d"/><stop offset="0.330" stop-color="#3a3a3a"/><stop offset="0.404" stop-color="#424242"/><stop offset="0.542" stop-color="#393939"/><stop offset="0.660" stop-color="#212121"/><stop offset="0.877" stop-color="#171717"/><stop offset="1.000" stop-color="#161616"/></linearGradient>
<linearGradient id="h268" x1="0" x2="1" y1="0" y2="0"><stop offset="0.000" stop-color="#0d0d0d"/><stop offset="0.192" stop-color="#1a1a1a"/><stop offset="0.281" stop-color="#1c1c1c"/><stop offset="0.345" stop-color="#333333"/><stop offset="0.468" stop-color="#363636"/><stop offset="0.596" stop-color="#262626"/><stop offset="0.660" stop-color="#1a1a1a"/><stop offset="1.000" stop-color="#151515"/></linearGradient>
<linearGradient id="h269" x1="0" x2="1" y1="0" y2="0"><stop offset="0.000" stop-color="#0d0d0d"/><stop offset="0.202" stop-color="#191919"/><stop offset="0.300" stop-color="#1b1b1b"/><stop offset="0.369" stop-color="#2c2c2c"/><stop offset="0.532" stop-color="#282828"/><stop offset="0.635" stop-color="#191919"/><stop offset="1.000" stop-color="#141414"/></linearGradient>
<linearGradient id="h270" x1="0" x2="1" y1="0" y2="0"><stop offset="0.000" stop-color="#0d0d0d"/><stop offset="0.212" stop-color="#171717"/><stop offset="0.325" stop-color="#1a1a1a"/><stop offset="0.399" stop-color="#222222"/><stop offset="0.557" stop-color="#1b1b1b"/><stop offset="1.000" stop-color="#121212"/></linearGradient>
<linearGradient id="h271" x1="0" x2="1" y1="0" y2="0"><stop offset="0.000" stop-color="#0d0d0d"/><stop offset="0.236" stop-color="#161616"/><stop offset="0.749" stop-color="#141414"/><stop offset="1.000" stop-color="#101010"/></linearGradient>
<linearGradient id="h272" x1="0" x2="1" y1="0" y2="0"><stop offset="0.000" stop-color="#0d0d0d"/><stop offset="0.286" stop-color="#141414"/><stop offset="1.000" stop-color="#0e0e0e"/></linearGradient>
<linearGradient id="h273" x1="0" x2="1" y1="0" y2="0"><stop offset="0.000" stop-color="#0d0d0d"/><stop offset="0.424" stop-color="#121212"/><stop offset="1.000" stop-color="#0d0d0d"/></linearGradient>
<linearGradient id="h274" x1="0" x2="1" y1="0" y2="0"><stop offset="0.000" stop-color="#0d0d0d"/><stop offset="0.783" stop-color="#0e0e0e"/><stop offset="1.000" stop-color="#0b0b0b"/></linearGradient>
<linearGradient id="h275" x1="0" x2="1" y1="0" y2="0"><stop offset="0.000" stop-color="#0d0d0d"/><stop offset="0.837" stop-color="#0b0b0b"/><stop offset="1.000" stop-color="#090909"/></linearGradient>
<linearGradient id="h276" x1="0" x2="1" y1="0" y2="0"><stop offset="0.000" stop-color="#0d0d0d"/><stop offset="0.872" stop-color="#090909"/><stop offset="1.000" stop-color="#080808"/></linearGradient>
<linearGradient id="h277" x1="0" x2="1" y1="0" y2="0"><stop offset="0.000" stop-color="#0d0d0d"/><stop offset="0.897" stop-color="#080808"/><stop offset="1.000" stop-color="#080808"/></linearGradient>
<linearGradient id="h278" x1="0" x2="1" y1="0" y2="0"><stop offset="0.000" stop-color="#0d0d0d"/><stop offset="0.901" stop-color="#080808"/><stop offset="1.000" stop-color="#080808"/></linearGradient>
<linearGradient id="h279" x1="0" x2="1" y1="0" y2="0"><stop offset="0.000" stop-color="#050505"/><stop offset="0.154" stop-color="#050505"/><stop offset="0.159" stop-color="#3c3c3c"/><stop offset="0.239" stop-color="#232323"/><stop offset="1.000" stop-color="#232323"/></linearGradient>
<linearGradient id="h280" x1="0" x2="1" y1="0" y2="0"><stop offset="0.000" stop-color="#050505"/><stop offset="0.144" stop-color="#050505"/><stop offset="0.149" stop-color="#3d3d3d"/><stop offset="0.219" stop-color="#262626"/><stop offset="1.000" stop-color="#252525"/></linearGradient>
<linearGradient id="h281" x1="0" x2="1" y1="0" y2="0"><stop offset="0.000" stop-color="#050505"/><stop offset="0.134" stop-color="#050505"/><stop offset="0.139" stop-color="#3e3e3e"/><stop offset="0.199" stop-color="#292929"/><stop offset="0.945" stop-color="#272727"/><stop offset="1.000" stop-color="#272727"/></linearGradient>
<linearGradient id="h282" x1="0" x2="1" y1="0" y2="0"><stop offset="0.000" stop-color="#050505"/><stop offset="0.124" stop-color="#050505"/><stop offset="0.129" stop-color="#3f3f3f"/><stop offset="0.184" stop-color="#2e2e2e"/><stop offset="0.851" stop-color="#292929"/><stop offset="1.000" stop-color="#292929"/></linearGradient>
<linearGradient id="h283" x1="0" x2="1" y1="0" y2="0"><stop offset="0.000" stop-color="#050505"/><stop offset="0.114" stop-color="#050505"/><stop offset="0.119" stop-color="#404040"/><stop offset="0.164" stop-color="#333333"/><stop offset="0.448" stop-color="#2f2f2f"/><stop offset="0.886" stop-color="#2c2c2c"/><stop offset="1.000" stop-color="#2c2c2c"/></linearGradient>
<linearGradient id="h284" x1="0" x2="1" y1="0" y2="0"><stop offset="0.000" stop-color="#050505"/><stop offset="0.100" stop-color="#050505"/><stop offset="0.104" stop-color="#424242"/><stop offset="0.144" stop-color="#393939"/><stop offset="0.343" stop-color="#383838"/><stop offset="0.706" stop-color="#2e2e2e"/><stop offset="1.000" stop-color="#2e2e2e"/></linearGradient>
<linearGradient id="h285" x1="0" x2="1" y1="0" y2="0"><stop offset="0.000" stop-color="#050505"/><stop offset="0.090" stop-color="#050505"/><stop offset="0.095" stop-color="#434343"/><stop offset="0.139" stop-color="#414141"/><stop offset="0.313" stop-color="#414141"/><stop offset="0.657" stop-color="#313131"/><stop offset="1.000" stop-color="#313131"/></linearGradient>
<linearGradient id="h286" x1="0" x2="1" y1="0" y2="0"><stop offset="0.000" stop-color="#050505"/><stop offset="0.080" stop-color="#050505"/><stop offset="0.085" stop-color="#464646"/><stop offset="0.274" stop-color="#4c4c4c"/><stop offset="0.602" stop-color="#373737"/><stop offset="1.000" stop-color="#333333"/></linearGradient>
<linearGradient id="h287" x1="0" x2="1" y1="0" y2="0"><stop offset="0.000" stop-color="#050505"/><stop offset="0.070" stop-color="#050505"/><stop offset="0.075" stop-color="#505050"/><stop offset="0.259" stop-color="#565656"/><stop offset="0.577" stop-color="#3c3c3c"/><stop offset="1.000" stop-color="#353535"/></linearGradient>
<linearGradient id="h288" x1="0" x2="1" y1="0" y2="0"><stop offset="0.000" stop-color="#050505"/><stop offset="0.060" stop-color="#050505"/><stop offset="0.065" stop-color="#5a5a5a"/><stop offset="0.249" stop-color="#626262"/><stop offset="0.557" stop-color="#424242"/><stop offset="0.791" stop-color="#3a3a3a"/><stop offset="1.000" stop-color="#353535"/></linearGradient>
<linearGradient id="h289" x1="0" x2="1" y1="0" y2="0"><stop offset="0.000" stop-color="#050505"/><stop offset="0.045" stop-color="#050505"/><stop offset="0.050" stop-color="#656565"/><stop offset="0.234" stop-color="#6e6e6e"/><stop offset="0.547" stop-color="#474747"/><stop offset="0.741" stop-color="#3d3d3d"/><stop offset="1.000" stop-color="#353535"/></linearGradient>
<linearGradient id="h290" x1="0" x2="1" y1="0" y2="0"><stop offset="0.000" stop-color="#050505"/><stop offset="0.035" stop-color="#050505"/><stop offset="0.040" stop-color="#727272"/><stop offset="0.229" stop-color="#7b7b7b"/><stop offset="0.537" stop-color="#4b4b4b"/><stop offset="0.726" stop-color="#3f3f3f"/><stop offset="1.000" stop-color="#333333"/></linearGradient>
<linearGradient id="h291" x1="0" x2="1" y1="0" y2="0"><stop offset="0.000" stop-color="#050505"/><stop offset="0.025" stop-color="#050505"/><stop offset="0.030" stop-color="#808080"/><stop offset="0.229" stop-color="#868686"/><stop offset="0.532" stop-color="#4f4f4f"/><stop offset="0.731" stop-color="#3f3f3f"/><stop offset="1.000" stop-color="#303030"/></linearGradient>
<linearGradient id="h292" x1="0" x2="1" y1="0" y2="0"><stop offset="0.000" stop-color="#050505"/><stop offset="0.015" stop-color="#050505"/><stop offset="0.020" stop-color="#8e8e8e"/><stop offset="0.224" stop-color="#919191"/><stop offset="0.527" stop-color="#515151"/><stop offset="0.711" stop-color="#3d3d3d"/><stop offset="1.000" stop-color="#2d2d2d"/></linearGradient>
<linearGradient id="h293" x1="0" x2="1" y1="0" y2="0"><stop offset="0.000" stop-color="#050505"/><stop offset="0.005" stop-color="#050505"/><stop offset="0.010" stop-color="#9b9b9b"/><stop offset="0.080" stop-color="#9a9a9a"/><stop offset="0.104" stop-color="#acacac"/><stop offset="0.129" stop-color="#a6a6a6"/><stop offset="0.144" stop-color="#9d9d9d"/><stop offset="0.244" stop-color="#969696"/><stop offset="0.522" stop-color="#4f4f4f"/><stop offset="0.701" stop-color="#3a3a3a"/><stop offset="1.000" stop-color="#292929"/></linearGradient>
<linearGradient id="h294" x1="0" x2="1" y1="0" y2="0"><stop offset="0.000" stop-color="#a8a8a8"/><stop offset="0.075" stop-color="#a4a4a4"/><stop offset="0.100" stop-color="#bebebe"/><stop offset="0.119" stop-color="#bfbfbf"/><stop offset="0.149" stop-color="#a5a5a5"/><stop offset="0.244" stop-color="#9b9b9b"/><stop offset="0.502" stop-color="#4e4e4e"/><stop offset="0.701" stop-color="#363636"/><stop offset="1.000" stop-color="#262626"/></linearGradient>
<linearGradient id="h295" x1="0" x2="1" y1="0" y2="0"><stop offset="0.000" stop-color="#b2b2b2"/><stop offset="0.075" stop-color="#aaaaaa"/><stop offset="0.100" stop-color="#c4c4c4"/><stop offset="0.119" stop-color="#c5c5c5"/><stop offset="0.144" stop-color="#b0b0b0"/><stop offset="0.154" stop-color="#a9a9a9"/><stop offset="0.244" stop-color="#999999"/><stop offset="0.443" stop-color="#575757"/><stop offset="0.552" stop-color="#414141"/><stop offset="0.731" stop-color="#303030"/><stop offset="1.000" stop-color="#242424"/></linearGradient>
<linearGradient id="h296" x1="0" x2="1" y1="0" y2="0"><stop offset="0.000" stop-color="#b7b7b7"/><stop offset="0.085" stop-color="#ababab"/><stop offset="0.104" stop-color="#b9b9b9"/><stop offset="0.129" stop-color="#b3b3b3"/><stop offset="0.149" stop-color="#a5a5a5"/><stop offset="0.249" stop-color="#8e8e8e"/><stop offset="0.423" stop-color="#545454"/><stop offset="0.542" stop-color="#3c3c3c"/><stop offset="0.741" stop-color="#2b2b2b"/><stop offset="1.000" stop-color="#212121"/></linearGradient>
<linearGradient id="h297" x1="0" x2="1" y1="0" y2="0"><stop offset="0.000" stop-color="#b4b4b4"/><stop offset="0.085" stop-color="#a2a2a2"/><stop offset="0.229" stop-color="#888888"/><stop offset="0.413" stop-color="#4d4d4d"/><stop offset="0.547" stop-color="#353535"/><stop offset="0.776" stop-color="#262626"/><stop offset="1.000" stop-color="#1f1f1f"/></linearGradient>
<linearGradient id="h298" x1="0" x2="1" y1="0" y2="0"><stop offset="0.000" stop-color="#b7b7b7"/><stop offset="0.020" stop-color="#ababab"/><stop offset="0.035" stop-color="#9e9e9e"/><stop offset="0.239" stop-color="#757575"/><stop offset="0.413" stop-color="#444444"/><stop offset="0.557" stop-color="#2f2f2f"/><stop offset="0.866" stop-color="#202020"/><stop offset="1.000" stop-color="#1e1e1e"/></linearGradient>
<linearGradient id="h299" x1="0" x2="1" y1="0" y2="0"><stop offset="0.000" stop-color="#e5e5e5"/><stop offset="0.015" stop-color="#dddddd"/><stop offset="0.035" stop-color="#bbbbbb"/><stop offset="0.055" stop-color="#8b8b8b"/><stop offset="0.274" stop-color="#5c5c5c"/><stop offset="0.433" stop-color="#383838"/><stop offset="0.627" stop-color="#252525"/><stop offset="1.000" stop-color="#1c1c1c"/></linearGradient>
<linearGradient id="h300" x1="0" x2="1" y1="0" y2="0"><stop offset="0.000" stop-color="#f1f1f1"/><stop offset="0.015" stop-color="#e8e8e8"/><stop offset="0.035" stop-color="#c5c5c5"/><stop offset="0.065" stop-color="#787878"/><stop offset="0.428" stop-color="#313131"/><stop offset="0.657" stop-color="#212121"/><stop offset="1.000" stop-color="#1b1b1b"/></linearGradient>
<linearGradient id="h301" x1="0" x2="1" y1="0" y2="0"><stop offset="0.000" stop-color="#d1d1d1"/><stop offset="0.015" stop-color="#c9c9c9"/><stop offset="0.035" stop-color="#ababab"/><stop offset="0.065" stop-color="#686868"/><stop offset="0.104" stop-color="#5f5f5f"/><stop offset="0.433" stop-color="#2b2b2b"/><stop offset="0.731" stop-color="#1d1d1d"/><stop offset="1.000" stop-color="#1a1a1a"/></linearGradient>
<linearGradient id="h302" x1="0" x2="1" y1="0" y2="0"><stop offset="0.000" stop-color="#939393"/><stop offset="0.020" stop-color="#8a8a8a"/><stop offset="0.050" stop-color="#616161"/><stop offset="0.060" stop-color="#555555"/><stop offset="0.438" stop-color="#252525"/><stop offset="0.831" stop-color="#1a1a1a"/><stop offset="1.000" stop-color="#191919"/></linearGradient>
<linearGradient id="h303" x1="0" x2="1" y1="0" y2="0"><stop offset="0.000" stop-color="#545454"/><stop offset="0.095" stop-color="#434343"/><stop offset="0.448" stop-color="#202020"/><stop offset="1.000" stop-color="#181818"/></linearGradient>
<linearGradient id="h304" x1="0" x2="1" y1="0" y2="0"><stop offset="0.000" stop-color="#434343"/><stop offset="0.403" stop-color="#1f1f1f"/><stop offset="1.000" stop-color="#181818"/></linearGradient>
<linearGradient id="h305" x1="0" x2="1" y1="0" y2="0"><stop offset="0.000" stop-color="#373737"/><stop offset="0.438" stop-color="#1b1b1b"/><stop offset="1.000" stop-color="#171717"/></linearGradient>
<linearGradient id="h306" x1="0" x2="1" y1="0" y2="0"><stop offset="0.000" stop-color="#2e2e2e"/><stop offset="0.468" stop-color="#181818"/><stop offset="1.000" stop-color="#161616"/></linearGradient>
<linearGradient id="h307" x1="0" x2="1" y1="0" y2="0"><stop offset="0.000" stop-color="#262626"/><stop offset="0.522" stop-color="#161616"/><stop offset="1.000" stop-color="#151515"/></linearGradient>
<linearGradient id="h308" x1="0" x2="1" y1="0" y2="0"><stop offset="0.000" stop-color="#202020"/><stop offset="0.617" stop-color="#151515"/><stop offset="1.000" stop-color="#141414"/></linearGradient>
<linearGradient id="h309" x1="0" x2="1" y1="0" y2="0"><stop offset="0.000" stop-color="#1b1b1b"/><stop offset="0.801" stop-color="#141414"/><stop offset="1.000" stop-color="#141414"/></linearGradient>
<linearGradient id="h310" x1="0" x2="1" y1="0" y2="0"><stop offset="0.000" stop-color="#181818"/><stop offset="1.000" stop-color="#131313"/></linearGradient>
<linearGradient id="h311" x1="0" x2="1" y1="0" y2="0"><stop offset="0.000" stop-color="#151515"/><stop offset="1.000" stop-color="#121212"/></linearGradient>
<linearGradient id="h312" x1="0" x2="1" y1="0" y2="0"><stop offset="0.000" stop-color="#131313"/><stop offset="1.000" stop-color="#111111"/></linearGradient>
<linearGradient id="h313" x1="0" x2="1" y1="0" y2="0"><stop offset="0.000" stop-color="#121212"/><stop offset="1.000" stop-color="#101010"/></linearGradient>
<linearGradient id="h314" x1="0" x2="1" y1="0" y2="0"><stop offset="0.000" stop-color="#111111"/><stop offset="1.000" stop-color="#101010"/></linearGradient>
<linearGradient id="h315" x1="0" x2="1" y1="0" y2="0"><stop offset="0.000" stop-color="#101010"/><stop offset="1.000" stop-color="#0f0f0f"/></linearGradient>
<linearGradient id="h316" x1="0" x2="1" y1="0" y2="0"><stop offset="0.000" stop-color="#0f0f0f"/><stop offset="1.000" stop-color="#0e0e0e"/></linearGradient>
<linearGradient id="h317" x1="0" x2="1" y1="0" y2="0"><stop offset="0.000" stop-color="#0e0e0e"/><stop offset="1.000" stop-color="#0e0e0e"/></linearGradient>
<linearGradient id="h318" x1="0" x2="1" y1="0" y2="0"><stop offset="0.000" stop-color="#0e0e0e"/><stop offset="1.000" stop-color="#0d0d0d"/></linearGradient>
<linearGradient id="h319" x1="0" x2="1" y1="0" y2="0"><stop offset="0.000" stop-color="#0d0d0d"/><stop offset="1.000" stop-color="#0d0d0d"/></linearGradient>
<linearGradient id="h320" x1="0" x2="1" y1="0" y2="0"><stop offset="0.000" stop-color="#0d0d0d"/><stop offset="1.000" stop-color="#0d0d0d"/></linearGradient>
<linearGradient id="h321" x1="0" x2="1" y1="0" y2="0"><stop offset="0.000" stop-color="#0d0d0d"/><stop offset="1.000" stop-color="#0d0d0d"/></linearGradient>
<linearGradient id="h322" x1="0" x2="1" y1="0" y2="0"><stop offset="0.000" stop-color="#0d0d0d"/><stop offset="1.000" stop-color="#0d0d0d"/></linearGradient>
<linearGradient id="h323" x1="0" x2="1" y1="0" y2="0"><stop offset="0.000" stop-color="#0d0d0d"/><stop offset="1.000" stop-color="#0d0d0d"/></linearGradient>
<linearGradient id="h324" x1="0" x2="1" y1="0" y2="0"><stop offset="0.000" stop-color="#0d0d0d"/><stop offset="0.187" stop-color="#1a1a1a"/><stop offset="0.246" stop-color="#1d1d1d"/><stop offset="0.300" stop-color="#3d3d3d"/><stop offset="0.369" stop-color="#494949"/><stop offset="0.507" stop-color="#4a4a4a"/><stop offset="0.596" stop-color="#303030"/><stop offset="0.640" stop-color="#212121"/><stop offset="0.759" stop-color="#191919"/><stop offset="1.000" stop-color="#151515"/></linearGradient>
<linearGradient id="h325" x1="0" x2="1" y1="0" y2="0"><stop offset="0.000" stop-color="#0d0d0d"/><stop offset="0.187" stop-color="#1b1b1b"/><stop offset="0.232" stop-color="#1b1b1b"/><stop offset="0.281" stop-color="#414141"/><stop offset="0.335" stop-color="#535353"/><stop offset="0.498" stop-color="#565656"/><stop offset="0.576" stop-color="#404040"/><stop offset="0.631" stop-color="#2b2b2b"/><stop offset="0.778" stop-color="#181818"/><stop offset="1.000" stop-color="#151515"/></linearGradient>
<linearGradient id="h326" x1="0" x2="1" y1="0" y2="0"><stop offset="0.000" stop-color="#0d0d0d"/><stop offset="0.118" stop-color="#181818"/><stop offset="0.222" stop-color="#1b1b1b"/><stop offset="0.276" stop-color="#4b4b4b"/><stop offset="0.330" stop-color="#5f5f5f"/><stop offset="0.478" stop-color="#646464"/><stop offset="0.562" stop-color="#4e4e4e"/><stop offset="0.626" stop-color="#353535"/><stop offset="0.813" stop-color="#181818"/><stop offset="1.000" stop-color="#151515"/></linearGradient>
<linearGradient id="h327" x1="0" x2="1" y1="0" y2="0"><stop offset="0.000" stop-color="#0d0d0d"/><stop offset="0.113" stop-color="#181818"/><stop offset="0.217" stop-color="#1e1e1e"/><stop offset="0.266" stop-color="#505050"/><stop offset="0.320" stop-color="#6a6a6a"/><stop offset="0.429" stop-color="#707070"/><stop offset="0.507" stop-color="#696969"/><stop offset="0.621" stop-color="#3e3e3e"/><stop offset="0.837" stop-color="#191919"/><stop offset="1.000" stop-color="#161616"/></linearGradient>
<linearGradient id="h328" x1="0" x2="1" y1="0" y2="0"><stop offset="0.000" stop-color="#0d0d0d"/><stop offset="0.108" stop-color="#171717"/><stop offset="0.207" stop-color="#1c1c1c"/><stop offset="0.261" stop-color="#565656"/><stop offset="0.305" stop-color="#707070"/><stop offset="0.369" stop-color="#7b7b7b"/><stop offset="0.483" stop-color="#777777"/><stop offset="0.567" stop-color="#5a5a5a"/><stop offset="0.616" stop-color="#464646"/><stop offset="0.852" stop-color="#1a1a1a"/><stop offset="1.000" stop-color="#161616"/></linearGradient>
<linearGradient id="h329" x1="0" x2="1" y1="0" y2="0"><stop offset="0.000" stop-color="#0d0d0d"/><stop offset="0.108" stop-color="#171717"/><stop offset="0.202" stop-color="#1c1c1c"/><stop offset="0.256" stop-color="#5b5b5b"/><stop offset="0.300" stop-color="#797979"/><stop offset="0.360" stop-color="#8b8b8b"/><stop offset="0.458" stop-color="#888888"/><stop offset="0.571" stop-color="#5e5e5e"/><stop offset="0.616" stop-color="#4d4d4d"/><stop offset="0.867" stop-color="#1b1b1b"/><stop offset="1.000" stop-color="#171717"/></linearGradient>
<linearGradient id="h330" x1="0" x2="1" y1="0" y2="0"><stop offset="0.000" stop-color="#0d0d0d"/><stop offset="0.103" stop-color="#171717"/><stop offset="0.202" stop-color="#1f1f1f"/><stop offset="0.246" stop-color="#595959"/><stop offset="0.305" stop-color="#898989"/><stop offset="0.345" stop-color="#9c9c9c"/><stop offset="0.448" stop-color="#9b9b9b"/><stop offset="0.502" stop-color="#838383"/><stop offset="0.606" stop-color="#545454"/><stop offset="0.882" stop-color="#1d1d1d"/><stop offset="0.995" stop-color="#171717"/><stop offset="1.000" stop-color="#171717"/></linearGradient>
<linearGradient id="h331" x1="0" x2="1" y1="0" y2="0"><stop offset="0.000" stop-color="#0d0d0d"/><stop offset="0.103" stop-color="#171717"/><stop offset="0.197" stop-color="#1e1e1e"/><stop offset="0.246" stop-color="#616161"/><stop offset="0.310" stop-color="#9d9d9d"/><stop offset="0.365" stop-color="#aaaaaa"/><stop offset="0.453" stop-color="#a6a6a6"/><stop offset="0.498" stop-color="#919191"/><stop offset="0.542" stop-color="#767676"/><stop offset="0.606" stop-color="#5a5a5a"/><stop offset="0.892" stop-color="#1e1e1e"/><stop offset="0.980" stop-color="#181818"/><stop offset="1.000" stop-color="#181818"/></linearGradient>
<linearGradient id="h332" x1="0" x2="1" y1="0" y2="0"><stop offset="0.000" stop-color="#0d0d0d"/><stop offset="0.099" stop-color="#161616"/><stop offset="0.197" stop-color="#222222"/><stop offset="0.241" stop-color="#616161"/><stop offset="0.281" stop-color="#8e8e8e"/><stop offset="0.300" stop-color="#a2a2a2"/><stop offset="0.350" stop-color="#b5b5b5"/><stop offset="0.443" stop-color="#b5b5b5"/><stop offset="0.488" stop-color="#a2a2a2"/><stop offset="0.542" stop-color="#7a7a7a"/><stop offset="0.606" stop-color="#5f5f5f"/><stop offset="0.906" stop-color="#1f1f1f"/><stop offset="0.990" stop-color="#181818"/><stop offset="1.000" stop-color="#181818"/></linearGradient>
<linearGradient id="h333" x1="0" x2="1" y1="0" y2="0"><stop offset="0.000" stop-color="#0d0d0d"/><stop offset="0.099" stop-color="#161616"/><stop offset="0.192" stop-color="#1f1f1f"/><stop offset="0.241" stop-color="#676767"/><stop offset="0.271" stop-color="#8c8c8c"/><stop offset="0.286" stop-color="#9f9f9f"/><stop offset="0.330" stop-color="#bbbbbb"/><stop offset="0.399" stop-color="#c2c2c2"/><stop offset="0.458" stop-color="#bbbbbb"/><stop offset="0.498" stop-color="#a3a3a3"/><stop offset="0.547" stop-color="#7b7b7b"/><stop offset="0.640" stop-color="#5b5b5b"/><stop offset="0.926" stop-color="#1e1e1e"/><stop offset="1.000" stop-color="#191919"/></linearGradient>
<linearGradient id="h334" x1="0" x2="1" y1="0" y2="0"><stop offset="0.000" stop-color="#0d0d0d"/><stop offset="0.094" stop-color="#151515"/><stop offset="0.192" stop-color="#202020"/><stop offset="0.236" stop-color="#656565"/><stop offset="0.266" stop-color="#8d8d8d"/><stop offset="0.281" stop-color="#a2a2a2"/><stop offset="0.320" stop-color="#c0c0c0"/><stop offset="0.369" stop-color="#cccccc"/><stop offset="0.448" stop-color="#c8c8c8"/><stop offset="0.488" stop-color="#b4b4b4"/><stop offset="0.542" stop-color="#838383"/><stop offset="0.655" stop-color="#5b5b5b"/><stop offset="0.956" stop-color="#1c1c1c"/><stop offset="1.000" stop-color="#191919"/></linearGradient>
<linearGradient id="h335" x1="0" x2="1" y1="0" y2="0"><stop offset="0.000" stop-color="#0d0d0d"/><stop offset="0.094" stop-color="#151515"/><stop offset="0.192" stop-color="#232323"/><stop offset="0.236" stop-color="#696969"/><stop offset="0.261" stop-color="#8c8c8c"/><stop offset="0.276" stop-color="#a3a3a3"/><stop offset="0.310" stop-color="#c1c1c1"/><stop offset="0.345" stop-color="#d0d0d0"/><stop offset="0.453" stop-color="#cfcfcf"/><stop offset="0.493" stop-color="#b7b7b7"/><stop offset="0.537" stop-color="#8c8c8c"/><stop offset="0.660" stop-color="#5d5d5d"/><stop offset="0.980" stop-color="#1a1a1a"/><stop offset="1.000" stop-color="#1a1a1a"/></linearGradient>
<linearGradient id="h336" x1="0" x2="1" y1="0" y2="0"><stop offset="0.000" stop-color="#0d0d0d"/><stop offset="0.094" stop-color="#161616"/><stop offset="0.192" stop-color="#242424"/><stop offset="0.236" stop-color="#6c6c6c"/><stop offset="0.256" stop-color="#898989"/><stop offset="0.271" stop-color="#a2a2a2"/><stop offset="0.310" stop-color="#c8c8c8"/><stop offset="0.340" stop-color="#d3d3d3"/><stop offset="0.443" stop-color="#d4d4d4"/><stop offset="0.473" stop-color="#cccccc"/><stop offset="0.512" stop-color="#a7a7a7"/><stop offset="0.532" stop-color="#949494"/><stop offset="0.665" stop-color="#5e5e5e"/><stop offset="0.990" stop-color="#1b1b1b"/><stop offset="1.000" stop-color="#1b1b1b"/></linearGradient>
<linearGradient id="h337" x1="0" x2="1" y1="0" y2="0"><stop offset="0.000" stop-color="#0d0d0d"/><stop offset="0.094" stop-color="#161616"/><stop offset="0.192" stop-color="#262626"/><stop offset="0.236" stop-color="#6e6e6e"/><stop offset="0.256" stop-color="#8e8e8e"/><stop offset="0.276" stop-color="#acacac"/><stop offset="0.315" stop-color="#d0d0d0"/><stop offset="0.379" stop-color="#dbdbdb"/><stop offset="0.458" stop-color="#d5d5d5"/><stop offset="0.483" stop-color="#cacaca"/><stop offset="0.527" stop-color="#9b9b9b"/><stop offset="0.665" stop-color="#606060"/><stop offset="1.000" stop-color="#1c1c1c"/></linearGradient>
<linearGradient id="h338" x1="0" x2="1" y1="0" y2="0"><stop offset="0.000" stop-color="#0d0d0d"/><stop offset="0.089" stop-color="#151515"/><stop offset="0.192" stop-color="#272727"/><stop offset="0.236" stop-color="#707070"/><stop offset="0.251" stop-color="#878787"/><stop offset="0.266" stop-color="#a2a2a2"/><stop offset="0.305" stop-color="#cdcdcd"/><stop offset="0.365" stop-color="#dfdfdf"/><stop offset="0.443" stop-color="#dcdcdc"/><stop offset="0.488" stop-color="#c9c9c9"/><stop offset="0.527" stop-color="#9e9e9e"/><stop offset="0.601" stop-color="#7c7c7c"/><stop offset="0.665" stop-color="#636363"/><stop offset="0.833" stop-color="#414141"/><stop offset="1.000" stop-color="#1d1d1d"/></linearGradient>
<linearGradient id="h339" x1="0" x2="1" y1="0" y2="0"><stop offset="0.000" stop-color="#0d0d0d"/><stop offset="0.089" stop-color="#151515"/><stop offset="0.192" stop-color="#272727"/><stop offset="0.236" stop-color="#717171"/><stop offset="0.251" stop-color="#898989"/><stop offset="0.266" stop-color="#a4a4a4"/><stop offset="0.305" stop-color="#d0d0d0"/><stop offset="0.369" stop-color="#e4e4e4"/><stop offset="0.438" stop-color="#e1e1e1"/><stop offset="0.488" stop-color="#cccccc"/><stop offset="0.527" stop-color="#a0a0a0"/><stop offset="0.581" stop-color="#8a8a8a"/><stop offset="0.640" stop-color="#6c6c6c"/><stop offset="0.813" stop-color="#494949"/><stop offset="1.000" stop-color="#1d1d1d"/></linearGradient>
<linearGradient id="h340" x1="0" x2="1" y1="0" y2="0"><stop offset="0.000" stop-color="#0d0d0d"/><stop offset="0.089" stop-color="#151515"/><stop offset="0.192" stop-color="#282828"/><stop offset="0.236" stop-color="#727272"/><stop offset="0.251" stop-color="#8b8b8b"/><stop offset="0.266" stop-color="#a6a6a6"/><stop offset="0.300" stop-color="#cecece"/><stop offset="0.365" stop-color="#e7e7e7"/><stop offset="0.438" stop-color="#e4e4e4"/><stop offset="0.493" stop-color="#c9c9c9"/><stop offset="0.527" stop-color="#a1a1a1"/><stop offset="0.571" stop-color="#919191"/><stop offset="0.635" stop-color="#6f6f6f"/><stop offset="0.773" stop-color="#565656"/><stop offset="1.000" stop-color="#1e1e1e"/></linearGradient>
<linearGradient id="h341" x1="0" x2="1" y1="0" y2="0"><stop offset="0.000" stop-color="#0d0d0d"/><stop offset="0.089" stop-color="#151515"/><stop offset="0.192" stop-color="#282828"/><stop offset="0.236" stop-color="#727272"/><stop offset="0.251" stop-color="#8c8c8c"/><stop offset="0.266" stop-color="#a7a7a7"/><stop offset="0.300" stop-color="#cfcfcf"/><stop offset="0.365" stop-color="#e9e9e9"/><stop offset="0.438" stop-color="#e7e7e7"/><stop offset="0.493" stop-color="#cbcbcb"/><stop offset="0.527" stop-color="#a2a2a2"/><stop offset="0.571" stop-color="#929292"/><stop offset="0.631" stop-color="#737373"/><stop offset="0.759" stop-color="#5d5d5d"/><stop offset="1.000" stop-color="#1f1f1f"/></linearGradient>
<linearGradient id="h342" x1="0" x2="1" y1="0" y2="0"><stop offset="0.000" stop-color="#0d0d0d"/><stop offset="0.089" stop-color="#151515"/><stop offset="0.192" stop-color="#282828"/><stop offset="0.236" stop-color="#727272"/><stop offset="0.251" stop-color="#8d8d8d"/><stop offset="0.266" stop-color="#a7a7a7"/><stop offset="0.300" stop-color="#d0d0d0"/><stop offset="0.365" stop-color="#ebebeb"/><stop offset="0.429" stop-color="#ebebeb"/><stop offset="0.488" stop-color="#d1d1d1"/><stop offset="0.527" stop-color="#a3a3a3"/><stop offset="0.567" stop-color="#959595"/><stop offset="0.626" stop-color="#767676"/><stop offset="0.749" stop-color="#626262"/><stop offset="1.000" stop-color="#1f1f1f"/></linearGradient>
<linearGradient id="h343" x1="0" x2="1" y1="0" y2="0"><stop offset="0.000" stop-color="#0d0d0d"/><stop offset="0.089" stop-color="#151515"/><stop offset="0.192" stop-color="#282828"/><stop offset="0.241" stop-color="#797979"/><stop offset="0.261" stop-color="#a1a1a1"/><stop offset="0.300" stop-color="#d0d0d0"/><stop offset="0.365" stop-color="#ededed"/><stop offset="0.414" stop-color="#f0f0f0"/><stop offset="0.458" stop-color="#e1e1e1"/><stop offset="0.493" stop-color="#cdcdcd"/><stop offset="0.527" stop-color="#a3a3a3"/><stop offset="0.567" stop-color="#969696"/><stop offset="0.621" stop-color="#787878"/><stop offset="0.744" stop-color="#656565"/><stop offset="1.000" stop-color="#1f1f1f"/></linearGradient>
<linearGradient id="h344" x1="0" x2="1" y1="0" y2="0"><stop offset="0.000" stop-color="#0d0d0d"/><stop offset="0.084" stop-color="#141414"/><stop offset="0.192" stop-color="#282828"/><stop offset="0.241" stop-color="#7a7a7a"/><stop offset="0.261" stop-color="#a1a1a1"/><stop offset="0.300" stop-color="#d0d0d0"/><stop offset="0.365" stop-color="#efefef"/><stop offset="0.404" stop-color="#f5f5f5"/><stop offset="0.453" stop-color="#e6e6e6"/><stop offset="0.493" stop-color="#cecece"/><stop offset="0.527" stop-color="#a4a4a4"/><stop offset="0.567" stop-color="#969696"/><stop offset="0.616" stop-color="#7a7a7a"/><stop offset="0.734" stop-color="#686868"/><stop offset="1.000" stop-color="#202020"/></linearGradient>
<linearGradient id="h345" x1="0" x2="1" y1="0" y2="0"><stop offset="0.000" stop-color="#0d0d0d"/><stop offset="0.084" stop-color="#141414"/><stop offset="0.192" stop-color="#282828"/><stop offset="0.241" stop-color="#7a7a7a"/><stop offset="0.261" stop-color="#a1a1a1"/><stop offset="0.300" stop-color="#d1d1d1"/><stop offset="0.365" stop-color="#f2f2f2"/><stop offset="0.404" stop-color="#f8f8f8"/><stop offset="0.453" stop-color="#e8e8e8"/><stop offset="0.493" stop-color="#cfcfcf"/><stop offset="0.527" stop-color="#a4a4a4"/><stop offset="0.571" stop-color="#939393"/><stop offset="0.616" stop-color="#7a7a7a"/><stop offset="0.734" stop-color="#686868"/><stop offset="1.000" stop-color="#202020"/></linearGradient>
<linearGradient id="h346" x1="0" x2="1" y1="0" y2="0"><stop offset="0.000" stop-color="#0d0d0d"/><stop offset="0.084" stop-color="#141414"/><stop offset="0.192" stop-color="#282828"/><stop offset="0.241" stop-color="#7a7a7a"/><stop offset="0.261" stop-color="#a1a1a1"/><stop offset="0.300" stop-color="#d1d1d1"/><stop offset="0.365" stop-color="#f4f4f4"/><stop offset="0.404" stop-color="#fafafa"/><stop offset="0.453" stop-color="#eaeaea"/><stop offset="0.493" stop-color="#d0d0d0"/><stop offset="0.527" stop-color="#a5a5a5"/><stop offset="0.571" stop-color="#939393"/><stop offset="0.616" stop-color="#7a7a7a"/><stop offset="0.734" stop-color="#686868"/><stop offset="1.000" stop-color="#202020"/></linearGradient>
<linearGradient id="h347" x1="0" x2="1" y1="0" y2="0"><stop offset="0.000" stop-color="#0d0d0d"/><stop offset="0.084" stop-color="#141414"/><stop offset="0.192" stop-color="#282828"/><stop offset="0.241" stop-color="#7a7a7a"/><stop offset="0.261" stop-color="#a1a1a1"/><stop offset="0.300" stop-color="#d2d2d2"/><stop offset="0.365" stop-color="#f6f6f6"/><stop offset="0.409" stop-color="#fcfcfc"/><stop offset="0.448" stop-color="#efefef"/><stop offset="0.493" stop-color="#d1d1d1"/><stop offset="0.527" stop-color="#a5a5a5"/><stop offset="0.571" stop-color="#939393"/><stop offset="0.621" stop-color="#787878"/><stop offset="0.744" stop-color="#656565"/><stop offset="1.000" stop-color="#202020"/></linearGradient>
<linearGradient id="h348" x1="0" x2="1" y1="0" y2="0"><stop offset="0.000" stop-color="#0d0d0d"/><stop offset="0.089" stop-color="#151515"/><stop offset="0.192" stop-color="#282828"/><stop offset="0.241" stop-color="#797979"/><stop offset="0.261" stop-color="#a0a0a0"/><stop offset="0.300" stop-color="#d2d2d2"/><stop offset="0.365" stop-color="#f8f8f8"/><stop offset="0.414" stop-color="#fcfcfc"/><stop offset="0.448" stop-color="#f1f1f1"/><stop offset="0.493" stop-color="#d2d2d2"/><stop offset="0.527" stop-color="#a5a5a5"/><stop offset="0.576" stop-color="#909090"/><stop offset="0.621" stop-color="#767676"/><stop offset="0.744" stop-color="#636363"/><stop offset="1.000" stop-color="#1f1f1f"/></linearGradient>
<linearGradient id="h349" x1="0" x2="1" y1="0" y2="0"><stop offset="0.000" stop-color="#0d0d0d"/><stop offset="0.089" stop-color="#151515"/><stop offset="0.192" stop-color="#282828"/><stop offset="0.236" stop-color="#727272"/><stop offset="0.251" stop-color="#8b8b8b"/><stop offset="0.266" stop-color="#a6a6a6"/><stop offset="0.305" stop-color="#d5d5d5"/><stop offset="0.369" stop-color="#f9f9f9"/><stop offset="0.424" stop-color="#fbfbfb"/><stop offset="0.483" stop-color="#dbdbdb"/><stop offset="0.517" stop-color="#b0b0b0"/><stop offset="0.532" stop-color="#a3a3a3"/><stop offset="0.591" stop-color="#868686"/><stop offset="0.626" stop-color="#737373"/><stop offset="0.754" stop-color="#5e5e5e"/><stop offset="1.000" stop-color="#1f1f1f"/></linearGradient>
<linearGradient id="h350" x1="0" x2="1" y1="0" y2="0"><stop offset="0.000" stop-color="#0d0d0d"/><stop offset="0.089" stop-color="#151515"/><stop offset="0.192" stop-color="#272727"/><stop offset="0.236" stop-color="#717171"/><stop offset="0.251" stop-color="#8a8a8a"/><stop offset="0.266" stop-color="#a5a5a5"/><stop offset="0.305" stop-color="#d4d4d4"/><stop offset="0.369" stop-color="#f7f7f7"/><stop offset="0.419" stop-color="#f9f9f9"/><stop offset="0.468" stop-color="#e3e3e3"/><stop offset="0.493" stop-color="#d0d0d0"/><stop offset="0.527" stop-color="#a3a3a3"/><stop offset="0.596" stop-color="#818181"/><stop offset="0.635" stop-color="#6f6f6f"/><stop offset="0.768" stop-color="#585858"/><stop offset="0.995" stop-color="#1f1f1f"/><stop offset="1.000" stop-color="#1f1f1f"/></linearGradient>
<linearGradient id="h351" x1="0" x2="1" y1="0" y2="0"><stop offset="0.000" stop-color="#0d0d0d"/><stop offset="0.089" stop-color="#151515"/><stop offset="0.192" stop-color="#272727"/><stop offset="0.236" stop-color="#707070"/><stop offset="0.251" stop-color="#878787"/><stop offset="0.266" stop-color="#a3a3a3"/><stop offset="0.310" stop-color="#d5d5d5"/><stop offset="0.374" stop-color="#f3f3f3"/><stop offset="0.429" stop-color="#f2f2f2"/><stop offset="0.483" stop-color="#d8d8d8"/><stop offset="0.527" stop-color="#a2a2a2"/><stop offset="0.640" stop-color="#6a6a6a"/><stop offset="0.783" stop-color="#515151"/><stop offset="0.995" stop-color="#1e1e1e"/><stop offset="1.000" stop-color="#1e1e1e"/></linearGradient>
<linearGradient id="h352" x1="0" x2="1" y1="0" y2="0"><stop offset="0.000" stop-color="#0d0d0d"/><stop offset="0.089" stop-color="#151515"/><stop offset="0.192" stop-color="#262626"/><stop offset="0.236" stop-color="#6e6e6e"/><stop offset="0.256" stop-color="#8e8e8e"/><stop offset="0.276" stop-color="#adadad"/><stop offset="0.315" stop-color="#d5d5d5"/><stop offset="0.374" stop-color="#ececec"/><stop offset="0.433" stop-color="#eaeaea"/><stop offset="0.478" stop-color="#d8d8d8"/><stop offset="0.517" stop-color="#a9a9a9"/><stop offset="0.532" stop-color="#9c9c9c"/><stop offset="0.645" stop-color="#666666"/><stop offset="0.813" stop-color="#464646"/><stop offset="0.995" stop-color="#1d1d1d"/><stop offset="1.000" stop-color="#1d1d1d"/></linearGradient>
<linearGradient id="h353" x1="0" x2="1" y1="0" y2="0"><stop offset="0.000" stop-color="#0d0d0d"/><stop offset="0.089" stop-color="#151515"/><stop offset="0.192" stop-color="#242424"/><stop offset="0.236" stop-color="#6c6c6c"/><stop offset="0.256" stop-color="#898989"/><stop offset="0.271" stop-color="#a3a3a3"/><stop offset="0.315" stop-color="#d0d0d0"/><stop offset="0.374" stop-color="#e5e5e5"/><stop offset="0.438" stop-color="#e2e2e2"/><stop offset="0.473" stop-color="#d5d5d5"/><stop offset="0.512" stop-color="#ababab"/><stop offset="0.532" stop-color="#969696"/><stop offset="0.660" stop-color="#5f5f5f"/><stop offset="0.837" stop-color="#3c3c3c"/><stop offset="0.995" stop-color="#1d1d1d"/><stop offset="1.000" stop-color="#1d1d1d"/></linearGradient>
<linearGradient id="h354" x1="0" x2="1" y1="0" y2="0"><stop offset="0.000" stop-color="#0d0d0d"/><stop offset="0.094" stop-color="#161616"/><stop offset="0.192" stop-color="#232323"/><stop offset="0.236" stop-color="#696969"/><stop offset="0.261" stop-color="#8d8d8d"/><stop offset="0.276" stop-color="#a3a3a3"/><stop offset="0.315" stop-color="#c8c8c8"/><stop offset="0.350" stop-color="#d8d8d8"/><stop offset="0.419" stop-color="#dddddd"/><stop offset="0.463" stop-color="#d2d2d2"/><stop offset="0.502" stop-color="#b1b1b1"/><stop offset="0.537" stop-color="#8e8e8e"/><stop offset="0.655" stop-color="#5e5e5e"/><stop offset="0.990" stop-color="#1c1c1c"/><stop offset="1.000" stop-color="#1c1c1c"/></linearGradient>
<linearGradient id="h355" x1="0" x2="1" y1="0" y2="0"><stop offset="0.000" stop-color="#0d0d0d"/><stop offset="0.094" stop-color="#161616"/><stop offset="0.192" stop-color="#222222"/><stop offset="0.241" stop-color="#6c6c6c"/><stop offset="0.266" stop-color="#8d8d8d"/><stop offset="0.281" stop-color="#a2a2a2"/><stop offset="0.320" stop-color="#c2c2c2"/><stop offset="0.369" stop-color="#d3d3d3"/><stop offset="0.438" stop-color="#d1d1d1"/><stop offset="0.483" stop-color="#bcbcbc"/><stop offset="0.542" stop-color="#848484"/><stop offset="0.650" stop-color="#5c5c5c"/><stop offset="0.980" stop-color="#1b1b1b"/><stop offset="1.000" stop-color="#1b1b1b"/></linearGradient>
<linearGradient id="h356" x1="0" x2="1" y1="0" y2="0"><stop offset="0.000" stop-color="#0d0d0d"/><stop offset="0.094" stop-color="#151515"/><stop offset="0.192" stop-color="#212121"/><stop offset="0.246" stop-color="#6d6d6d"/><stop offset="0.271" stop-color="#8c8c8c"/><stop offset="0.286" stop-color="#a0a0a0"/><stop offset="0.330" stop-color="#bdbdbd"/><stop offset="0.389" stop-color="#c7c7c7"/><stop offset="0.453" stop-color="#c1c1c1"/><stop offset="0.493" stop-color="#aaaaaa"/><stop offset="0.547" stop-color="#7c7c7c"/><stop offset="0.640" stop-color="#5b5b5b"/><stop offset="0.966" stop-color="#1a1a1a"/><stop offset="1.000" stop-color="#1a1a1a"/></linearGradient>
<linearGradient id="h357" x1="0" x2="1" y1="0" y2="0"><stop offset="0.000" stop-color="#0d0d0d"/><stop offset="0.099" stop-color="#161616"/><stop offset="0.197" stop-color="#222222"/><stop offset="0.241" stop-color="#616161"/><stop offset="0.281" stop-color="#8e8e8e"/><stop offset="0.300" stop-color="#a2a2a2"/><stop offset="0.350" stop-color="#b7b7b7"/><stop offset="0.433" stop-color="#b9b9b9"/><stop offset="0.478" stop-color="#a9a9a9"/><stop offset="0.542" stop-color="#7a7a7a"/><stop offset="0.606" stop-color="#5f5f5f"/><stop offset="0.901" stop-color="#222222"/><stop offset="0.985" stop-color="#191919"/><stop offset="1.000" stop-color="#191919"/></linearGradient>
<linearGradient id="h358" x1="0" x2="1" y1="0" y2="0"><stop offset="0.000" stop-color="#0d0d0d"/><stop offset="0.103" stop-color="#171717"/><stop offset="0.197" stop-color="#1e1e1e"/><stop offset="0.246" stop-color="#616161"/><stop offset="0.310" stop-color="#9d9d9d"/><stop offset="0.365" stop-color="#acacac"/><stop offset="0.448" stop-color="#a9a9a9"/><stop offset="0.493" stop-color="#959595"/><stop offset="0.542" stop-color="#767676"/><stop offset="0.606" stop-color="#5a5a5a"/><stop offset="0.872" stop-color="#242424"/><stop offset="0.975" stop-color="#181818"/><stop offset="1.000" stop-color="#181818"/></linearGradient>
<linearGradient id="h359" x1="0" x2="1" y1="0" y2="0"><stop offset="0.000" stop-color="#0d0d0d"/><stop offset="0.113" stop-color="#171717"/><stop offset="0.202" stop-color="#1f1f1f"/><stop offset="0.246" stop-color="#595959"/><stop offset="0.305" stop-color="#898989"/><stop offset="0.345" stop-color="#9c9c9c"/><stop offset="0.448" stop-color="#9c9c9c"/><stop offset="0.502" stop-color="#838383"/><stop offset="0.606" stop-color="#545454"/><stop offset="0.857" stop-color="#232323"/><stop offset="0.975" stop-color="#161616"/><stop offset="1.000" stop-color="#161616"/></linearGradient>
<linearGradient id="h360" x1="0" x2="1" y1="0" y2="0"><stop offset="0.000" stop-color="#0d0d0d"/><stop offset="0.202" stop-color="#1b1b1b"/><stop offset="0.256" stop-color="#5b5b5b"/><stop offset="0.300" stop-color="#797979"/><stop offset="0.360" stop-color="#8b8b8b"/><stop offset="0.453" stop-color="#898989"/><stop offset="0.567" stop-color="#606060"/><stop offset="0.616" stop-color="#4d4d4d"/><stop offset="0.842" stop-color="#222222"/><stop offset="0.975" stop-color="#151515"/><stop offset="1.000" stop-color="#141414"/></linearGradient>
<linearGradient id="h361" x1="0" x2="1" y1="0" y2="0"><stop offset="0.000" stop-color="#0d0d0d"/><stop offset="0.207" stop-color="#191919"/><stop offset="0.256" stop-color="#525252"/><stop offset="0.300" stop-color="#6e6e6e"/><stop offset="0.365" stop-color="#7b7b7b"/><stop offset="0.478" stop-color="#787878"/><stop offset="0.562" stop-color="#5c5c5c"/><stop offset="0.616" stop-color="#464646"/><stop offset="0.828" stop-color="#202020"/><stop offset="0.975" stop-color="#121212"/><stop offset="1.000" stop-color="#121212"/></linearGradient>
<linearGradient id="h362" x1="0" x2="1" y1="0" y2="0"><stop offset="0.000" stop-color="#0d0d0d"/><stop offset="0.212" stop-color="#181818"/><stop offset="0.261" stop-color="#4c4c4c"/><stop offset="0.310" stop-color="#676767"/><stop offset="0.384" stop-color="#707070"/><stop offset="0.493" stop-color="#6c6c6c"/><stop offset="0.586" stop-color="#4b4b4b"/><stop offset="0.621" stop-color="#3e3e3e"/><stop offset="0.813" stop-color="#1e1e1e"/><stop offset="0.985" stop-color="#101010"/><stop offset="1.000" stop-color="#101010"/></linearGradient>
<linearGradient id="h363" x1="0" x2="1" y1="0" y2="0"><stop offset="0.000" stop-color="#0d0d0d"/><stop offset="0.217" stop-color="#151515"/><stop offset="0.266" stop-color="#444444"/><stop offset="0.315" stop-color="#5c5c5c"/><stop offset="0.399" stop-color="#646464"/><stop offset="0.498" stop-color="#616161"/><stop offset="0.581" stop-color="#464646"/><stop offset="0.626" stop-color="#353535"/><stop offset="0.803" stop-color="#1c1c1c"/><stop offset="0.990" stop-color="#0e0e0e"/><stop offset="1.000" stop-color="#0e0e0e"/></linearGradient>
<linearGradient id="h364" x1="0" x2="1" y1="0" y2="0"><stop offset="0.000" stop-color="#0d0d0d"/><stop offset="0.222" stop-color="#121212"/><stop offset="0.276" stop-color="#3e3e3e"/><stop offset="0.330" stop-color="#535353"/><stop offset="0.493" stop-color="#575757"/><stop offset="0.567" stop-color="#444444"/><stop offset="0.631" stop-color="#2b2b2b"/><stop offset="0.818" stop-color="#171717"/><stop offset="1.000" stop-color="#0c0c0c"/></linearGradient>
<linearGradient id="h365" x1="0" x2="1" y1="0" y2="0"><stop offset="0.000" stop-color="#0d0d0d"/><stop offset="0.232" stop-color="#111111"/><stop offset="0.286" stop-color="#363636"/><stop offset="0.345" stop-color="#474747"/><stop offset="0.502" stop-color="#4b4b4b"/><stop offset="0.586" stop-color="#343434"/><stop offset="0.635" stop-color="#222222"/><stop offset="1.000" stop-color="#0a0a0a"/></linearGradient>
<linearGradient id="h366" x1="0" x2="1" y1="0" y2="0"><stop offset="0.000" stop-color="#0d0d0d"/><stop offset="0.246" stop-color="#111111"/><stop offset="0.300" stop-color="#2f2f2f"/><stop offset="0.374" stop-color="#3a3a3a"/><stop offset="0.517" stop-color="#3d3d3d"/><stop offset="0.606" stop-color="#232323"/><stop offset="0.640" stop-color="#1a1a1a"/><stop offset="1.000" stop-color="#090909"/></linearGradient>
<linearGradient id="h367" x1="0" x2="1" y1="0" y2="0"><stop offset="0.000" stop-color="#0d0d0d"/><stop offset="0.261" stop-color="#0f0f0f"/><stop offset="0.320" stop-color="#262626"/><stop offset="0.517" stop-color="#313131"/><stop offset="0.606" stop-color="#1b1b1b"/><stop offset="0.670" stop-color="#161616"/><stop offset="1.000" stop-color="#080808"/></linearGradient>
<linearGradient id="h368" x1="0" x2="1" y1="0" y2="0"><stop offset="0.000" stop-color="#0d0d0d"/><stop offset="0.291" stop-color="#111111"/><stop offset="0.365" stop-color="#1e1e1e"/><stop offset="0.527" stop-color="#252525"/><stop offset="0.621" stop-color="#141414"/><stop offset="1.000" stop-color="#080808"/></linearGradient>
<linearGradient id="cbg" x1="0" y1="0" x2="0" y2="1"><stop offset="0.000" stop-color="rgb(128,15,25)"/><stop offset="0.050" stop-color="rgb(161,21,29)"/><stop offset="0.100" stop-color="rgb(195,27,33)"/><stop offset="0.150" stop-color="rgb(216,47,35)"/><stop offset="0.200" stop-color="rgb(229,74,35)"/><stop offset="0.250" stop-color="rgb(238,116,37)"/><stop offset="0.300" stop-color="rgb(245,160,40)"/><stop offset="0.350" stop-color="rgb(245,197,43)"/><stop offset="0.400" stop-color="rgb(237,225,50)"/><stop offset="0.450" stop-color="rgb(196,217,75)"/><stop offset="0.500" stop-color="rgb(146,208,131)"/><stop offset="0.550" stop-color="rgb(100,198,186)"/><stop offset="0.600" stop-color="rgb(62,188,225)"/><stop offset="0.650" stop-color="rgb(53,161,218)"/><stop offset="0.700" stop-color="rgb(48,136,208)"/><stop offset="0.750" stop-color="rgb(45,115,195)"/><stop offset="0.800" stop-color="rgb(43,98,180)"/><stop offset="0.850" stop-color="rgb(41,84,163)"/><stop offset="0.900" stop-color="rgb(41,71,145)"/><stop offset="0.950" stop-color="rgb(42,61,128)"/><stop offset="1.000" stop-color="rgb(44,58,110)"/></linearGradient></defs>
<text x="0" y="14" font-size="14.5" fill="#3b2c2c" stroke="#3b2c2c" stroke-width="0.22" text-anchor="start" >(a)</text>
<path d="M55.6,48 C55.83,47 56.43,44.67 57,42 C57.57,39.33 58.33,34.83 59,32 C59.67,29.17 60.33,26.83 61,25 C61.67,23.17 62.23,22.13 63,21 C63.77,19.87 64.85,18.53 65.6,18.2 C66.35,17.87 66.85,18.53 67.5,19 C68.15,19.47 68.85,20.37 69.5,21 C70.15,21.63 70.9,21.63 71.4,22.8 C71.9,23.97 72.17,26.43 72.5,28 C72.83,29.57 72.98,31.37 73.4,32.2 C73.82,33.03 74.4,32.95 75,33 C75.6,33.05 76.33,32.42 77,32.5 C77.67,32.58 78.33,33.42 79,33.5 C79.67,33.58 80.33,33 81,33 C81.67,33 82.33,33.33 83,33.5 C83.67,33.67 84.33,33.75 85,34 C85.67,34.25 86.33,34.25 87,35 C87.67,35.75 88.33,37.17 89,38.5 C89.67,39.83 90.33,41.5 91,43 C91.67,44.5 92.33,46 93,47.5 C93.67,49 94.33,50.58 95,52 C95.67,53.42 96.25,54.93 97,56 C97.75,57.07 99.08,58 99.5,58.4" fill="none" stroke="#1e1e1e" stroke-width="1" stroke-linejoin="round" stroke-linecap="round" />
<path d="M91.5,58.5 C91.83,57.92 92.83,57.25 93.5,55 C94.17,52.75 94.92,48 95.5,45 C96.08,42 96.45,39.17 97,37 C97.55,34.83 98.22,33.17 98.8,32 C99.38,30.83 99.97,31.17 100.5,30 C101.03,28.83 101.37,27.05 102,25 C102.63,22.95 103.63,18.03 104.3,17.7 C104.97,17.37 105.47,20.95 106,23 C106.53,25.05 107.03,28.2 107.5,30 C107.97,31.8 108.22,32.72 108.8,33.8 C109.38,34.88 110.23,35.6 111,36.5 C111.77,37.4 112.57,38.03 113.4,39.2 C114.23,40.37 114.78,41.82 116,43.5 C117.22,45.18 119.2,47.63 120.7,49.3 C122.2,50.97 123.18,52.22 125,53.5 C126.82,54.78 129.1,56.2 131.6,57 C134.1,57.8 138.6,58.08 140,58.3" fill="none" stroke="#1e1e1e" stroke-width="1" stroke-linejoin="round" stroke-linecap="round" />
<path d="M97,58.8 C98.33,58.75 102.5,58.8 105,58.5 C107.5,58.2 110,57.63 112,57 C114,56.37 115.67,55.7 117,54.7 C118.33,53.7 119.08,52.15 120,51 C120.92,49.85 121.67,48.63 122.5,47.8 C123.33,46.97 124.08,46.52 125,46 C125.92,45.48 127,45.7 128,44.7 C129,43.7 130,42.28 131,40 C132,37.72 133,34 134,31 C135,28 136.12,24.28 137,22 C137.88,19.72 138.47,17.8 139.3,17.3 C140.13,16.8 141.05,18.05 142,19 C142.95,19.95 143.68,21 145,23 C146.32,25 148.23,28.67 149.9,31 C151.57,33.33 153.18,35.02 155,37 C156.82,38.98 158.3,40.98 160.8,42.9 C163.3,44.82 166.8,46.68 170,48.5 C173.2,50.32 176.13,52.45 180,53.8 C183.87,55.15 188.2,55.9 193.2,56.6 C198.2,57.3 203.87,57.67 210,58 C216.13,58.33 226.67,58.5 230,58.6" fill="none" stroke="#3f70c2" stroke-width="1" stroke-linejoin="round" stroke-linecap="round" />
<path d="M139.9,50.2 C140.75,50.22 143.33,50.33 145,50.3 C146.67,50.27 148.9,51.72 149.9,50 C150.9,48.28 150.7,42.7 151,40 C151.3,37.3 151.28,34.63 151.7,33.8 C152.12,32.97 152.73,34.55 153.5,35 C154.27,35.45 155.38,37.33 156.3,36.5 C157.22,35.67 158.05,32.25 159,30 C159.95,27.75 161.08,25 162,23 C162.92,21 163.78,18.97 164.5,18 C165.22,17.03 165.63,17.03 166.3,17.2 C166.97,17.37 167.58,18.58 168.5,19 C169.42,19.42 170.8,19.67 171.8,19.7 C172.8,19.73 173.63,19.07 174.5,19.2 C175.37,19.33 176.32,20.05 177,20.5 C177.68,20.95 177.57,20.75 178.6,21.9 C179.63,23.05 181.52,25.42 183.2,27.4 C184.88,29.38 187.18,32.8 188.7,33.8 C190.22,34.8 190.33,32.8 192.3,33.4 C194.27,34 196.72,35.97 200.5,37.4 C204.28,38.83 210.13,40.48 215,42 C219.87,43.52 223.6,44.68 229.7,46.5 C235.8,48.32 244.3,51.07 251.6,52.9 C258.9,54.73 266.8,56.65 273.5,57.5 C280.2,58.35 287.55,57.92 291.8,58 C296.05,58.08 297.8,58 299,58" fill="none" stroke="#2fb3ad" stroke-width="1" stroke-linejoin="round" stroke-linecap="round" />
<ellipse cx="85.2" cy="38.3" rx="3.8" ry="9.8" fill="none" stroke="#9a8c8c" stroke-width="0.8" stroke-dasharray="2.2,1.6"/>
<line x1="81.5" y1="38.3" x2="70.5" y2="38.3" stroke="#6b5555" stroke-width="1.3" />
<path d="M66.5,38.3 L72,36.1 L72,40.5 Z" fill="#2a1616"/>
<g>
<path d="M148.2,109.4 C148.5,109 149.37,108.57 150,107 C150.63,105.43 151.17,102.5 152,100 C152.83,97.5 154,94.25 155,92 C156,89.75 156.83,88.08 158,86.5 C159.17,84.92 160.67,83.5 162,82.5 C163.33,81.5 164.67,81.08 166,80.5 C167.33,79.92 168.5,79.58 170,79 C171.5,78.42 173.33,77.63 175,77 C176.67,76.37 178.33,75.82 180,75.2 C181.67,74.58 183.5,74.07 185,73.3 C186.5,72.53 187.67,71.25 189,70.6 C190.33,69.95 191.67,69.57 193,69.4 C194.33,69.23 195.67,69.33 197,69.6 C198.33,69.87 199.67,70.35 201,71 C202.33,71.65 203.67,72.62 205,73.5 C206.33,74.38 207.67,75.45 209,76.3 C210.33,77.15 211.5,77.32 213,78.6 C214.5,79.88 216.17,82.02 218,84 C219.83,85.98 222,88.62 224,90.5 C226,92.38 228,93.97 230,95.3 C232,96.63 233.83,97.38 236,98.5 C238.17,99.62 240.67,101 243,102 C245.33,103 247.5,103.83 250,104.5 C252.5,105.17 255,105.5 258,106 C261,106.5 264.33,107.1 268,107.5 C271.67,107.9 274.83,108.17 280,108.4 C285.17,108.63 295.83,108.82 299,108.9 L299,109.6 L148.2,109.6 Z" fill="url(#ga2)" stroke="none"/>
</g>
<path d="M55.6,97 C55.83,95.83 56.5,92.13 57,90 C57.5,87.87 58.02,86.37 58.6,84.2 C59.18,82.03 59.73,78.98 60.5,77 C61.27,75.02 62.28,73.23 63.2,72.3 C64.12,71.37 65.2,71.7 66,71.4 C66.8,71.1 67.25,70.8 68,70.5 C68.75,70.2 69.83,69.52 70.5,69.6 C71.17,69.68 71.55,70.4 72,71 C72.45,71.6 72.7,72.2 73.2,73.2 C73.7,74.2 74.38,75.78 75,77 C75.62,78.22 76.23,79.33 76.9,80.5 C77.57,81.67 78.23,82.93 79,84 C79.77,85.07 80.67,85.98 81.5,86.9 C82.33,87.82 82.95,88.28 84,89.5 C85.05,90.72 86.72,92.7 87.8,94.2 C88.88,95.7 89.58,96.97 90.5,98.5 C91.42,100.03 92.38,101.98 93.3,103.4 C94.22,104.82 95.08,106.1 96,107 C96.92,107.9 97.97,108.38 98.8,108.8 C99.63,109.22 100.63,109.38 101,109.5" fill="none" stroke="#1e1e1e" stroke-width="1" stroke-linejoin="round" stroke-linecap="round" />
<path d="M91.5,109.5 C91.92,108.58 93.33,106.92 94,104 C94.67,101.08 95,95.6 95.5,92 C96,88.4 96.3,84.15 97,82.4 C97.7,80.65 98.95,82.57 99.7,81.5 C100.45,80.43 100.95,77.75 101.5,76 C102.05,74.25 102.53,72.13 103,71 C103.47,69.87 103.88,68.7 104.3,69.2 C104.72,69.7 105.13,72.2 105.5,74 C105.87,75.8 106.1,78.3 106.5,80 C106.9,81.7 107.4,83.2 107.9,84.2 C108.4,85.2 108.88,85.4 109.5,86 C110.12,86.6 110.85,86.8 111.6,87.8 C112.35,88.8 113.1,90.47 114,92 C114.9,93.53 116,95.58 117,97 C118,98.42 118.78,99.28 120,100.5 C121.22,101.72 122.63,103.18 124.3,104.3 C125.97,105.42 128.17,106.45 130,107.2 C131.83,107.95 131.97,108.42 135.3,108.8 C138.63,109.18 147.55,109.38 150,109.5" fill="none" stroke="#1e1e1e" stroke-width="1" stroke-linejoin="round" stroke-linecap="round" />
<path d="M97,109.8 C98.33,109.75 101.97,109.82 105,109.5 C108.03,109.18 113.03,108.98 115.2,107.9 C117.37,106.82 117.2,104.65 118,103 C118.8,101.35 119.25,99.92 120,98 C120.75,96.08 121.67,94 122.5,91.5 C123.33,89 124.25,85.42 125,83 C125.75,80.58 126.43,78.42 127,77 C127.57,75.58 127.9,74.58 128.4,74.5 C128.9,74.42 129.4,75.25 130,76.5 C130.6,77.75 131.12,79.5 132,82 C132.88,84.5 134.3,88.92 135.3,91.5 C136.3,94.08 137.08,95.68 138,97.5 C138.92,99.32 139.88,100.98 140.8,102.4 C141.72,103.82 142.6,105.02 143.5,106 C144.4,106.98 145.37,107.83 146.2,108.3 C147.03,108.77 147.7,109.18 148.5,108.8 C149.3,108.42 150.08,107.97 151,106 C151.92,104.03 152.83,99.58 154,97 C155.17,94.42 156.67,92.17 158,90.5 C159.33,88.83 160.67,87.92 162,87 C163.33,86.08 164.67,85.58 166,85 C167.33,84.42 168.67,84 170,83.5 C171.33,83 172.67,82.75 174,82 C175.33,81.25 176.67,80 178,79 C179.33,78 180.67,76.97 182,76 C183.33,75.03 184.67,74.12 186,73.2 C187.33,72.28 188.67,71.1 190,70.5 C191.33,69.9 192.67,69.65 194,69.6 C195.33,69.55 196.67,69.72 198,70.2 C199.33,70.68 200.67,71.53 202,72.5 C203.33,73.47 204.67,74.83 206,76 C207.33,77.17 208.5,78.08 210,79.5 C211.5,80.92 213.33,82.83 215,84.5 C216.67,86.17 218.17,87.83 220,89.5 C221.83,91.17 224.17,93.08 226,94.5 C227.83,95.92 229.17,96.67 231,98 C232.83,99.33 234.75,100.92 237,102.5 C239.25,104.08 242,106.37 244.5,107.5 C247,108.63 250.75,109 252,109.3" fill="none" stroke="#3f70c2" stroke-width="1" stroke-linejoin="round" stroke-linecap="round" />
<path d="M140.8,104.3 C141.33,104.3 142.72,104.35 144,104.3 C145.28,104.25 147.45,105.22 148.5,104 C149.55,102.78 149.72,99.5 150.3,97 C150.88,94.5 151.22,90.77 152,89 C152.78,87.23 154,87.9 155,86.4 C156,84.9 157,81.65 158,80 C159,78.35 160,77.83 161,76.5 C162,75.17 163.17,73.12 164,72 C164.83,70.88 165.33,70.08 166,69.8 C166.67,69.52 167.33,70.27 168,70.3 C168.67,70.33 169.17,70.18 170,70 C170.83,69.82 172.17,69.38 173,69.2 C173.83,69.02 174.17,68.27 175,68.9 C175.83,69.53 177,71.48 178,73 C179,74.52 179.83,76.5 181,78 C182.17,79.5 183.5,80.75 185,82 C186.5,83.25 188.33,84.58 190,85.5 C191.67,86.42 193.33,86.92 195,87.5 C196.67,88.08 197.5,88.1 200,89 C202.5,89.9 206.33,91.65 210,92.9 C213.67,94.15 218.08,95.22 222,96.5 C225.92,97.78 229.67,99.43 233.5,100.6 C237.33,101.77 241.12,102.62 245,103.5 C248.88,104.38 252.97,105.18 256.8,105.9 C260.63,106.62 264.13,107.25 268,107.8 C271.87,108.35 274.83,108.92 280,109.2 C285.17,109.48 295.83,109.45 299,109.5" fill="none" stroke="#2fb3ad" stroke-width="1" stroke-linejoin="round" stroke-linecap="round" />
<path d="M148.2,109.4 C148.5,109 149.37,108.57 150,107 C150.63,105.43 151.17,102.5 152,100 C152.83,97.5 154,94.25 155,92 C156,89.75 156.83,88.08 158,86.5 C159.17,84.92 160.67,83.5 162,82.5 C163.33,81.5 164.67,81.08 166,80.5 C167.33,79.92 168.5,79.58 170,79 C171.5,78.42 173.33,77.63 175,77 C176.67,76.37 178.33,75.82 180,75.2 C181.67,74.58 183.5,74.07 185,73.3 C186.5,72.53 187.67,71.25 189,70.6 C190.33,69.95 191.67,69.57 193,69.4 C194.33,69.23 195.67,69.33 197,69.6 C198.33,69.87 199.67,70.35 201,71 C202.33,71.65 203.67,72.62 205,73.5 C206.33,74.38 207.67,75.45 209,76.3 C210.33,77.15 211.5,77.32 213,78.6 C214.5,79.88 216.17,82.02 218,84 C219.83,85.98 222,88.62 224,90.5 C226,92.38 228,93.97 230,95.3 C232,96.63 233.83,97.38 236,98.5 C238.17,99.62 240.67,101 243,102 C245.33,103 247.5,103.83 250,104.5 C252.5,105.17 255,105.5 258,106 C261,106.5 264.33,107.1 268,107.5 C271.67,107.9 274.83,108.17 280,108.4 C285.17,108.63 295.83,108.82 299,108.9" fill="none" stroke="#f3a540" stroke-width="1" stroke-linejoin="round" stroke-linecap="round" />
<ellipse cx="85.4" cy="87" rx="3.8" ry="9.8" fill="none" stroke="#9a8c8c" stroke-width="0.8" stroke-dasharray="2.2,1.6"/>
<line x1="81.5" y1="86.9" x2="70.5" y2="86.9" stroke="#6b5555" stroke-width="1.3" />
<path d="M66.5,86.9 L72,84.7 L72,89.1 Z" fill="#2a1616"/>
<path d="M149.9,160.8 C152.42,160.73 160.82,160.53 165,160.4 C169.18,160.27 171.67,160.15 175,160 C178.33,159.85 182.27,159.67 185,159.5 C187.73,159.33 189.98,159.75 191.4,159 C192.82,158.25 192.82,156.5 193.5,155 C194.18,153.5 194.88,151.52 195.5,150 C196.12,148.48 196.53,147.73 197.2,145.9 C197.87,144.07 198.72,141.15 199.5,139 C200.28,136.85 201.07,134.5 201.9,133 C202.73,131.5 203.52,130.77 204.5,130 C205.48,129.23 206.72,128.82 207.8,128.4 C208.88,127.98 209.83,127.9 211,127.5 C212.17,127.1 213.63,126.58 214.8,126 C215.97,125.42 217.05,124.75 218,124 C218.95,123.25 219.68,122.13 220.5,121.5 C221.32,120.87 222.15,120.42 222.9,120.2 C223.65,119.98 224.22,120 225,120.2 C225.78,120.4 226.68,120.77 227.6,121.4 C228.52,122.03 229.52,123.03 230.5,124 C231.48,124.97 232.25,126.28 233.5,127.2 C234.75,128.12 236.45,128.72 238,129.5 C239.55,130.28 241.3,131.15 242.8,131.9 C244.3,132.65 245.45,133.23 247,134 C248.55,134.77 250.27,135.5 252.1,136.5 C253.93,137.5 256.05,138.82 258,140 C259.95,141.18 261.47,142.35 263.8,143.6 C266.13,144.85 269.27,146.33 272,147.5 C274.73,148.67 277.2,149.68 280.2,150.6 C283.2,151.52 286.87,152.23 290,153 C293.13,153.77 297.5,154.83 299,155.2 L299,161 L149.9,161 Z" fill="url(#oa3)" stroke="none"/>
<path d="M55.6,151.5 C55.83,150.25 56.5,146.43 57,144 C57.5,141.57 58.02,139.07 58.6,136.9 C59.18,134.73 59.88,132.82 60.5,131 C61.12,129.18 61.63,127.33 62.3,126 C62.97,124.67 63.73,123.77 64.5,123 C65.27,122.23 66.23,121.68 66.9,121.4 C67.57,121.12 67.9,121.15 68.5,121.3 C69.1,121.45 69.92,121.77 70.5,122.3 C71.08,122.83 71.55,123.73 72,124.5 C72.45,125.27 72.7,125.9 73.2,126.9 C73.7,127.9 74.38,129.28 75,130.5 C75.62,131.72 76.23,133.28 76.9,134.2 C77.57,135.12 78.23,135.55 79,136 C79.77,136.45 80.75,136.73 81.5,136.9 C82.25,137.07 82.75,136.85 83.5,137 C84.25,137.15 85.25,137.13 86,137.8 C86.75,138.47 87.23,139.63 88,141 C88.77,142.37 89.85,144.83 90.6,146 C91.35,147.17 91.9,147.53 92.5,148 C93.1,148.47 93.7,147.97 94.2,148.8 C94.7,149.63 95.03,151.18 95.5,153 C95.97,154.82 96.5,158.45 97,159.7 C97.5,160.95 98.25,160.37 98.5,160.5" fill="none" stroke="#1e1e1e" stroke-width="1" stroke-linejoin="round" stroke-linecap="round" />
<path d="M93.3,160.5 C93.58,159.75 94.47,158.58 95,156 C95.53,153.42 96.02,148.18 96.5,145 C96.98,141.82 97.22,138.55 97.9,136.9 C98.58,135.25 99.83,136.58 100.6,135.1 C101.37,133.62 101.88,130.43 102.5,128 C103.12,125.57 103.75,120.67 104.3,120.5 C104.85,120.33 105.2,124.27 105.8,127 C106.4,129.73 107.2,134.73 107.9,136.9 C108.6,139.07 109.23,139.08 110,140 C110.77,140.92 111.67,141.23 112.5,142.4 C113.33,143.57 114.08,145.33 115,147 C115.92,148.67 116.83,151.15 118,152.4 C119.17,153.65 120.33,153.88 122,154.5 C123.67,155.12 126,155.6 128,156.1 C130,156.6 131.87,157.05 134,157.5 C136.13,157.95 138.15,158.35 140.8,158.8 C143.45,159.25 146.7,159.92 149.9,160.2 C153.1,160.48 158.32,160.45 160,160.5" fill="none" stroke="#1e1e1e" stroke-width="1" stroke-linejoin="round" stroke-linecap="round" />
<path d="M97,160.8 C98.33,160.75 101.97,160.83 105,160.5 C108.03,160.17 113.03,159.72 115.2,158.8 C117.37,157.88 117.08,156.37 118,155 C118.92,153.63 119.87,152.77 120.7,150.6 C121.53,148.43 122.23,144.73 123,142 C123.77,139.27 124.55,136.2 125.3,134.2 C126.05,132.2 126.75,131.07 127.5,130 C128.25,128.93 129.05,128.8 129.8,127.8 C130.55,126.8 131.23,125.22 132,124 C132.77,122.78 133.65,121 134.4,120.5 C135.15,120 135.75,120.7 136.5,121 C137.25,121.3 138.07,121.47 138.9,122.3 C139.73,123.13 140.58,124.32 141.5,126 C142.42,127.68 143.48,130.57 144.4,132.4 C145.32,134.23 146.08,135.48 147,137 C147.92,138.52 148.9,140 149.9,141.5 C150.9,143 151.78,144.48 153,146 C154.22,147.52 155.7,149.35 157.2,150.6 C158.7,151.85 160.18,152.63 162,153.5 C163.82,154.37 165.93,155.28 168.1,155.8 C170.27,156.32 172.68,156.3 175,156.6 C177.32,156.9 179.27,157.32 182,157.6 C184.73,157.88 188.67,158.25 191.4,158.3 C194.13,158.35 193.63,157.85 198.4,157.9 C203.17,157.95 211.82,158.27 220,158.6 C228.18,158.93 240.83,159.62 247.5,159.9 C254.17,160.18 257.92,160.23 260,160.3" fill="none" stroke="#3f70c2" stroke-width="1" stroke-linejoin="round" stroke-linecap="round" />
<path d="M140.8,156.1 C141.5,156.17 143.48,156.35 145,156.5 C146.52,156.65 148.32,157.37 149.9,157 C151.48,156.63 153.4,156.13 154.5,154.3 C155.6,152.47 155.8,149.15 156.5,146 C157.2,142.85 157.95,138.07 158.7,135.4 C159.45,132.73 160.22,131.57 161,130 C161.78,128.43 162.57,127.08 163.4,126 C164.23,124.92 165.07,124.25 166,123.5 C166.93,122.75 167.88,122.05 169,121.5 C170.12,120.95 171.53,120.28 172.7,120.2 C173.87,120.12 174.63,120.62 176,121 C177.37,121.38 179.4,121.75 180.9,122.5 C182.4,123.25 183.25,124.13 185,125.5 C186.75,126.87 189.4,129.03 191.4,130.7 C193.4,132.37 195.05,133.95 197,135.5 C198.95,137.05 200.93,138.67 203.1,140 C205.27,141.33 207.28,142.13 210,143.5 C212.72,144.87 215.73,146.87 219.4,148.2 C223.07,149.53 227.72,150.53 232,151.5 C236.28,152.47 240.77,153.17 245.1,154 C249.43,154.83 253.72,155.78 258,156.5 C262.28,157.22 266.3,157.88 270.8,158.3 C275.3,158.72 280.3,158.85 285,159 C289.7,159.15 296.67,159.17 299,159.2" fill="none" stroke="#2fb3ad" stroke-width="1" stroke-linejoin="round" stroke-linecap="round" />
<path d="M149.9,160.8 C152.42,160.73 160.82,160.53 165,160.4 C169.18,160.27 171.67,160.15 175,160 C178.33,159.85 182.27,159.67 185,159.5 C187.73,159.33 189.98,159.75 191.4,159 C192.82,158.25 192.82,156.5 193.5,155 C194.18,153.5 194.88,151.52 195.5,150 C196.12,148.48 196.53,147.73 197.2,145.9 C197.87,144.07 198.72,141.15 199.5,139 C200.28,136.85 201.07,134.5 201.9,133 C202.73,131.5 203.52,130.77 204.5,130 C205.48,129.23 206.72,128.82 207.8,128.4 C208.88,127.98 209.83,127.9 211,127.5 C212.17,127.1 213.63,126.58 214.8,126 C215.97,125.42 217.05,124.75 218,124 C218.95,123.25 219.68,122.13 220.5,121.5 C221.32,120.87 222.15,120.42 222.9,120.2 C223.65,119.98 224.22,120 225,120.2 C225.78,120.4 226.68,120.77 227.6,121.4 C228.52,122.03 229.52,123.03 230.5,124 C231.48,124.97 232.25,126.28 233.5,127.2 C234.75,128.12 236.45,128.72 238,129.5 C239.55,130.28 241.3,131.15 242.8,131.9 C244.3,132.65 245.45,133.23 247,134 C248.55,134.77 250.27,135.5 252.1,136.5 C253.93,137.5 256.05,138.82 258,140 C259.95,141.18 261.47,142.35 263.8,143.6 C266.13,144.85 269.27,146.33 272,147.5 C274.73,148.67 277.2,149.68 280.2,150.6 C283.2,151.52 286.87,152.23 290,153 C293.13,153.77 297.5,154.83 299,155.2" fill="none" stroke="#f3a540" stroke-width="1" stroke-linejoin="round" stroke-linecap="round" />
<ellipse cx="84.9" cy="139.7" rx="3.8" ry="9.8" fill="none" stroke="#9a8c8c" stroke-width="0.8" stroke-dasharray="2.2,1.6"/>
<line x1="81.5" y1="139.7" x2="70.5" y2="139.7" stroke="#6b5555" stroke-width="1.3" />
<path d="M66.5,139.7 L72,137.5 L72,141.9 Z" fill="#2a1616"/>
<path d="M186.7,208.9 C187.25,208.72 188.83,208.27 190,207.8 C191.17,207.33 192.7,207.23 193.7,206.1 C194.7,204.97 195.22,202.95 196,201 C196.78,199.05 197.65,196.73 198.4,194.4 C199.15,192.07 199.72,189.33 200.5,187 C201.28,184.67 202.27,181.98 203.1,180.4 C203.93,178.82 204.53,178.28 205.5,177.5 C206.47,176.72 207.65,176.12 208.9,175.7 C210.15,175.28 211.63,175.2 213,175 C214.37,174.8 215.6,174.78 217.1,174.5 C218.6,174.22 220.45,173.68 222,173.3 C223.55,172.92 225.23,172.17 226.4,172.2 C227.57,172.23 228.22,172.92 229,173.5 C229.78,174.08 230.18,174.95 231.1,175.7 C232.02,176.45 233.33,177.22 234.5,178 C235.67,178.78 236.68,179.48 238.1,180.4 C239.52,181.32 241.43,182.53 243,183.5 C244.57,184.47 246,185.45 247.5,186.2 C249,186.95 250.45,187.42 252,188 C253.55,188.58 254.97,188.78 256.8,189.7 C258.63,190.62 260.67,192.13 263,193.5 C265.33,194.87 268.3,196.85 270.8,197.9 C273.3,198.95 275.65,199.22 278,199.8 C280.35,200.38 283.23,200.87 284.9,201.4 C286.57,201.93 286.83,202.42 288,203 C289.17,203.58 290.73,204.65 291.9,204.9 C293.07,205.15 293.82,204.5 295,204.5 C296.18,204.5 298.33,204.83 299,204.9 L299,212.8 L186.7,212.8 Z" fill="url(#oa4)" stroke="none"/>
<path d="M55.6,201.7 C55.83,200.58 56.5,197.13 57,195 C57.5,192.87 58.02,191.07 58.6,188.9 C59.18,186.73 59.88,183.97 60.5,182 C61.12,180.03 61.72,178.18 62.3,177.1 C62.88,176.02 63.38,175.97 64,175.5 C64.62,175.03 65.33,174.63 66,174.3 C66.67,173.97 67.4,173.8 68,173.5 C68.6,173.2 69.1,172.25 69.6,172.5 C70.1,172.75 70.55,173.63 71,175 C71.45,176.37 71.8,179.37 72.3,180.7 C72.8,182.03 73.38,182.38 74,183 C74.62,183.62 75.33,184.23 76,184.4 C76.67,184.57 77.4,184 78,184 C78.6,184 78.93,184.15 79.6,184.4 C80.27,184.65 81.27,185.18 82,185.5 C82.73,185.82 83.33,186.03 84,186.3 C84.67,186.57 85.33,186.4 86,187.1 C86.67,187.8 87.23,189.13 88,190.5 C88.77,191.87 89.85,193.88 90.6,195.3 C91.35,196.72 91.9,197.93 92.5,199 C93.1,200.07 93.7,200.53 94.2,201.7 C94.7,202.87 95.03,204.33 95.5,206 C95.97,207.67 96.5,210.62 97,211.7 C97.5,212.78 98.25,212.37 98.5,212.5" fill="none" stroke="#1e1e1e" stroke-width="1" stroke-linejoin="round" stroke-linecap="round" />
<path d="M94.2,212.5 C94.42,211.25 95.12,207.92 95.5,205 C95.88,202.08 96.1,198.13 96.5,195 C96.9,191.87 97.22,187.97 97.9,186.2 C98.58,184.43 99.83,185.93 100.6,184.4 C101.37,182.87 101.88,179.13 102.5,177 C103.12,174.87 103.75,171.43 104.3,171.6 C104.85,171.77 105.2,175.12 105.8,178 C106.4,180.88 107.2,186.65 107.9,188.9 C108.6,191.15 109.23,190.73 110,191.5 C110.77,192.27 111.67,192.42 112.5,193.5 C113.33,194.58 114.25,196.63 115,198 C115.75,199.37 116.17,200.73 117,201.7 C117.83,202.67 118.78,203.18 120,203.8 C121.22,204.42 122.63,204.73 124.3,205.4 C125.97,206.07 127.87,207.05 130,207.8 C132.13,208.55 134.4,209.25 137.1,209.9 C139.8,210.55 143.22,211.27 146.2,211.7 C149.18,212.13 153.53,212.37 155,212.5" fill="none" stroke="#1e1e1e" stroke-width="1" stroke-linejoin="round" stroke-linecap="round" />
<path d="M97,212.8 C98.33,212.75 101.97,212.83 105,212.5 C108.03,212.17 113.03,211.8 115.2,210.8 C117.37,209.8 117.08,207.87 118,206.5 C118.92,205.13 119.78,204.52 120.7,202.6 C121.62,200.68 122.58,197.58 123.5,195 C124.42,192.42 125.45,188.63 126.2,187.1 C126.95,185.57 127.4,186.1 128,185.8 C128.6,185.5 129.13,185.35 129.8,185.3 C130.47,185.25 131.23,185.5 132,185.5 C132.77,185.5 133.57,186.05 134.4,185.3 C135.23,184.55 136.15,182.72 137,181 C137.85,179.28 138.72,176.57 139.5,175 C140.28,173.43 140.87,171.68 141.7,171.6 C142.53,171.52 143.43,172.98 144.5,174.5 C145.57,176.02 146.93,178.62 148.1,180.7 C149.27,182.78 150.28,184.87 151.5,187 C152.72,189.13 153.98,191.67 155.4,193.5 C156.82,195.33 158.48,196.63 160,198 C161.52,199.37 162.77,200.72 164.5,201.7 C166.23,202.68 168.15,203.22 170.4,203.9 C172.65,204.58 175.28,205.25 178,205.8 C180.72,206.35 181.35,206.57 186.7,207.2 C192.05,207.83 201.53,208.82 210.1,209.6 C218.67,210.38 231.45,211.45 238.1,211.9 C244.75,212.35 248.02,212.23 250,212.3" fill="none" stroke="#3f70c2" stroke-width="1" stroke-linejoin="round" stroke-linecap="round" />
<path d="M139.9,206.3 C140.58,206.37 142.63,206.55 144,206.7 C145.37,206.85 147.22,207.23 148.1,207.2 C148.98,207.17 148.7,206.95 149.3,206.5 C149.9,206.05 150.92,205.15 151.7,204.5 C152.48,203.85 153.28,204.02 154,202.6 C154.72,201.18 155.22,198.15 156,196 C156.78,193.85 157.78,191.7 158.7,189.7 C159.62,187.7 160.53,185.75 161.5,184 C162.47,182.25 163.42,180.62 164.5,179.2 C165.58,177.78 166.78,176.67 168,175.5 C169.22,174.33 170.8,172.72 171.8,172.2 C172.8,171.68 173.13,172.1 174,172.4 C174.87,172.7 175.85,173.45 177,174 C178.15,174.55 179.57,174.87 180.9,175.7 C182.23,176.53 183.65,177.83 185,179 C186.35,180.17 187.58,181.78 189,182.7 C190.42,183.62 191.93,183.92 193.5,184.5 C195.07,185.08 196.32,185.45 198.4,186.2 C200.48,186.95 203.27,188.03 206,189 C208.73,189.97 211.47,190.83 214.8,192 C218.13,193.17 222.12,194.63 226,196 C229.88,197.37 234.1,198.95 238.1,200.2 C242.1,201.45 246.1,202.45 250,203.5 C253.9,204.55 257.67,205.58 261.5,206.5 C265.33,207.42 269.1,208.22 273,209 C276.9,209.78 280.57,210.6 284.9,211.2 C289.23,211.8 296.65,212.37 299,212.6" fill="none" stroke="#2fb3ad" stroke-width="1" stroke-linejoin="round" stroke-linecap="round" />
<path d="M149.3,212.7 C151.08,212.58 156.55,212.28 160,212 C163.45,211.72 166.67,211.37 170,211 C173.33,210.63 177.22,210.15 180,209.8 C182.78,209.45 185.03,209.23 186.7,208.9 C188.37,208.57 188.83,208.27 190,207.8 C191.17,207.33 192.7,207.23 193.7,206.1 C194.7,204.97 195.22,202.95 196,201 C196.78,199.05 197.65,196.73 198.4,194.4 C199.15,192.07 199.72,189.33 200.5,187 C201.28,184.67 202.27,181.98 203.1,180.4 C203.93,178.82 204.53,178.28 205.5,177.5 C206.47,176.72 207.65,176.12 208.9,175.7 C210.15,175.28 211.63,175.2 213,175 C214.37,174.8 215.6,174.78 217.1,174.5 C218.6,174.22 220.45,173.68 222,173.3 C223.55,172.92 225.23,172.17 226.4,172.2 C227.57,172.23 228.22,172.92 229,173.5 C229.78,174.08 230.18,174.95 231.1,175.7 C232.02,176.45 233.33,177.22 234.5,178 C235.67,178.78 236.68,179.48 238.1,180.4 C239.52,181.32 241.43,182.53 243,183.5 C244.57,184.47 246,185.45 247.5,186.2 C249,186.95 250.45,187.42 252,188 C253.55,188.58 254.97,188.78 256.8,189.7 C258.63,190.62 260.67,192.13 263,193.5 C265.33,194.87 268.3,196.85 270.8,197.9 C273.3,198.95 275.65,199.22 278,199.8 C280.35,200.38 283.23,200.87 284.9,201.4 C286.57,201.93 286.83,202.42 288,203 C289.17,203.58 290.73,204.65 291.9,204.9 C293.07,205.15 293.82,204.5 295,204.5 C296.18,204.5 298.33,204.83 299,204.9" fill="none" stroke="#f3a540" stroke-width="1" stroke-linejoin="round" stroke-linecap="round" />
<ellipse cx="85.2" cy="189" rx="3.8" ry="9.8" fill="none" stroke="#9a8c8c" stroke-width="0.8" stroke-dasharray="2.2,1.6"/>
<line x1="81.5" y1="188.9" x2="70.5" y2="188.9" stroke="#6b5555" stroke-width="1.3" />
<path d="M66.5,188.9 L72,186.7 L72,191.1 Z" fill="#2a1616"/>
<line x1="149.8" y1="59.5" x2="149.8" y2="213" stroke="#f6bf80" stroke-width="1.2" stroke-dasharray="3,2"/>
<line x1="191.4" y1="110.5" x2="191.4" y2="213" stroke="#f6bf80" stroke-width="1.2" stroke-dasharray="3,2"/>
<rect x="55.6" y="0.5" width="243.4" height="212.7" fill="none" stroke="#555555" stroke-width="1.1"/>
<line x1="55.6" y1="59" x2="299" y2="59" stroke="#555555" stroke-width="1.1" />
<line x1="55.6" y1="110.3" x2="299" y2="110.3" stroke="#555555" stroke-width="1.1" />
<line x1="55.6" y1="161.6" x2="299" y2="161.6" stroke="#555555" stroke-width="1.1" />
<line x1="55.6" y1="59" x2="58.6" y2="59" stroke="#555555" stroke-width="1" />
<line x1="299" y1="59" x2="296" y2="59" stroke="#555555" stroke-width="1" />
<line x1="55.6" y1="48.67" x2="57.6" y2="48.67" stroke="#555555" stroke-width="1" />
<line x1="299" y1="48.67" x2="297" y2="48.67" stroke="#555555" stroke-width="1" />
<line x1="55.6" y1="38.35" x2="58.6" y2="38.35" stroke="#555555" stroke-width="1" />
<line x1="299" y1="38.35" x2="296" y2="38.35" stroke="#555555" stroke-width="1" />
<line x1="55.6" y1="28.03" x2="57.6" y2="28.03" stroke="#555555" stroke-width="1" />
<line x1="299" y1="28.03" x2="297" y2="28.03" stroke="#555555" stroke-width="1" />
<line x1="55.6" y1="17.7" x2="58.6" y2="17.7" stroke="#555555" stroke-width="1" />
<line x1="299" y1="17.7" x2="296" y2="17.7" stroke="#555555" stroke-width="1" />
<line x1="95.3" y1="59" x2="95.3" y2="55.5" stroke="#555555" stroke-width="1" />
<line x1="146.4" y1="59" x2="146.4" y2="55.5" stroke="#555555" stroke-width="1" />
<line x1="197.5" y1="59" x2="197.5" y2="55.5" stroke="#555555" stroke-width="1" />
<line x1="248.6" y1="59" x2="248.6" y2="55.5" stroke="#555555" stroke-width="1" />
<line x1="69.75" y1="59" x2="69.75" y2="56.8" stroke="#555555" stroke-width="1" />
<line x1="120.85" y1="59" x2="120.85" y2="56.8" stroke="#555555" stroke-width="1" />
<line x1="171.95" y1="59" x2="171.95" y2="56.8" stroke="#555555" stroke-width="1" />
<line x1="223.05" y1="59" x2="223.05" y2="56.8" stroke="#555555" stroke-width="1" />
<line x1="274.15" y1="59" x2="274.15" y2="56.8" stroke="#555555" stroke-width="1" />
<text x="52.4" y="61.3" font-size="10.9" fill="#231f20" stroke="#231f20" stroke-width="0.22" text-anchor="end" >0.0</text>
<text x="302.2" y="61.3" font-size="10.9" fill="#231f20" stroke="#231f20" stroke-width="0.22" text-anchor="start" >0.0</text>
<text x="52.4" y="40.9" font-size="10.9" fill="#231f20" stroke="#231f20" stroke-width="0.22" text-anchor="end" >0.5</text>
<text x="302.2" y="40.9" font-size="10.9" fill="#231f20" stroke="#231f20" stroke-width="0.22" text-anchor="start" >0.5</text>
<text x="52.4" y="21.2" font-size="10.9" fill="#231f20" stroke="#231f20" stroke-width="0.22" text-anchor="end" >1.0</text>
<text x="302.2" y="21.2" font-size="10.9" fill="#231f20" stroke="#231f20" stroke-width="0.22" text-anchor="start" >1.0</text>
<line x1="55.6" y1="110.3" x2="58.6" y2="110.3" stroke="#555555" stroke-width="1" />
<line x1="299" y1="110.3" x2="296" y2="110.3" stroke="#555555" stroke-width="1" />
<line x1="55.6" y1="99.97" x2="57.6" y2="99.97" stroke="#555555" stroke-width="1" />
<line x1="299" y1="99.97" x2="297" y2="99.97" stroke="#555555" stroke-width="1" />
<line x1="55.6" y1="89.65" x2="58.6" y2="89.65" stroke="#555555" stroke-width="1" />
<line x1="299" y1="89.65" x2="296" y2="89.65" stroke="#555555" stroke-width="1" />
<line x1="55.6" y1="79.33" x2="57.6" y2="79.33" stroke="#555555" stroke-width="1" />
<line x1="299" y1="79.33" x2="297" y2="79.33" stroke="#555555" stroke-width="1" />
<line x1="55.6" y1="69" x2="58.6" y2="69" stroke="#555555" stroke-width="1" />
<line x1="299" y1="69" x2="296" y2="69" stroke="#555555" stroke-width="1" />
<line x1="95.3" y1="110.3" x2="95.3" y2="106.8" stroke="#555555" stroke-width="1" />
<line x1="146.4" y1="110.3" x2="146.4" y2="106.8" stroke="#555555" stroke-width="1" />
<line x1="197.5" y1="110.3" x2="197.5" y2="106.8" stroke="#555555" stroke-width="1" />
<line x1="248.6" y1="110.3" x2="248.6" y2="106.8" stroke="#555555" stroke-width="1" />
<line x1="69.75" y1="110.3" x2="69.75" y2="108.1" stroke="#555555" stroke-width="1" />
<line x1="120.85" y1="110.3" x2="120.85" y2="108.1" stroke="#555555" stroke-width="1" />
<line x1="171.95" y1="110.3" x2="171.95" y2="108.1" stroke="#555555" stroke-width="1" />
<line x1="223.05" y1="110.3" x2="223.05" y2="108.1" stroke="#555555" stroke-width="1" />
<line x1="274.15" y1="110.3" x2="274.15" y2="108.1" stroke="#555555" stroke-width="1" />
<text x="52.4" y="112.6" font-size="10.9" fill="#231f20" stroke="#231f20" stroke-width="0.22" text-anchor="end" >0.0</text>
<text x="302.2" y="112.6" font-size="10.9" fill="#231f20" stroke="#231f20" stroke-width="0.22" text-anchor="start" >0.0</text>
<text x="52.4" y="92.2" font-size="10.9" fill="#231f20" stroke="#231f20" stroke-width="0.22" text-anchor="end" >0.5</text>
<text x="302.2" y="92.2" font-size="10.9" fill="#231f20" stroke="#231f20" stroke-width="0.22" text-anchor="start" >0.5</text>
<text x="52.4" y="72.5" font-size="10.9" fill="#231f20" stroke="#231f20" stroke-width="0.22" text-anchor="end" >1.0</text>
<text x="302.2" y="72.5" font-size="10.9" fill="#231f20" stroke="#231f20" stroke-width="0.22" text-anchor="start" >1.0</text>
<line x1="55.6" y1="161.6" x2="58.6" y2="161.6" stroke="#555555" stroke-width="1" />
<line x1="299" y1="161.6" x2="296" y2="161.6" stroke="#555555" stroke-width="1" />
<line x1="55.6" y1="151.28" x2="57.6" y2="151.28" stroke="#555555" stroke-width="1" />
<line x1="299" y1="151.28" x2="297" y2="151.28" stroke="#555555" stroke-width="1" />
<line x1="55.6" y1="140.95" x2="58.6" y2="140.95" stroke="#555555" stroke-width="1" />
<line x1="299" y1="140.95" x2="296" y2="140.95" stroke="#555555" stroke-width="1" />
<line x1="55.6" y1="130.62" x2="57.6" y2="130.62" stroke="#555555" stroke-width="1" />
<line x1="299" y1="130.62" x2="297" y2="130.62" stroke="#555555" stroke-width="1" />
<line x1="55.6" y1="120.3" x2="58.6" y2="120.3" stroke="#555555" stroke-width="1" />
<line x1="299" y1="120.3" x2="296" y2="120.3" stroke="#555555" stroke-width="1" />
<line x1="95.3" y1="161.6" x2="95.3" y2="158.1" stroke="#555555" stroke-width="1" />
<line x1="146.4" y1="161.6" x2="146.4" y2="158.1" stroke="#555555" stroke-width="1" />
<line x1="197.5" y1="161.6" x2="197.5" y2="158.1" stroke="#555555" stroke-width="1" />
<line x1="248.6" y1="161.6" x2="248.6" y2="158.1" stroke="#555555" stroke-width="1" />
<line x1="69.75" y1="161.6" x2="69.75" y2="159.4" stroke="#555555" stroke-width="1" />
<line x1="120.85" y1="161.6" x2="120.85" y2="159.4" stroke="#555555" stroke-width="1" />
<line x1="171.95" y1="161.6" x2="171.95" y2="159.4" stroke="#555555" stroke-width="1" />
<line x1="223.05" y1="161.6" x2="223.05" y2="159.4" stroke="#555555" stroke-width="1" />
<line x1="274.15" y1="161.6" x2="274.15" y2="159.4" stroke="#555555" stroke-width="1" />
<text x="52.4" y="163.9" font-size="10.9" fill="#231f20" stroke="#231f20" stroke-width="0.22" text-anchor="end" >0.0</text>
<text x="302.2" y="163.9" font-size="10.9" fill="#231f20" stroke="#231f20" stroke-width="0.22" text-anchor="start" >0.0</text>
<text x="52.4" y="143.5" font-size="10.9" fill="#231f20" stroke="#231f20" stroke-width="0.22" text-anchor="end" >0.5</text>
<text x="302.2" y="143.5" font-size="10.9" fill="#231f20" stroke="#231f20" stroke-width="0.22" text-anchor="start" >0.5</text>
<text x="52.4" y="123.8" font-size="10.9" fill="#231f20" stroke="#231f20" stroke-width="0.22" text-anchor="end" >1.0</text>
<text x="302.2" y="123.8" font-size="10.9" fill="#231f20" stroke="#231f20" stroke-width="0.22" text-anchor="start" >1.0</text>
<line x1="55.6" y1="213.2" x2="58.6" y2="213.2" stroke="#555555" stroke-width="1" />
<line x1="299" y1="213.2" x2="296" y2="213.2" stroke="#555555" stroke-width="1" />
<line x1="55.6" y1="202.88" x2="57.6" y2="202.88" stroke="#555555" stroke-width="1" />
<line x1="299" y1="202.88" x2="297" y2="202.88" stroke="#555555" stroke-width="1" />
<line x1="55.6" y1="192.55" x2="58.6" y2="192.55" stroke="#555555" stroke-width="1" />
<line x1="299" y1="192.55" x2="296" y2="192.55" stroke="#555555" stroke-width="1" />
<line x1="55.6" y1="182.22" x2="57.6" y2="182.22" stroke="#555555" stroke-width="1" />
<line x1="299" y1="182.22" x2="297" y2="182.22" stroke="#555555" stroke-width="1" />
<line x1="55.6" y1="171.9" x2="58.6" y2="171.9" stroke="#555555" stroke-width="1" />
<line x1="299" y1="171.9" x2="296" y2="171.9" stroke="#555555" stroke-width="1" />
<line x1="95.3" y1="213.2" x2="95.3" y2="209.7" stroke="#555555" stroke-width="1" />
<line x1="146.4" y1="213.2" x2="146.4" y2="209.7" stroke="#555555" stroke-width="1" />
<line x1="197.5" y1="213.2" x2="197.5" y2="209.7" stroke="#555555" stroke-width="1" />
<line x1="248.6" y1="213.2" x2="248.6" y2="209.7" stroke="#555555" stroke-width="1" />
<line x1="69.75" y1="213.2" x2="69.75" y2="211" stroke="#555555" stroke-width="1" />
<line x1="120.85" y1="213.2" x2="120.85" y2="211" stroke="#555555" stroke-width="1" />
<line x1="171.95" y1="213.2" x2="171.95" y2="211" stroke="#555555" stroke-width="1" />
<line x1="223.05" y1="213.2" x2="223.05" y2="211" stroke="#555555" stroke-width="1" />
<line x1="274.15" y1="213.2" x2="274.15" y2="211" stroke="#555555" stroke-width="1" />
<text x="52.4" y="215.5" font-size="10.9" fill="#231f20" stroke="#231f20" stroke-width="0.22" text-anchor="end" >0.0</text>
<text x="302.2" y="215.5" font-size="10.9" fill="#231f20" stroke="#231f20" stroke-width="0.22" text-anchor="start" >0.0</text>
<text x="52.4" y="195.1" font-size="10.9" fill="#231f20" stroke="#231f20" stroke-width="0.22" text-anchor="end" >0.5</text>
<text x="302.2" y="195.1" font-size="10.9" fill="#231f20" stroke="#231f20" stroke-width="0.22" text-anchor="start" >0.5</text>
<text x="52.4" y="175.4" font-size="10.9" fill="#231f20" stroke="#231f20" stroke-width="0.22" text-anchor="end" >1.0</text>
<text x="302.2" y="175.4" font-size="10.9" fill="#231f20" stroke="#231f20" stroke-width="0.22" text-anchor="start" >1.0</text>
<text x="95.3" y="226.2" font-size="10.9" fill="#231f20" stroke="#231f20" stroke-width="0.22" text-anchor="middle" >300</text>
<text x="146.4" y="226.2" font-size="10.9" fill="#231f20" stroke="#231f20" stroke-width="0.22" text-anchor="middle" >400</text>
<text x="197.5" y="226.2" font-size="10.9" fill="#231f20" stroke="#231f20" stroke-width="0.22" text-anchor="middle" >500</text>
<text x="248.6" y="226.2" font-size="10.9" fill="#231f20" stroke="#231f20" stroke-width="0.22" text-anchor="middle" >600</text>
<text x="299.7" y="226.2" font-size="10.9" fill="#231f20" stroke="#231f20" stroke-width="0.22" text-anchor="middle" >700</text>
<text x="181.2" y="241" font-size="12" fill="#231f20" stroke="#231f20" stroke-width="0.22" text-anchor="middle" >Wavelength (nm)</text>
<text x="0" y="0" font-size="12" fill="#231f20" stroke="#231f20" stroke-width="0.22" text-anchor="middle" transform="translate(27.8,110.5) rotate(-90)">Abs. (Normalized)</text>
<text x="0" y="0" font-size="12" fill="#231f20" stroke="#231f20" stroke-width="0.22" text-anchor="middle" transform="translate(331.8,110.8) rotate(-90)">PL (Norm.)</text>
<line x1="60.3" y1="9.5" x2="78.9" y2="9.5" stroke="#444" stroke-width="1.1" />
<text x="81.5" y="13.2" font-size="10.9" fill="#231f20" stroke="#231f20" stroke-width="0.22" text-anchor="start" >FL in DCM</text>
<text x="292" y="12" font-size="10.9" fill="#3b2a2a" stroke="#3b2a2a" stroke-width="0.22" text-anchor="end" >2DBTSPO</text>
<line x1="217.9" y1="23.4" x2="235.2" y2="23.4" stroke="#2fb3ad" stroke-width="1.2" />
<text x="292.5" y="25.6" font-size="10.9" fill="#231f20" stroke="#231f20" stroke-width="0.22" text-anchor="end" >PH in DCM</text>
<line x1="217.9" y1="34.1" x2="235.2" y2="34.1" stroke="#3f70c2" stroke-width="1.2" />
<text x="238.9" y="36.6" font-size="10.9" fill="#231f20" stroke="#231f20" stroke-width="0.22" text-anchor="start" >PL in Film</text>
<text x="293" y="70.8" font-size="10.9" fill="#3b2a2a" stroke="#3b2a2a" stroke-width="0.22" text-anchor="end" >28DBTDPO</text>
<line x1="218.3" y1="80.7" x2="235.8" y2="80.7" stroke="#f3a540" stroke-width="1.2" />
<text x="238" y="84.3" font-size="10.9" fill="#231f20" stroke="#231f20" stroke-width="0.22" text-anchor="start" >RTP in Film</text>
<text x="291.9" y="121.9" font-size="10.9" fill="#3b2a2a" stroke="#3b2a2a" stroke-width="0.22" text-anchor="end" >4DBTSPO</text>
<text x="293" y="173" font-size="10.9" fill="#3b2a2a" stroke="#3b2a2a" stroke-width="0.22" text-anchor="end" >46DBTDPO</text>
<text x="160.8" y="104.6" font-size="10.9" fill="#3b2a2a" stroke="#3b2a2a" stroke-width="0.22" text-anchor="start" >3.0 eV</text>
<path d="M161,100.5 L153.5,107.2" stroke="#2a1616" stroke-width="1.1"/>
<path d="M150.6,109.2 L155.4,107.9 L152.6,104.9 Z" fill="#2a1616"/>
<text x="203.1" y="155.9" font-size="10.9" fill="#3b2a2a" stroke="#3b2a2a" stroke-width="0.22" text-anchor="start" >2.6 eV</text>
<path d="M204,151 L195.5,157.5" stroke="#2a1616" stroke-width="1.1"/>
<path d="M192.6,159.6 L197.4,158.6 L194.8,155.4 Z" fill="#2a1616"/>
<text x="156.3" y="171.5" font-size="10.5" fill="#f0a040" stroke="#f0a040" stroke-width="0.1" text-anchor="start" >0.4 eV</text>
<path d="M150.4,168 L155.3,168 M150.4,168 L152.9,165.6 M150.4,168 L152.9,170.4" stroke="#f0a040" stroke-width="1" fill="none"/>
<path d="M186.4,168 L191.2,168 M191.2,168 L188.7,165.6 M191.2,168 L188.7,170.4" stroke="#f0a040" stroke-width="1" fill="none"/>
<text x="346" y="14" font-size="14.5" fill="#3b2c2c" stroke="#3b2c2c" stroke-width="0.22" text-anchor="start" >(b)</text>
<path d="M495,55 C496.57,54.87 502.25,54.5 504.4,54.2 C506.55,53.9 506.93,53.95 507.9,53.2 C508.87,52.45 509.42,51.65 510.2,49.7 C510.98,47.75 511.82,44.42 512.6,41.5 C513.38,38.58 514.03,35.32 514.9,32.2 C515.77,29.08 516.83,25.13 517.8,22.8 C518.77,20.47 519.72,19.27 520.7,18.2 C521.68,17.13 522.52,16.5 523.7,16.4 C524.88,16.3 526.35,16.72 527.8,17.6 C529.25,18.48 530.37,19.85 532.4,21.7 C534.43,23.55 538.1,26.73 540,28.7 C541.9,30.67 542.13,31.95 543.8,33.5 C545.47,35.05 547.82,36.47 550,38 C552.18,39.53 554.57,41.32 556.9,42.7 C559.23,44.08 561.43,45.2 564,46.3 C566.57,47.4 569.3,48.38 572.3,49.3 C575.3,50.22 578.72,51.08 582,51.8 C585.28,52.52 588.17,53.07 592,53.6 C595.83,54.13 600.33,54.6 605,55 C609.67,55.4 613.17,55.7 620,56 C626.83,56.3 641.67,56.67 646,56.8 L646,57.8 L495,57.8 Z" fill="url(#gb1)" stroke="none"/>
<path d="M403.6,26.6 C403.95,25.9 404.88,23.42 405.7,22.4 C406.52,21.38 407.55,21.07 408.5,20.5 C409.45,19.93 410.32,19.33 411.4,19 C412.48,18.67 413.73,18.67 415,18.5 C416.27,18.33 417.83,18.22 419,18 C420.17,17.78 421.05,17.52 422,17.2 C422.95,16.88 423.78,16.12 424.7,16.1 C425.62,16.08 426.7,16.53 427.5,17.1 C428.3,17.67 428.87,18.55 429.5,19.5 C430.13,20.45 430.72,21.55 431.3,22.8 C431.88,24.05 432.37,25.58 433,27 C433.63,28.42 434.35,29.63 435.1,31.3 C435.85,32.97 436.72,35.1 437.5,37 C438.28,38.9 438.97,41.12 439.8,42.7 C440.63,44.28 441.55,45.33 442.5,46.5 C443.45,47.67 444.5,48.73 445.5,49.7 C446.5,50.67 447.55,51.57 448.5,52.3 C449.45,53.03 449.95,53.48 451.2,54.1 C452.45,54.72 453.7,55.43 456,56 C458.3,56.57 463.5,57.25 465,57.5" fill="none" stroke="#1e1e1e" stroke-width="1" stroke-linejoin="round" stroke-linecap="round" />
<path d="M454.1,57.3 C454.57,56.77 456.17,56.15 456.9,54.1 C457.63,52.05 457.98,48.27 458.5,45 C459.02,41.73 459.17,37.8 460,34.5 C460.83,31.2 462.5,27.62 463.5,25.2 C464.5,22.78 465.12,21.47 466,20 C466.88,18.53 467.85,16.52 468.8,16.4 C469.75,16.28 470.63,18.23 471.7,19.3 C472.77,20.37 473.65,22.25 475.2,22.8 C476.75,23.35 478.97,22.88 481,22.6 C483.03,22.32 485.65,20.87 487.4,21.1 C489.15,21.33 490.23,23.32 491.5,24 C492.77,24.68 493.63,24.8 495,25.2 C496.37,25.6 498.03,25.43 499.7,26.4 C501.37,27.37 503.25,30.03 505,31 C506.75,31.97 508.75,31.9 510.2,32.2 C511.65,32.5 511.95,31.93 513.7,32.8 C515.45,33.67 517.97,35.55 520.7,37.4 C523.43,39.25 526.88,42.13 530.1,43.9 C533.32,45.67 536.68,46.9 540,48 C543.32,49.1 547.18,49.92 550,50.5 C552.82,51.08 552.47,50.8 556.9,51.5 C561.33,52.2 569.67,53.98 576.6,54.7 C583.53,55.42 586.93,55.5 598.5,55.8 C610.07,56.1 638.08,56.38 646,56.5" fill="none" stroke="#1e1e1e" stroke-width="1" stroke-linejoin="round" stroke-linecap="round" />
<path d="M461.2,56.7 C461.97,56.22 464.25,55.75 465.8,53.8 C467.35,51.85 469.13,47.73 470.5,45 C471.87,42.27 472.83,38.8 474,37.4 C475.17,36 476.03,36.85 477.5,36.6 C478.97,36.35 481.05,36.53 482.8,35.9 C484.55,35.27 486.55,33.8 488,32.8 C489.45,31.8 490.33,29.8 491.5,29.9 C492.67,30 493.63,31.75 495,33.4 C496.37,35.05 498.23,38.25 499.7,39.8 C501.17,41.35 502.63,42.45 503.8,42.7 C504.97,42.95 505.43,42.37 506.7,41.3 C507.97,40.23 509.83,38.02 511.4,36.3 C512.97,34.58 514.35,32.85 516.1,31 C517.85,29.15 519.97,27.05 521.9,25.2 C523.83,23.35 526.13,21.17 527.7,19.9 C529.27,18.63 529.92,18.02 531.3,17.6 C532.68,17.18 534.55,17.42 536,17.4 C537.45,17.38 538.7,17.67 540,17.5 C541.3,17.33 542.07,16.22 543.8,16.4 C545.53,16.58 547.85,17.68 550.4,18.6 C552.95,19.52 556.55,20.25 559.1,21.9 C561.65,23.55 563.15,26.13 565.7,28.5 C568.25,30.87 571.12,33.55 574.4,36.1 C577.68,38.65 581.38,41.6 585.4,43.8 C589.42,46 593.75,47.67 598.5,49.3 C603.25,50.93 608.42,52.52 613.9,53.6 C619.38,54.68 626.05,55.32 631.4,55.8 C636.75,56.28 643.57,56.38 646,56.5" fill="none" stroke="#2fb3ad" stroke-width="1" stroke-linejoin="round" stroke-linecap="round" />
<path d="M495,55 C496.57,54.87 502.25,54.5 504.4,54.2 C506.55,53.9 506.93,53.95 507.9,53.2 C508.87,52.45 509.42,51.65 510.2,49.7 C510.98,47.75 511.82,44.42 512.6,41.5 C513.38,38.58 514.03,35.32 514.9,32.2 C515.77,29.08 516.83,25.13 517.8,22.8 C518.77,20.47 519.72,19.27 520.7,18.2 C521.68,17.13 522.52,16.5 523.7,16.4 C524.88,16.3 526.35,16.72 527.8,17.6 C529.25,18.48 530.37,19.85 532.4,21.7 C534.43,23.55 538.1,26.73 540,28.7 C541.9,30.67 542.13,31.95 543.8,33.5 C545.47,35.05 547.82,36.47 550,38 C552.18,39.53 554.57,41.32 556.9,42.7 C559.23,44.08 561.43,45.2 564,46.3 C566.57,47.4 569.3,48.38 572.3,49.3 C575.3,50.22 578.72,51.08 582,51.8 C585.28,52.52 588.17,53.07 592,53.6 C595.83,54.13 600.33,54.6 605,55 C609.67,55.4 613.17,55.7 620,56 C626.83,56.3 641.67,56.67 646,56.8" fill="none" stroke="#93c84a" stroke-width="1" stroke-linejoin="round" stroke-linecap="round" />
<path d="M483.4,57.3 C484.95,57.02 489.98,56.48 492.7,55.6 C495.42,54.72 497.55,53.17 499.7,52 C501.85,50.83 503.85,50.35 505.6,48.6 C507.35,46.85 508.85,44.23 510.2,41.5 C511.55,38.77 512.53,35.32 513.7,32.2 C514.87,29.08 516.03,25.23 517.2,22.8 C518.37,20.37 519.62,18.72 520.7,17.6 C521.78,16.48 522.72,16.3 523.7,16.1 C524.68,15.9 525.53,15.95 526.6,16.4 C527.67,16.85 528.73,17.73 530.1,18.8 C531.47,19.87 533.15,21.45 534.8,22.8 C536.45,24.15 538.5,25.5 540,26.9 C541.5,28.3 542.13,29.77 543.8,31.2 C545.47,32.63 547.82,34.13 550,35.5 C552.18,36.87 554.57,38.07 556.9,39.4 C559.23,40.73 561.43,42.22 564,43.5 C566.57,44.78 569.3,45.97 572.3,47.1 C575.3,48.23 578.72,49.38 582,50.3 C585.28,51.22 588.17,51.88 592,52.6 C595.83,53.32 600.27,54.07 605,54.6 C609.73,55.13 613.57,55.47 620.4,55.8 C627.23,56.13 641.73,56.47 646,56.6" fill="none" stroke="#2f9d5a" stroke-width="1" stroke-linejoin="round" stroke-linecap="round" />
<ellipse cx="435.1" cy="31.8" rx="3.8" ry="9.8" fill="none" stroke="#9a8c8c" stroke-width="0.8" stroke-dasharray="2.2,1.6"/>
<line x1="431.3" y1="32.3" x2="420.8" y2="32.3" stroke="#6b5555" stroke-width="1.3" />
<path d="M416.8,32.3 L422.3,30.1 L422.3,34.5 Z" fill="#2a1616"/>
<path d="M497,107.8 C498,107.17 501.33,105.3 503,104 C504.67,102.7 505.83,101.83 507,100 C508.17,98.17 509,95.67 510,93 C511,90.33 512,86.67 513,84 C514,81.33 514.83,79.17 516,77 C517.17,74.83 518.67,72.42 520,71 C521.33,69.58 522.67,69 524,68.5 C525.33,68 526.67,67.75 528,68 C529.33,68.25 530.5,69.08 532,70 C533.5,70.92 535.03,71.8 537,73.5 C538.97,75.2 541.63,78.28 543.8,80.2 C545.97,82.12 547.82,83.45 550,85 C552.18,86.55 554.57,87.92 556.9,89.5 C559.23,91.08 561.43,92.75 564,94.5 C566.57,96.25 569.3,98.53 572.3,100 C575.3,101.47 578.72,102.38 582,103.3 C585.28,104.22 588.17,104.85 592,105.5 C595.83,106.15 600.33,106.78 605,107.2 C609.67,107.62 613.17,107.8 620,108 C626.83,108.2 641.67,108.33 646,108.4 L646,109.4 L497,109.4 Z" fill="url(#gb2)" stroke="none"/>
<path d="M403.6,77.8 C403.92,77.17 404.83,75.12 405.5,74 C406.17,72.88 406.68,71.85 407.6,71.1 C408.52,70.35 409.73,69.9 411,69.5 C412.27,69.1 413.87,68.9 415.2,68.7 C416.53,68.5 417.8,68.43 419,68.3 C420.2,68.17 421.62,67.58 422.4,67.9 C423.18,68.22 423.33,68.85 423.7,70.2 C424.07,71.55 424.28,73.78 424.6,76 C424.92,78.22 425.28,81.33 425.6,83.5 C425.92,85.67 426.18,87.12 426.5,89 C426.82,90.88 427.08,93.3 427.5,94.8 C427.92,96.3 428.52,97.2 429,98 C429.48,98.8 429.9,99.3 430.4,99.6 C430.9,99.9 431.37,99.8 432,99.8 C432.63,99.8 433.37,99.65 434.2,99.6 C435.03,99.55 436.07,99.4 437,99.5 C437.93,99.6 438.88,99.87 439.8,100.2 C440.72,100.53 441.55,100.97 442.5,101.5 C443.45,102.03 444.5,102.73 445.5,103.4 C446.5,104.07 447.55,104.87 448.5,105.5 C449.45,106.13 449.8,106.7 451.2,107.2 C452.6,107.7 454.6,108.17 456.9,108.5 C459.2,108.83 463.65,109.08 465,109.2" fill="none" stroke="#1e1e1e" stroke-width="1" stroke-linejoin="round" stroke-linecap="round" />
<path d="M448.4,109.2 C448.82,107.75 450.22,103.7 450.9,100.5 C451.58,97.3 451.97,93.47 452.5,90 C453.03,86.53 453.52,82.7 454.1,79.7 C454.68,76.7 455.37,73.9 456,72 C456.63,70.1 457.27,68.72 457.9,68.3 C458.53,67.88 459.17,68.87 459.8,69.5 C460.43,70.13 461,70.93 461.7,72.1 C462.4,73.27 463.22,74.92 464,76.5 C464.78,78.08 465.57,80.1 466.4,81.6 C467.23,83.1 468.05,84.23 469,85.5 C469.95,86.77 470.93,87.95 472.1,89.2 C473.27,90.45 474.73,91.9 476,93 C477.27,94.1 478.45,95.13 479.7,95.8 C480.95,96.47 482.23,96.68 483.5,97 C484.77,97.32 485.72,97.48 487.3,97.7 C488.88,97.92 491.1,98.15 493,98.3 C494.9,98.45 497.03,98.6 498.7,98.6 C500.37,98.6 501.73,98.45 503,98.3 C504.27,98.15 505.13,97.88 506.3,97.7 C507.47,97.52 508.73,97.52 510,97.2 C511.27,96.88 512.65,96.08 513.9,95.8 C515.15,95.52 516.57,95.57 517.5,95.5 C518.43,95.43 518.75,95.32 519.5,95.4 C520.25,95.48 520.87,95.73 522,96 C523.13,96.27 524.97,96.62 526.3,97 C527.63,97.38 528.55,97.82 530,98.3 C531.45,98.78 531.97,99.08 535,99.9 C538.03,100.72 543.45,102.1 548.2,103.2 C552.95,104.3 557.67,105.7 563.5,106.5 C569.33,107.3 575.45,107.62 583.2,108 C590.95,108.38 599.53,108.63 610,108.8 C620.47,108.97 640,108.97 646,109" fill="none" stroke="#1e1e1e" stroke-width="1" stroke-linejoin="round" stroke-linecap="round" />
<path d="M485.4,108.1 C486.67,107.47 490.9,105.48 493,104.3 C495.1,103.12 496.42,101.95 498,101 C499.58,100.05 501.33,99.6 502.5,98.6 C503.67,97.6 504.28,96.77 505,95 C505.72,93.23 506.22,90.5 506.8,88 C507.38,85.5 507.95,82.33 508.5,80 C509.05,77.67 509.52,74.95 510.1,74 C510.68,73.05 511.13,73.82 512,74.3 C512.87,74.78 514.38,77.03 515.3,76.9 C516.22,76.77 516.77,74.42 517.5,73.5 C518.23,72.58 518.78,72.15 519.7,71.4 C520.62,70.65 521.9,69.55 523,69 C524.1,68.45 525.22,67.85 526.3,68.1 C527.38,68.35 528.42,69.4 529.5,70.5 C530.58,71.6 531.38,73.53 532.8,74.7 C534.22,75.87 536.17,76.4 538,77.5 C539.83,78.6 541.8,79.88 543.8,81.3 C545.8,82.72 547.82,84.37 550,86 C552.18,87.63 554.73,89.6 556.9,91.1 C559.07,92.6 560.8,93.72 563,95 C565.2,96.28 567.6,97.67 570.1,98.8 C572.6,99.93 575.08,100.88 578,101.8 C580.92,102.72 584.27,103.57 587.6,104.3 C590.93,105.03 594.35,105.65 598,106.2 C601.65,106.75 605,107.25 609.5,107.6 C614,107.95 618.92,108.13 625,108.3 C631.08,108.47 642.5,108.55 646,108.6" fill="none" stroke="#2fb3ad" stroke-width="1" stroke-linejoin="round" stroke-linecap="round" />
<path d="M497,107.8 C498,107.17 501.33,105.3 503,104 C504.67,102.7 505.83,101.83 507,100 C508.17,98.17 509,95.67 510,93 C511,90.33 512,86.67 513,84 C514,81.33 514.83,79.17 516,77 C517.17,74.83 518.67,72.42 520,71 C521.33,69.58 522.67,69 524,68.5 C525.33,68 526.67,67.75 528,68 C529.33,68.25 530.5,69.08 532,70 C533.5,70.92 535.03,71.8 537,73.5 C538.97,75.2 541.63,78.28 543.8,80.2 C545.97,82.12 547.82,83.45 550,85 C552.18,86.55 554.57,87.92 556.9,89.5 C559.23,91.08 561.43,92.75 564,94.5 C566.57,96.25 569.3,98.53 572.3,100 C575.3,101.47 578.72,102.38 582,103.3 C585.28,104.22 588.17,104.85 592,105.5 C595.83,106.15 600.33,106.78 605,107.2 C609.67,107.62 613.17,107.8 620,108 C626.83,108.2 641.67,108.33 646,108.4" fill="none" stroke="#93c84a" stroke-width="1" stroke-linejoin="round" stroke-linecap="round" />
<path d="M494.9,107.8 C495.75,107.25 498.42,105.55 500,104.5 C501.58,103.45 503.23,102.5 504.4,101.5 C505.57,100.5 506.23,99.58 507,98.5 C507.77,97.42 508.17,96.75 509,95 C509.83,93.25 511.17,90.5 512,88 C512.83,85.5 513.33,82 514,80 C514.67,78 515.05,77.62 516,76 C516.95,74.38 518.53,71.58 519.7,70.3 C520.87,69.02 521.72,68.73 523,68.3 C524.28,67.87 526.07,67.58 527.4,67.7 C528.73,67.82 529.73,68.38 531,69 C532.27,69.62 533.67,70.48 535,71.4 C536.33,72.32 537.53,73.4 539,74.5 C540.47,75.6 541.97,76.67 543.8,78 C545.63,79.33 547.82,80.87 550,82.5 C552.18,84.13 554.57,86.05 556.9,87.8 C559.23,89.55 561.43,91.17 564,93 C566.57,94.83 569.3,97.25 572.3,98.8 C575.3,100.35 578.72,101.28 582,102.3 C585.28,103.32 588.17,104.15 592,104.9 C595.83,105.65 600.63,106.35 605,106.8 C609.37,107.25 611.37,107.37 618.2,107.6 C625.03,107.83 641.37,108.1 646,108.2" fill="none" stroke="#2f9d5a" stroke-width="1" stroke-linejoin="round" stroke-linecap="round" />
<ellipse cx="434.8" cy="97.7" rx="3.8" ry="9.8" fill="none" stroke="#9a8c8c" stroke-width="0.8" stroke-dasharray="2.2,1.6"/>
<line x1="431" y1="98.3" x2="420.8" y2="98.3" stroke="#6b5555" stroke-width="1.3" />
<path d="M416.8,98.3 L422.3,96.1 L422.3,100.5 Z" fill="#2a1616"/>
<path d="M460.7,157.2 C461.33,156.98 462.95,156.12 464.5,155.9 C466.05,155.68 468.1,155.85 470,155.9 C471.9,155.95 474.07,156.18 475.9,156.2 C477.73,156.22 479.1,156.15 481,156 C482.9,155.85 485.3,155.72 487.3,155.3 C489.3,154.88 491.1,154.3 493,153.5 C494.9,152.7 497.03,151.5 498.7,150.5 C500.37,149.5 501.73,148.75 503,147.5 C504.27,146.25 505.3,144.5 506.3,143 C507.3,141.5 508.05,140.08 509,138.5 C509.95,136.92 511.03,135 512,133.5 C512.97,132 513.87,130.77 514.8,129.5 C515.73,128.23 516.57,127.07 517.6,125.9 C518.63,124.73 519.73,123.45 521,122.5 C522.27,121.55 524.13,120.68 525.2,120.2 C526.27,119.72 526.43,119.63 527.4,119.6 C528.37,119.57 529.73,119.63 531,120 C532.27,120.37 533.67,121.1 535,121.8 C536.33,122.5 537.53,123.3 539,124.2 C540.47,125.1 541.97,125.93 543.8,127.2 C545.63,128.47 547.82,130.17 550,131.8 C552.18,133.43 554.57,135.3 556.9,137 C559.23,138.7 561.43,140.33 564,142 C566.57,143.67 569.63,145.57 572.3,147 C574.97,148.43 577.45,149.47 580,150.6 C582.55,151.73 585.1,152.97 587.6,153.8 C590.1,154.63 592.08,155.1 595,155.6 C597.92,156.1 600.93,156.5 605.1,156.8 C609.27,157.1 613.18,157.33 620,157.4 C626.82,157.47 641.67,157.23 646,157.2 L646,161 L460.7,161 Z" fill="url(#gb3)" stroke="none"/>
<path d="M403.6,124 C403.92,123.67 404.83,122.48 405.5,122 C406.17,121.52 406.68,121.35 407.6,121.1 C408.52,120.85 409.73,120.65 411,120.5 C412.27,120.35 413.87,120.32 415.2,120.2 C416.53,120.08 417.8,119.97 419,119.8 C420.2,119.63 421.52,118.5 422.4,119.2 C423.28,119.9 423.82,122.37 424.3,124 C424.78,125.63 424.98,127.1 425.3,129 C425.62,130.9 425.87,133.48 426.2,135.4 C426.53,137.32 426.92,139.08 427.3,140.5 C427.68,141.92 428.05,143.07 428.5,143.9 C428.95,144.73 429.53,145.18 430,145.5 C430.47,145.82 430.8,145.88 431.3,145.8 C431.8,145.72 432.37,145.32 433,145 C433.63,144.68 434.35,144.12 435.1,143.9 C435.85,143.68 436.72,143.6 437.5,143.7 C438.28,143.8 439.18,144.12 439.8,144.5 C440.42,144.88 440.72,145.32 441.2,146 C441.68,146.68 442.07,147.52 442.7,148.6 C443.33,149.68 444.22,151.23 445,152.5 C445.78,153.77 446.57,155.2 447.4,156.2 C448.23,157.2 449.2,157.87 450,158.5 C450.8,159.13 450.73,159.58 452.2,160 C453.67,160.42 457.7,160.83 458.8,161" fill="none" stroke="#1e1e1e" stroke-width="1" stroke-linejoin="round" stroke-linecap="round" />
<path d="M454.1,160.3 C454.33,158.92 455.03,154.88 455.5,152 C455.97,149.12 456.4,146.17 456.9,143 C457.4,139.83 457.93,135.85 458.5,133 C459.07,130.15 459.72,127.82 460.3,125.9 C460.88,123.98 461.45,122.52 462,121.5 C462.55,120.48 463.02,119.97 463.6,119.8 C464.18,119.63 464.87,120.12 465.5,120.5 C466.13,120.88 466.7,121.18 467.4,122.1 C468.1,123.02 468.92,124.58 469.7,126 C470.48,127.42 471.3,129.18 472.1,130.6 C472.9,132.02 473.7,133.23 474.5,134.5 C475.3,135.77 476.15,137.45 476.9,138.2 C477.65,138.95 478.22,138.83 479,139 C479.78,139.17 480.43,139.17 481.6,139.2 C482.77,139.23 484.42,139.2 486,139.2 C487.58,139.2 489.6,139.15 491.1,139.2 C492.6,139.25 493.73,139.35 495,139.5 C496.27,139.65 497.3,139.83 498.7,140.1 C500.1,140.37 502.08,141.28 503.4,141.1 C504.72,140.92 505.48,139.48 506.6,139 C507.72,138.52 508.58,138.55 510.1,138.2 C511.62,137.85 514.47,137.03 515.7,136.9 C516.93,136.77 516.62,137.22 517.5,137.4 C518.38,137.58 519.53,137.75 521,138 C522.47,138.25 524.8,138.55 526.3,138.9 C527.8,139.25 528.18,139.37 530,140.1 C531.82,140.83 535.03,142.23 537.2,143.3 C539.37,144.37 540.8,145.4 543,146.5 C545.2,147.6 547.9,148.85 550.4,149.9 C552.9,150.95 555.45,151.97 558,152.8 C560.55,153.63 562.87,154.28 565.7,154.9 C568.53,155.52 571.35,156.05 575,156.5 C578.65,156.95 581.85,157.25 587.6,157.6 C593.35,157.95 599.77,158.37 609.5,158.6 C619.23,158.83 639.92,158.93 646,159" fill="none" stroke="#1e1e1e" stroke-width="1" stroke-linejoin="round" stroke-linecap="round" />
<path d="M479.7,161 C480.92,160.67 484.47,159.8 487,159 C489.53,158.2 492.73,157.37 494.9,156.2 C497.07,155.03 498.1,153.58 500,152 C501.9,150.42 504.8,148.53 506.3,146.7 C507.8,144.87 508.05,143.2 509,141 C509.95,138.8 511.03,135.23 512,133.5 C512.97,131.77 513.97,131.68 514.8,130.6 C515.63,129.52 516.13,128.18 517,127 C517.87,125.82 519,124.5 520,123.5 C521,122.5 521.77,121.6 523,121 C524.23,120.4 526.07,119.98 527.4,119.9 C528.73,119.82 529.73,120.07 531,120.5 C532.27,120.93 533.67,121.75 535,122.5 C536.33,123.25 537.53,124.08 539,125 C540.47,125.92 541.97,126.75 543.8,128 C545.63,129.25 547.82,130.87 550,132.5 C552.18,134.13 554.57,136.08 556.9,137.8 C559.23,139.52 561.43,141.15 564,142.8 C566.57,144.45 569.63,146.3 572.3,147.7 C574.97,149.1 577.45,150.1 580,151.2 C582.55,152.3 585.1,153.5 587.6,154.3 C590.1,155.1 592.08,155.53 595,156 C597.92,156.47 600.93,156.83 605.1,157.1 C609.27,157.37 615.62,157.52 620,157.6 C624.38,157.68 627.68,158.05 631.4,157.6 C635.12,157.15 639.78,155.75 642.3,154.9 C644.82,154.05 645.8,152.9 646.5,152.5" fill="none" stroke="#2fb3ad" stroke-width="1" stroke-linejoin="round" stroke-linecap="round" />
<path d="M460.7,157.2 C461.33,156.98 462.95,156.12 464.5,155.9 C466.05,155.68 468.1,155.85 470,155.9 C471.9,155.95 474.07,156.18 475.9,156.2 C477.73,156.22 479.1,156.15 481,156 C482.9,155.85 485.3,155.72 487.3,155.3 C489.3,154.88 491.1,154.3 493,153.5 C494.9,152.7 497.03,151.5 498.7,150.5 C500.37,149.5 501.73,148.75 503,147.5 C504.27,146.25 505.3,144.5 506.3,143 C507.3,141.5 508.05,140.08 509,138.5 C509.95,136.92 511.03,135 512,133.5 C512.97,132 513.87,130.77 514.8,129.5 C515.73,128.23 516.57,127.07 517.6,125.9 C518.63,124.73 519.73,123.45 521,122.5 C522.27,121.55 524.13,120.68 525.2,120.2 C526.27,119.72 526.43,119.63 527.4,119.6 C528.37,119.57 529.73,119.63 531,120 C532.27,120.37 533.67,121.1 535,121.8 C536.33,122.5 537.53,123.3 539,124.2 C540.47,125.1 541.97,125.93 543.8,127.2 C545.63,128.47 547.82,130.17 550,131.8 C552.18,133.43 554.57,135.3 556.9,137 C559.23,138.7 561.43,140.33 564,142 C566.57,143.67 569.63,145.57 572.3,147 C574.97,148.43 577.45,149.47 580,150.6 C582.55,151.73 585.1,152.97 587.6,153.8 C590.1,154.63 592.08,155.1 595,155.6 C597.92,156.1 600.93,156.5 605.1,156.8 C609.27,157.1 613.18,157.33 620,157.4 C626.82,157.47 641.67,157.23 646,157.2" fill="none" stroke="#93c84a" stroke-width="1" stroke-linejoin="round" stroke-linecap="round" />
<path d="M481.6,161 C483,160.67 487.15,160.12 490,159 C492.85,157.88 496.53,155.55 498.7,154.3 C500.87,153.05 501.73,152.45 503,151.5 C504.27,150.55 505.3,150.02 506.3,148.6 C507.3,147.18 508.05,145.2 509,143 C509.95,140.8 511,137.73 512,135.4 C513,133.07 513.75,131.07 515,129 C516.25,126.93 518.25,124.33 519.5,123 C520.75,121.67 521.55,121.53 522.5,121 C523.45,120.47 524.38,119.98 525.2,119.8 C526.02,119.62 526.43,119.78 527.4,119.9 C528.37,120.02 529.73,120.07 531,120.5 C532.27,120.93 533.67,121.75 535,122.5 C536.33,123.25 537.53,124.08 539,125 C540.47,125.92 541.97,126.75 543.8,128 C545.63,129.25 547.82,130.87 550,132.5 C552.18,134.13 554.57,136.08 556.9,137.8 C559.23,139.52 561.43,141.15 564,142.8 C566.57,144.45 569.63,146.3 572.3,147.7 C574.97,149.1 577.45,150.1 580,151.2 C582.55,152.3 585.1,153.5 587.6,154.3 C590.1,155.1 592.08,155.53 595,156 C597.92,156.47 600.93,156.83 605.1,157.1 C609.27,157.37 615.62,157.52 620,157.6 C624.38,157.68 627.07,157.65 631.4,157.6 C635.73,157.55 643.57,157.35 646,157.3" fill="none" stroke="#2f9d5a" stroke-width="1" stroke-linejoin="round" stroke-linecap="round" />
<ellipse cx="434.6" cy="144.5" rx="3.8" ry="9.8" fill="none" stroke="#9a8c8c" stroke-width="0.8" stroke-dasharray="2.2,1.6"/>
<line x1="431" y1="144.5" x2="420.8" y2="144.5" stroke="#6b5555" stroke-width="1.3" />
<path d="M416.8,144.5 L422.3,142.3 L422.3,146.7 Z" fill="#2a1616"/>
<path d="M474,213 C476.22,212.8 483.18,212.37 487.3,211.8 C491.42,211.23 496.17,210.4 498.7,209.6 C501.23,208.8 501.23,208.1 502.5,207 C503.77,205.9 505.22,204.42 506.3,203 C507.38,201.58 508.05,200.17 509,198.5 C509.95,196.83 511.03,194.92 512,193 C512.97,191.08 513.87,189 514.8,187 C515.73,185 516.65,182.75 517.6,181 C518.55,179.25 519.55,177.7 520.5,176.5 C521.45,175.3 522.38,174.52 523.3,173.8 C524.22,173.08 525.13,172.57 526,172.2 C526.87,171.83 527.67,171.63 528.5,171.6 C529.33,171.57 529.92,171.67 531,172 C532.08,172.33 533.67,173.02 535,173.6 C536.33,174.18 537.53,174.77 539,175.5 C540.47,176.23 541.97,176.88 543.8,178 C545.63,179.12 547.82,180.7 550,182.2 C552.18,183.7 554.57,185.37 556.9,187 C559.23,188.63 561.43,190.37 564,192 C566.57,193.63 569.63,195.38 572.3,196.8 C574.97,198.22 577.45,199.37 580,200.5 C582.55,201.63 584.93,202.65 587.6,203.6 C590.27,204.55 593.08,205.42 596,206.2 C598.92,206.98 601.43,207.72 605.1,208.3 C608.77,208.88 613.62,209.33 618,209.7 C622.38,210.07 626.73,210.3 631.4,210.5 C636.07,210.7 643.57,210.83 646,210.9 L646,212.9 L474,212.9 Z" fill="url(#gb4)" stroke="none"/>
<path d="M403.6,181.7 C403.92,181 404.83,178.62 405.5,177.5 C406.17,176.38 406.68,175.7 407.6,175 C408.52,174.3 409.73,173.77 411,173.3 C412.27,172.83 413.87,172.48 415.2,172.2 C416.53,171.92 417.8,171.77 419,171.6 C420.2,171.43 421.52,170.32 422.4,171.2 C423.28,172.08 423.83,174.93 424.3,176.9 C424.77,178.87 424.88,180.93 425.2,183 C425.52,185.07 425.85,187.22 426.2,189.3 C426.55,191.38 426.92,193.62 427.3,195.5 C427.68,197.38 428.05,199.27 428.5,200.6 C428.95,201.93 429.53,202.87 430,203.5 C430.47,204.13 430.72,204.35 431.3,204.4 C431.88,204.45 432.7,203.95 433.5,203.8 C434.3,203.65 435.27,203.5 436.1,203.5 C436.93,203.5 437.72,203.65 438.5,203.8 C439.28,203.95 440.05,204.12 440.8,204.4 C441.55,204.68 442.22,205.02 443,205.5 C443.78,205.98 444.58,206.63 445.5,207.3 C446.42,207.97 447.55,208.87 448.5,209.5 C449.45,210.13 449.8,210.68 451.2,211.1 C452.6,211.52 455.95,211.85 456.9,212" fill="none" stroke="#1e1e1e" stroke-width="1" stroke-linejoin="round" stroke-linecap="round" />
<path d="M451.2,212 C451.5,211.67 452.37,210.95 453,210 C453.63,209.05 454.42,208.63 455,206.3 C455.58,203.97 456.02,199.47 456.5,196 C456.98,192.53 457.43,188.33 457.9,185.5 C458.37,182.67 458.83,180.9 459.3,179 C459.77,177.1 460.25,175.27 460.7,174.1 C461.15,172.93 461.52,172.48 462,172 C462.48,171.52 463.02,171.03 463.6,171.2 C464.18,171.37 464.87,172.2 465.5,173 C466.13,173.8 466.7,174.83 467.4,176 C468.1,177.17 468.92,178.58 469.7,180 C470.48,181.42 471.22,183.25 472.1,184.5 C472.98,185.75 474.05,186.7 475,187.5 C475.95,188.3 476.88,189.55 477.8,189.3 C478.72,189.05 479.55,187.12 480.5,186 C481.45,184.88 482.58,183.13 483.5,182.6 C484.42,182.07 485.05,182.63 486,182.8 C486.95,182.97 488.12,183.32 489.2,183.6 C490.28,183.88 491.4,184.13 492.5,184.5 C493.6,184.87 494.72,185.13 495.8,185.8 C496.88,186.47 497.88,187.45 499,188.5 C500.12,189.55 501.33,191.02 502.5,192.1 C503.67,193.18 504.73,194.05 506,195 C507.27,195.95 508.6,196.8 510.1,197.8 C511.6,198.8 513.43,199.9 515,201 C516.57,202.1 517.83,203.43 519.5,204.4 C521.17,205.37 523.25,206.1 525,206.8 C526.75,207.5 528.33,208.22 530,208.6 C531.67,208.98 532.5,208.87 535,209.1 C537.5,209.33 541.72,209.75 545,210 C548.28,210.25 548.87,210.38 554.7,210.6 C560.53,210.82 564.78,211.13 580,211.3 C595.22,211.47 635,211.55 646,211.6" fill="none" stroke="#1e1e1e" stroke-width="1" stroke-linejoin="round" stroke-linecap="round" />
<path d="M475,213 C477.05,212.83 483.35,212.5 487.3,212 C491.25,211.5 496.08,210.75 498.7,210 C501.32,209.25 501.73,208.58 503,207.5 C504.27,206.42 505.3,204.92 506.3,203.5 C507.3,202.08 508.05,200.67 509,199 C509.95,197.33 511,195.5 512,193.5 C513,191.5 514,189.17 515,187 C516,184.83 517,182.42 518,180.5 C519,178.58 520,176.83 521,175.5 C522,174.17 523,173.2 524,172.5 C525,171.8 526,171.48 527,171.3 C528,171.12 528.67,171.15 530,171.4 C531.33,171.65 533.33,172.28 535,172.8 C536.67,173.32 538.33,173.72 540,174.5 C541.67,175.28 543.17,176.33 545,177.5 C546.83,178.67 548.65,180.17 551,181.5 C553.35,182.83 556.6,184.08 559.1,185.5 C561.6,186.92 563.68,188.5 566,190 C568.32,191.5 570.67,193.08 573,194.5 C575.33,195.92 577.5,197.25 580,198.5 C582.5,199.75 585.17,200.92 588,202 C590.83,203.08 594,204.12 597,205 C600,205.88 602.5,206.63 606,207.3 C609.5,207.97 613.83,208.55 618,209 C622.17,209.45 627.33,209.75 631,210 C634.67,210.25 637.42,210.83 640,210.5 C642.58,210.17 645.42,208.42 646.5,208" fill="none" stroke="#2fb3ad" stroke-width="1" stroke-linejoin="round" stroke-linecap="round" />
<path d="M474,213 C476.22,212.8 483.18,212.37 487.3,211.8 C491.42,211.23 496.17,210.4 498.7,209.6 C501.23,208.8 501.23,208.1 502.5,207 C503.77,205.9 505.22,204.42 506.3,203 C507.38,201.58 508.05,200.17 509,198.5 C509.95,196.83 511.03,194.92 512,193 C512.97,191.08 513.87,189 514.8,187 C515.73,185 516.65,182.75 517.6,181 C518.55,179.25 519.55,177.7 520.5,176.5 C521.45,175.3 522.38,174.52 523.3,173.8 C524.22,173.08 525.13,172.57 526,172.2 C526.87,171.83 527.67,171.63 528.5,171.6 C529.33,171.57 529.92,171.67 531,172 C532.08,172.33 533.67,173.02 535,173.6 C536.33,174.18 537.53,174.77 539,175.5 C540.47,176.23 541.97,176.88 543.8,178 C545.63,179.12 547.82,180.7 550,182.2 C552.18,183.7 554.57,185.37 556.9,187 C559.23,188.63 561.43,190.37 564,192 C566.57,193.63 569.63,195.38 572.3,196.8 C574.97,198.22 577.45,199.37 580,200.5 C582.55,201.63 584.93,202.65 587.6,203.6 C590.27,204.55 593.08,205.42 596,206.2 C598.92,206.98 601.43,207.72 605.1,208.3 C608.77,208.88 613.62,209.33 618,209.7 C622.38,210.07 626.73,210.3 631.4,210.5 C636.07,210.7 643.57,210.83 646,210.9" fill="none" stroke="#93c84a" stroke-width="1" stroke-linejoin="round" stroke-linecap="round" />
<path d="M472.1,213 C473.42,212.92 477.47,212.73 480,212.5 C482.53,212.27 485.13,211.93 487.3,211.6 C489.47,211.27 491.1,210.9 493,210.5 C494.9,210.1 497.12,209.87 498.7,209.2 C500.28,208.53 501.23,207.62 502.5,206.5 C503.77,205.38 505.22,204 506.3,202.5 C507.38,201 508.05,199.23 509,197.5 C509.95,195.77 511.03,194.02 512,192.1 C512.97,190.18 513.87,188.05 514.8,186 C515.73,183.95 516.65,181.55 517.6,179.8 C518.55,178.05 519.55,176.62 520.5,175.5 C521.45,174.38 522.38,173.73 523.3,173.1 C524.22,172.47 525.13,172.02 526,171.7 C526.87,171.38 527.67,171.18 528.5,171.2 C529.33,171.22 529.92,171.43 531,171.8 C532.08,172.17 533.67,172.82 535,173.4 C536.33,173.98 537.53,174.57 539,175.3 C540.47,176.03 541.97,176.6 543.8,177.8 C545.63,179 547.82,180.85 550,182.5 C552.18,184.15 554.57,185.98 556.9,187.7 C559.23,189.42 561.43,191.17 564,192.8 C566.57,194.43 569.63,196.13 572.3,197.5 C574.97,198.87 577.45,199.9 580,201 C582.55,202.1 584.93,203.18 587.6,204.1 C590.27,205.02 593.08,205.77 596,206.5 C598.92,207.23 601.43,207.95 605.1,208.5 C608.77,209.05 613.62,209.45 618,209.8 C622.38,210.15 626.73,210.4 631.4,210.6 C636.07,210.8 643.57,210.93 646,211" fill="none" stroke="#2f9d5a" stroke-width="1" stroke-linejoin="round" stroke-linecap="round" />
<ellipse cx="434.6" cy="201.6" rx="3.8" ry="9.8" fill="none" stroke="#9a8c8c" stroke-width="0.8" stroke-dasharray="2.2,1.6"/>
<line x1="431" y1="202.2" x2="420.8" y2="202.2" stroke="#6b5555" stroke-width="1.3" />
<path d="M416.8,202.2 L422.3,200 L422.3,204.4 Z" fill="#2a1616"/>
<line x1="501.5" y1="1" x2="501.5" y2="213" stroke="#8cc84a" stroke-width="1" stroke-dasharray="3,2"/>
<rect x="403.6" y="0.5" width="244.4" height="212.7" fill="none" stroke="#555555" stroke-width="1.1"/>
<line x1="403.6" y1="58.2" x2="648" y2="58.2" stroke="#555555" stroke-width="1.1" />
<line x1="403.6" y1="109.7" x2="648" y2="109.7" stroke="#555555" stroke-width="1.1" />
<line x1="403.6" y1="161.3" x2="648" y2="161.3" stroke="#555555" stroke-width="1.1" />
<line x1="403.6" y1="58.2" x2="406.6" y2="58.2" stroke="#555555" stroke-width="1" />
<line x1="648" y1="58.2" x2="645" y2="58.2" stroke="#555555" stroke-width="1" />
<line x1="403.6" y1="47.88" x2="405.6" y2="47.88" stroke="#555555" stroke-width="1" />
<line x1="648" y1="47.88" x2="646" y2="47.88" stroke="#555555" stroke-width="1" />
<line x1="403.6" y1="37.55" x2="406.6" y2="37.55" stroke="#555555" stroke-width="1" />
<line x1="648" y1="37.55" x2="645" y2="37.55" stroke="#555555" stroke-width="1" />
<line x1="403.6" y1="27.23" x2="405.6" y2="27.23" stroke="#555555" stroke-width="1" />
<line x1="648" y1="27.23" x2="646" y2="27.23" stroke="#555555" stroke-width="1" />
<line x1="403.6" y1="16.9" x2="406.6" y2="16.9" stroke="#555555" stroke-width="1" />
<line x1="648" y1="16.9" x2="645" y2="16.9" stroke="#555555" stroke-width="1" />
<line x1="425.78" y1="58.2" x2="425.78" y2="54.7" stroke="#555555" stroke-width="1" />
<line x1="470.14" y1="58.2" x2="470.14" y2="54.7" stroke="#555555" stroke-width="1" />
<line x1="514.5" y1="58.2" x2="514.5" y2="54.7" stroke="#555555" stroke-width="1" />
<line x1="558.86" y1="58.2" x2="558.86" y2="54.7" stroke="#555555" stroke-width="1" />
<line x1="603.22" y1="58.2" x2="603.22" y2="54.7" stroke="#555555" stroke-width="1" />
<line x1="447.96" y1="58.2" x2="447.96" y2="56" stroke="#555555" stroke-width="1" />
<line x1="492.32" y1="58.2" x2="492.32" y2="56" stroke="#555555" stroke-width="1" />
<line x1="536.68" y1="58.2" x2="536.68" y2="56" stroke="#555555" stroke-width="1" />
<line x1="581.04" y1="58.2" x2="581.04" y2="56" stroke="#555555" stroke-width="1" />
<line x1="625.4" y1="58.2" x2="625.4" y2="56" stroke="#555555" stroke-width="1" />
<text x="400.4" y="58.5" font-size="10.9" fill="#231f20" stroke="#231f20" stroke-width="0.22" text-anchor="end" >0.0</text>
<text x="651.2" y="58.5" font-size="10.9" fill="#231f20" stroke="#231f20" stroke-width="0.22" text-anchor="start" >0.0</text>
<text x="400.4" y="41.15" font-size="10.9" fill="#231f20" stroke="#231f20" stroke-width="0.22" text-anchor="end" >0.5</text>
<text x="651.2" y="41.15" font-size="10.9" fill="#231f20" stroke="#231f20" stroke-width="0.22" text-anchor="start" >0.5</text>
<text x="400.4" y="20.9" font-size="10.9" fill="#231f20" stroke="#231f20" stroke-width="0.22" text-anchor="end" >1.0</text>
<text x="651.2" y="20.9" font-size="10.9" fill="#231f20" stroke="#231f20" stroke-width="0.22" text-anchor="start" >1.0</text>
<line x1="403.6" y1="109.7" x2="406.6" y2="109.7" stroke="#555555" stroke-width="1" />
<line x1="648" y1="109.7" x2="645" y2="109.7" stroke="#555555" stroke-width="1" />
<line x1="403.6" y1="99.38" x2="405.6" y2="99.38" stroke="#555555" stroke-width="1" />
<line x1="648" y1="99.38" x2="646" y2="99.38" stroke="#555555" stroke-width="1" />
<line x1="403.6" y1="89.05" x2="406.6" y2="89.05" stroke="#555555" stroke-width="1" />
<line x1="648" y1="89.05" x2="645" y2="89.05" stroke="#555555" stroke-width="1" />
<line x1="403.6" y1="78.73" x2="405.6" y2="78.73" stroke="#555555" stroke-width="1" />
<line x1="648" y1="78.73" x2="646" y2="78.73" stroke="#555555" stroke-width="1" />
<line x1="403.6" y1="68.4" x2="406.6" y2="68.4" stroke="#555555" stroke-width="1" />
<line x1="648" y1="68.4" x2="645" y2="68.4" stroke="#555555" stroke-width="1" />
<line x1="425.78" y1="109.7" x2="425.78" y2="106.2" stroke="#555555" stroke-width="1" />
<line x1="470.14" y1="109.7" x2="470.14" y2="106.2" stroke="#555555" stroke-width="1" />
<line x1="514.5" y1="109.7" x2="514.5" y2="106.2" stroke="#555555" stroke-width="1" />
<line x1="558.86" y1="109.7" x2="558.86" y2="106.2" stroke="#555555" stroke-width="1" />
<line x1="603.22" y1="109.7" x2="603.22" y2="106.2" stroke="#555555" stroke-width="1" />
<line x1="447.96" y1="109.7" x2="447.96" y2="107.5" stroke="#555555" stroke-width="1" />
<line x1="492.32" y1="109.7" x2="492.32" y2="107.5" stroke="#555555" stroke-width="1" />
<line x1="536.68" y1="109.7" x2="536.68" y2="107.5" stroke="#555555" stroke-width="1" />
<line x1="581.04" y1="109.7" x2="581.04" y2="107.5" stroke="#555555" stroke-width="1" />
<line x1="625.4" y1="109.7" x2="625.4" y2="107.5" stroke="#555555" stroke-width="1" />
<text x="400.4" y="110" font-size="10.9" fill="#231f20" stroke="#231f20" stroke-width="0.22" text-anchor="end" >0.0</text>
<text x="651.2" y="110" font-size="10.9" fill="#231f20" stroke="#231f20" stroke-width="0.22" text-anchor="start" >0.0</text>
<text x="400.4" y="92.65" font-size="10.9" fill="#231f20" stroke="#231f20" stroke-width="0.22" text-anchor="end" >0.5</text>
<text x="651.2" y="92.65" font-size="10.9" fill="#231f20" stroke="#231f20" stroke-width="0.22" text-anchor="start" >0.5</text>
<text x="400.4" y="72.4" font-size="10.9" fill="#231f20" stroke="#231f20" stroke-width="0.22" text-anchor="end" >1.0</text>
<text x="651.2" y="72.4" font-size="10.9" fill="#231f20" stroke="#231f20" stroke-width="0.22" text-anchor="start" >1.0</text>
<line x1="403.6" y1="161.3" x2="406.6" y2="161.3" stroke="#555555" stroke-width="1" />
<line x1="648" y1="161.3" x2="645" y2="161.3" stroke="#555555" stroke-width="1" />
<line x1="403.6" y1="150.98" x2="405.6" y2="150.98" stroke="#555555" stroke-width="1" />
<line x1="648" y1="150.98" x2="646" y2="150.98" stroke="#555555" stroke-width="1" />
<line x1="403.6" y1="140.65" x2="406.6" y2="140.65" stroke="#555555" stroke-width="1" />
<line x1="648" y1="140.65" x2="645" y2="140.65" stroke="#555555" stroke-width="1" />
<line x1="403.6" y1="130.33" x2="405.6" y2="130.33" stroke="#555555" stroke-width="1" />
<line x1="648" y1="130.33" x2="646" y2="130.33" stroke="#555555" stroke-width="1" />
<line x1="403.6" y1="120" x2="406.6" y2="120" stroke="#555555" stroke-width="1" />
<line x1="648" y1="120" x2="645" y2="120" stroke="#555555" stroke-width="1" />
<line x1="425.78" y1="161.3" x2="425.78" y2="157.8" stroke="#555555" stroke-width="1" />
<line x1="470.14" y1="161.3" x2="470.14" y2="157.8" stroke="#555555" stroke-width="1" />
<line x1="514.5" y1="161.3" x2="514.5" y2="157.8" stroke="#555555" stroke-width="1" />
<line x1="558.86" y1="161.3" x2="558.86" y2="157.8" stroke="#555555" stroke-width="1" />
<line x1="603.22" y1="161.3" x2="603.22" y2="157.8" stroke="#555555" stroke-width="1" />
<line x1="447.96" y1="161.3" x2="447.96" y2="159.1" stroke="#555555" stroke-width="1" />
<line x1="492.32" y1="161.3" x2="492.32" y2="159.1" stroke="#555555" stroke-width="1" />
<line x1="536.68" y1="161.3" x2="536.68" y2="159.1" stroke="#555555" stroke-width="1" />
<line x1="581.04" y1="161.3" x2="581.04" y2="159.1" stroke="#555555" stroke-width="1" />
<line x1="625.4" y1="161.3" x2="625.4" y2="159.1" stroke="#555555" stroke-width="1" />
<text x="400.4" y="161.6" font-size="10.9" fill="#231f20" stroke="#231f20" stroke-width="0.22" text-anchor="end" >0.0</text>
<text x="651.2" y="161.6" font-size="10.9" fill="#231f20" stroke="#231f20" stroke-width="0.22" text-anchor="start" >0.0</text>
<text x="400.4" y="144.25" font-size="10.9" fill="#231f20" stroke="#231f20" stroke-width="0.22" text-anchor="end" >0.5</text>
<text x="651.2" y="144.25" font-size="10.9" fill="#231f20" stroke="#231f20" stroke-width="0.22" text-anchor="start" >0.5</text>
<text x="400.4" y="124" font-size="10.9" fill="#231f20" stroke="#231f20" stroke-width="0.22" text-anchor="end" >1.0</text>
<text x="651.2" y="124" font-size="10.9" fill="#231f20" stroke="#231f20" stroke-width="0.22" text-anchor="start" >1.0</text>
<line x1="403.6" y1="213.2" x2="406.6" y2="213.2" stroke="#555555" stroke-width="1" />
<line x1="648" y1="213.2" x2="645" y2="213.2" stroke="#555555" stroke-width="1" />
<line x1="403.6" y1="202.88" x2="405.6" y2="202.88" stroke="#555555" stroke-width="1" />
<line x1="648" y1="202.88" x2="646" y2="202.88" stroke="#555555" stroke-width="1" />
<line x1="403.6" y1="192.55" x2="406.6" y2="192.55" stroke="#555555" stroke-width="1" />
<line x1="648" y1="192.55" x2="645" y2="192.55" stroke="#555555" stroke-width="1" />
<line x1="403.6" y1="182.22" x2="405.6" y2="182.22" stroke="#555555" stroke-width="1" />
<line x1="648" y1="182.22" x2="646" y2="182.22" stroke="#555555" stroke-width="1" />
<line x1="403.6" y1="171.9" x2="406.6" y2="171.9" stroke="#555555" stroke-width="1" />
<line x1="648" y1="171.9" x2="645" y2="171.9" stroke="#555555" stroke-width="1" />
<line x1="425.78" y1="213.2" x2="425.78" y2="209.7" stroke="#555555" stroke-width="1" />
<line x1="470.14" y1="213.2" x2="470.14" y2="209.7" stroke="#555555" stroke-width="1" />
<line x1="514.5" y1="213.2" x2="514.5" y2="209.7" stroke="#555555" stroke-width="1" />
<line x1="558.86" y1="213.2" x2="558.86" y2="209.7" stroke="#555555" stroke-width="1" />
<line x1="603.22" y1="213.2" x2="603.22" y2="209.7" stroke="#555555" stroke-width="1" />
<line x1="447.96" y1="213.2" x2="447.96" y2="211" stroke="#555555" stroke-width="1" />
<line x1="492.32" y1="213.2" x2="492.32" y2="211" stroke="#555555" stroke-width="1" />
<line x1="536.68" y1="213.2" x2="536.68" y2="211" stroke="#555555" stroke-width="1" />
<line x1="581.04" y1="213.2" x2="581.04" y2="211" stroke="#555555" stroke-width="1" />
<line x1="625.4" y1="213.2" x2="625.4" y2="211" stroke="#555555" stroke-width="1" />
<text x="400.4" y="213.5" font-size="10.9" fill="#231f20" stroke="#231f20" stroke-width="0.22" text-anchor="end" >0.0</text>
<text x="651.2" y="213.5" font-size="10.9" fill="#231f20" stroke="#231f20" stroke-width="0.22" text-anchor="start" >0.0</text>
<text x="400.4" y="196.15" font-size="10.9" fill="#231f20" stroke="#231f20" stroke-width="0.22" text-anchor="end" >0.5</text>
<text x="651.2" y="196.15" font-size="10.9" fill="#231f20" stroke="#231f20" stroke-width="0.22" text-anchor="start" >0.5</text>
<text x="400.4" y="175.9" font-size="10.9" fill="#231f20" stroke="#231f20" stroke-width="0.22" text-anchor="end" >1.0</text>
<text x="651.2" y="175.9" font-size="10.9" fill="#231f20" stroke="#231f20" stroke-width="0.22" text-anchor="start" >1.0</text>
<text x="425.78" y="226.2" font-size="10.9" fill="#231f20" stroke="#231f20" stroke-width="0.22" text-anchor="middle" >300</text>
<text x="470.14" y="226.2" font-size="10.9" fill="#231f20" stroke="#231f20" stroke-width="0.22" text-anchor="middle" >400</text>
<text x="514.5" y="226.2" font-size="10.9" fill="#231f20" stroke="#231f20" stroke-width="0.22" text-anchor="middle" >500</text>
<text x="558.86" y="226.2" font-size="10.9" fill="#231f20" stroke="#231f20" stroke-width="0.22" text-anchor="middle" >600</text>
<text x="603.22" y="226.2" font-size="10.9" fill="#231f20" stroke="#231f20" stroke-width="0.22" text-anchor="middle" >700</text>
<text x="647.58" y="226.2" font-size="10.9" fill="#231f20" stroke="#231f20" stroke-width="0.22" text-anchor="middle" >800</text>
<text x="527" y="241" font-size="12" fill="#231f20" stroke="#231f20" stroke-width="0.22" text-anchor="middle" >Wavelength (nm)</text>
<text x="0" y="0" font-size="12" fill="#231f20" stroke="#231f20" stroke-width="0.22" text-anchor="middle" transform="translate(375.1,110.0) rotate(-90)">Abs. (Normalized)</text>
<text x="0" y="0" font-size="12.2" fill="#231f20" stroke="#231f20" stroke-width="0.22" text-anchor="middle" transform="translate(681.2,109.6) rotate(-90)">PL (Norm.)</text>
<line x1="410.4" y1="9.1" x2="428.5" y2="9.1" stroke="#444" stroke-width="1.1" />
<text x="431.3" y="12.8" font-size="10.9" fill="#231f20" stroke="#231f20" stroke-width="0.22" text-anchor="start" >FL in DCM</text>
<text x="642.3" y="12.1" font-size="10.9" fill="#3b2a2a" stroke="#3b2a2a" stroke-width="0.22" text-anchor="end" >2DBTSPO:1% TMB</text>
<line x1="566.8" y1="22.6" x2="584.3" y2="22.6" stroke="#2fb3ad" stroke-width="1.2" />
<text x="642.3" y="26.3" font-size="10.9" fill="#231f20" stroke="#231f20" stroke-width="0.22" text-anchor="end" >PH in DCM</text>
<text x="641.2" y="70.8" font-size="10.9" fill="#3b2a2a" stroke="#3b2a2a" stroke-width="0.22" text-anchor="end" >28DBTDPO:1% TMB</text>
<line x1="566.8" y1="80.2" x2="584.3" y2="80.2" stroke="#93c84a" stroke-width="1.2" />
<text x="587.6" y="83" font-size="10.9" fill="#231f20" stroke="#231f20" stroke-width="0.22" text-anchor="start" >PL in Film</text>
<line x1="566.8" y1="90" x2="584.3" y2="90" stroke="#2f9d5a" stroke-width="1.2" />
<text x="587.6" y="93.3" font-size="10.9" fill="#231f20" stroke="#231f20" stroke-width="0.22" text-anchor="start" >Afterglow</text>
<text x="641.9" y="122.1" font-size="10.9" fill="#3b2a2a" stroke="#3b2a2a" stroke-width="0.22" text-anchor="end" >4DBTSPO:1% TMB</text>
<text x="641.9" y="172.8" font-size="10.9" fill="#3b2a2a" stroke="#3b2a2a" stroke-width="0.22" text-anchor="end" >46DBTDPO:1% TMB</text>
<text x="449.3" y="122.5" font-size="10.9" fill="#3b2a2a" stroke="#3b2a2a" stroke-width="0.22" text-anchor="start" >2.7 eV</text>
<path d="M480,117.5 L495.5,111.9" stroke="#2a1616" stroke-width="1.1"/>
<path d="M500.8,110.2 L495.2,109.6 L496.6,114 Z" fill="#2a1616"/>
<line x1="98" y1="58.3" x2="165" y2="58.3" stroke="#333" stroke-width="0.9" />
<line x1="98" y1="109.6" x2="165" y2="109.6" stroke="#333" stroke-width="0.9" />
<line x1="98" y1="160.9" x2="165" y2="160.9" stroke="#333" stroke-width="0.9" />
<line x1="98" y1="212.5" x2="165" y2="212.5" stroke="#333" stroke-width="0.9" />
<line x1="452" y1="57.5" x2="505" y2="57.5" stroke="#333" stroke-width="0.9" />
<line x1="452" y1="109" x2="505" y2="109" stroke="#333" stroke-width="0.9" />
<line x1="452" y1="160.6" x2="505" y2="160.6" stroke="#333" stroke-width="0.9" />
<line x1="452" y1="212.5" x2="505" y2="212.5" stroke="#333" stroke-width="0.9" />
<text x="0" y="276.5" font-size="14.5" fill="#3b2c2c" stroke="#3b2c2c" stroke-width="0.22" text-anchor="start" >(c)</text>
<rect x="18.6" y="260.8" width="146.3" height="102.5" fill="#edf4ec"/>
<rect x="18.9" y="373.8" width="146.3" height="98.5" fill="#fcf3e8"/>
<text x="23.7" y="273.6" font-size="11" fill="#231f20" stroke="#231f20" stroke-width="0.22" text-anchor="start" >28DBTDPO</text>
<text x="98.2" y="273.5" font-size="11" fill="#231f20" stroke="#231f20" stroke-width="0.22" text-anchor="start" >28DBTDPO</text>
<text x="105.1" y="285.8" font-size="11" fill="#231f20" stroke="#231f20" stroke-width="0.22" text-anchor="start" >:1% TMB</text>
<path d="M121.3,307 L129.4,307 L129.4,341.8 L134.1,341.8 L125.3,357 L116.6,341.8 L121.3,341.8 Z" fill="url(#arrg)"/>
<line x1="98" y1="306" x2="152.4" y2="306" stroke="#7cbf45" stroke-width="3.4" />
<line x1="98" y1="318" x2="152.4" y2="318" stroke="#7cbf45" stroke-width="3.4" />
<path d="M97.5,317.5 C90.5,317 90.5,307 97.5,306.8" fill="none" stroke="#7cbf45" stroke-width="1.4"/>
<path d="M92.3,310.2 L95.6,306.6 L91.6,307.6 Z" fill="#7cbf45"/>
<path d="M152.8,306.5 C160,307 160,317 152.8,317.2" fill="none" stroke="#7cbf45" stroke-width="1.4"/>
<path d="M158.6,313.8 L155.2,317.4 L159.3,316.4 Z" fill="#7cbf45"/>
<text x="113.7" y="315.6" font-size="10.7" fill="#2a2020" stroke="#2a2020" stroke-width="0.22" text-anchor="start" >2.7 eV</text>
<text x="141" y="301" font-size="10.7" fill="#231f20"><tspan font-size="6.5" dy="-4">1</tspan><tspan dy="4">CT</tspan><tspan font-size="9.5" dy="-2.5">*</tspan></text>
<text x="141" y="332" font-size="10.7" fill="#231f20"><tspan font-size="6.5" dy="-4">3</tspan><tspan dy="4">CT</tspan><tspan font-size="9.5" dy="-2.5">*</tspan></text>
<text x="23.9" y="296.6" font-size="10" fill="#3fb55a">T<tspan font-size="7" dx="0.3" dy="-3.5">*</tspan><tspan font-size="5.5" dx="-3.6" dy="6">n</tspan></text>
<line x1="37.6" y1="293.3" x2="76.5" y2="293.3" stroke="#1ea24c" stroke-width="3.2" />
<path d="M75,293.3 C92,293.2 104,298 109.6,310.5" fill="none" stroke="#1ea24c" stroke-width="1.9"/>
<path d="M110.8,317.2 L106.4,309.6 L112.6,308.6 Z" fill="#1ea24c"/>
<text x="41.3" y="306.5" font-size="10.7" fill="#2a2020" stroke="#2a2020" stroke-width="0.22" text-anchor="start" >3.0 eV</text>
<text x="67" y="339.6" font-size="10.7" fill="#6cb64a" stroke="#6cb64a" stroke-width="0.22" text-anchor="start" >Afterglow</text>
<line x1="37.6" y1="357.3" x2="158.9" y2="357.3" stroke="#3a2a2a" stroke-width="1.3" />
<text x="24.2" y="359.3" font-size="11" fill="#231f20">S<tspan font-size="7.5" dy="1.5">0</tspan></text>
<text x="23.5" y="383" font-size="11" fill="#231f20" stroke="#231f20" stroke-width="0.22" text-anchor="start" >46DBTDPO</text>
<text x="98.2" y="383.5" font-size="11" fill="#231f20" stroke="#231f20" stroke-width="0.22" text-anchor="start" >46DBTDPO</text>
<text x="105.2" y="395.8" font-size="11" fill="#231f20" stroke="#231f20" stroke-width="0.22" text-anchor="start" >:1% TMB</text>
<path d="M121.3,416 L129.4,416 L129.4,451.8 L134.1,451.8 L125.3,465.8 L116.6,451.8 L121.3,451.8 Z" fill="url(#arrg)"/>
<line x1="98" y1="414.9" x2="152.4" y2="414.9" stroke="#7cbf45" stroke-width="3.4" />
<line x1="98" y1="426.9" x2="152.4" y2="426.9" stroke="#7cbf45" stroke-width="3.4" />
<path d="M97.5,426.4 C90.5,425.9 90.5,415.9 97.5,415.7" fill="none" stroke="#7cbf45" stroke-width="1.4"/>
<path d="M92.3,419.1 L95.6,415.5 L91.6,416.5 Z" fill="#7cbf45"/>
<path d="M152.8,415.4 C160,415.9 160,425.9 152.8,426.1" fill="none" stroke="#7cbf45" stroke-width="1.4"/>
<path d="M158.6,422.7 L155.2,426.3 L159.3,425.3 Z" fill="#7cbf45"/>
<text x="113.7" y="424.7" font-size="10.7" fill="#2a2020" stroke="#2a2020" stroke-width="0.22" text-anchor="start" >2.7 eV</text>
<text x="141" y="409.5" font-size="10.7" fill="#231f20"><tspan font-size="6.5" dy="-4">1</tspan><tspan dy="4">CT</tspan><tspan font-size="9.5" dy="-2.5">*</tspan></text>
<text x="141" y="440.3" font-size="10.7" fill="#231f20"><tspan font-size="6.5" dy="-4">3</tspan><tspan dy="4">CT</tspan><tspan font-size="9.5" dy="-2.5">*</tspan></text>
<text x="24" y="437.3" font-size="10" fill="#f0a040">T<tspan font-size="7" dx="0.3" dy="-3.5">*</tspan><tspan font-size="5.5" dx="-3.6" dy="6">n</tspan></text>
<line x1="38.1" y1="435.9" x2="75.2" y2="435.9" stroke="#ef992c" stroke-width="2.8" />
<path d="M74.2,435.4 C76,429.5 81,427.5 89,427.2" fill="none" stroke="#ef992c" stroke-width="1.5"/>
<path d="M88.5,424.6 L97.4,426.9 L88.8,430.0 Z" fill="#fff6ec" stroke="#ef992c" stroke-width="1.1" stroke-linejoin="round"/>
<text x="40.9" y="430.6" font-size="10.7" fill="#2a2020" stroke="#2a2020" stroke-width="0.22" text-anchor="start" >2.6 eV</text>
<text x="67" y="454.2" font-size="10.7" fill="#6cb64a" stroke="#6cb64a" stroke-width="0.22" text-anchor="start" >Afterglow</text>
<line x1="37.5" y1="466.3" x2="159.1" y2="466.3" stroke="#3a2a2a" stroke-width="1.3" />
<text x="23.5" y="469" font-size="11" fill="#231f20">S<tspan font-size="7.5" dy="1.5">0</tspan></text>
<g filter="url(#jet)"><rect x="242.2" y="261" width="200.6" height="2" fill="url(#h1)"/><rect x="242.2" y="262" width="200.6" height="2" fill="url(#h2)"/><rect x="242.2" y="263" width="200.6" height="2" fill="url(#h3)"/><rect x="242.2" y="264" width="200.6" height="2" fill="url(#h4)"/><rect x="242.2" y="265" width="200.6" height="2" fill="url(#h5)"/><rect x="242.2" y="266" width="200.6" height="2" fill="url(#h6)"/><rect x="242.2" y="267" width="200.6" height="2" fill="url(#h7)"/><rect x="242.2" y="268" width="200.6" height="2" fill="url(#h8)"/><rect x="242.2" y="269" width="200.6" height="2" fill="url(#h9)"/><rect x="242.2" y="270" width="200.6" height="2" fill="url(#h10)"/><rect x="242.2" y="271" width="200.6" height="2" fill="url(#h11)"/><rect x="242.2" y="272" width="200.6" height="2" fill="url(#h12)"/><rect x="242.2" y="273" width="200.6" height="2" fill="url(#h13)"/><rect x="242.2" y="274" width="200.6" height="2" fill="url(#h14)"/><rect x="242.2" y="275" width="200.6" height="2" fill="url(#h15)"/><rect x="242.2" y="276" width="200.6" height="2" fill="url(#h16)"/><rect x="242.2" y="277" width="200.6" height="2" fill="url(#h17)"/><rect x="242.2" y="278" width="200.6" height="2" fill="url(#h18)"/><rect x="242.2" y="279" width="200.6" height="2" fill="url(#h19)"/><rect x="242.2" y="280" width="200.6" height="2" fill="url(#h20)"/><rect x="242.2" y="281" width="200.6" height="2" fill="url(#h21)"/><rect x="242.2" y="282" width="200.6" height="2" fill="url(#h22)"/><rect x="242.2" y="283" width="200.6" height="2" fill="url(#h23)"/><rect x="242.2" y="284" width="200.6" height="2" fill="url(#h24)"/><rect x="242.2" y="285" width="200.6" height="2" fill="url(#h25)"/><rect x="242.2" y="286" width="200.6" height="2" fill="url(#h26)"/><rect x="242.2" y="287" width="200.6" height="2" fill="url(#h27)"/><rect x="242.2" y="288" width="200.6" height="2" fill="url(#h28)"/><rect x="242.2" y="289" width="200.6" height="2" fill="url(#h29)"/><rect x="242.2" y="290" width="200.6" height="2" fill="url(#h30)"/><rect x="242.2" y="291" width="200.6" height="2" fill="url(#h31)"/><rect x="242.2" y="292" width="200.6" height="2" fill="url(#h32)"/><rect x="242.2" y="293" width="200.6" height="2" fill="url(#h33)"/><rect x="242.2" y="294" width="200.6" height="2" fill="url(#h34)"/><rect x="242.2" y="295" width="200.6" height="2" fill="url(#h35)"/><rect x="242.2" y="296" width="200.6" height="2" fill="url(#h36)"/><rect x="242.2" y="297" width="200.6" height="2" fill="url(#h37)"/><rect x="242.2" y="298" width="200.6" height="2" fill="url(#h38)"/><rect x="242.2" y="299" width="200.6" height="2" fill="url(#h39)"/><rect x="242.2" y="300" width="200.6" height="2" fill="url(#h40)"/><rect x="242.2" y="301" width="200.6" height="2" fill="url(#h41)"/><rect x="242.2" y="302" width="200.6" height="2" fill="url(#h42)"/><rect x="242.2" y="303" width="200.6" height="2" fill="url(#h43)"/><rect x="242.2" y="304" width="200.6" height="2" fill="url(#h44)"/><rect x="242.2" y="305" width="200.6" height="2" fill="url(#h45)"/><rect x="242.2" y="306" width="200.6" height="2" fill="url(#h46)"/><rect x="242.2" y="307" width="200.6" height="1" fill="url(#h47)"/></g>
<g filter="url(#jet)"><rect x="446" y="261" width="202" height="2" fill="url(#h48)"/><rect x="446" y="262" width="202" height="2" fill="url(#h49)"/><rect x="446" y="263" width="202" height="2" fill="url(#h50)"/><rect x="446" y="264" width="202" height="2" fill="url(#h51)"/><rect x="446" y="265" width="202" height="2" fill="url(#h52)"/><rect x="446" y="266" width="202" height="2" fill="url(#h53)"/><rect x="446" y="267" width="202" height="2" fill="url(#h54)"/><rect x="446" y="268" width="202" height="2" fill="url(#h55)"/><rect x="446" y="269" width="202" height="2" fill="url(#h56)"/><rect x="446" y="270" width="202" height="2" fill="url(#h57)"/><rect x="446" y="271" width="202" height="2" fill="url(#h58)"/><rect x="446" y="272" width="202" height="2" fill="url(#h59)"/><rect x="446" y="273" width="202" height="2" fill="url(#h60)"/><rect x="446" y="274" width="202" height="2" fill="url(#h61)"/><rect x="446" y="275" width="202" height="2" fill="url(#h62)"/><rect x="446" y="276" width="202" height="2" fill="url(#h63)"/><rect x="446" y="277" width="202" height="2" fill="url(#h64)"/><rect x="446" y="278" width="202" height="2" fill="url(#h65)"/><rect x="446" y="279" width="202" height="2" fill="url(#h66)"/><rect x="446" y="280" width="202" height="2" fill="url(#h67)"/><rect x="446" y="281" width="202" height="2" fill="url(#h68)"/><rect x="446" y="282" width="202" height="2" fill="url(#h69)"/><rect x="446" y="283" width="202" height="2" fill="url(#h70)"/><rect x="446" y="284" width="202" height="2" fill="url(#h71)"/><rect x="446" y="285" width="202" height="2" fill="url(#h72)"/><rect x="446" y="286" width="202" height="2" fill="url(#h73)"/><rect x="446" y="287" width="202" height="2" fill="url(#h74)"/><rect x="446" y="288" width="202" height="2" fill="url(#h75)"/><rect x="446" y="289" width="202" height="2" fill="url(#h76)"/><rect x="446" y="290" width="202" height="2" fill="url(#h77)"/><rect x="446" y="291" width="202" height="2" fill="url(#h78)"/><rect x="446" y="292" width="202" height="2" fill="url(#h79)"/><rect x="446" y="293" width="202" height="2" fill="url(#h80)"/><rect x="446" y="294" width="202" height="2" fill="url(#h81)"/><rect x="446" y="295" width="202" height="2" fill="url(#h82)"/><rect x="446" y="296" width="202" height="2" fill="url(#h83)"/><rect x="446" y="297" width="202" height="2" fill="url(#h84)"/><rect x="446" y="298" width="202" height="2" fill="url(#h85)"/><rect x="446" y="299" width="202" height="2" fill="url(#h86)"/><rect x="446" y="300" width="202" height="2" fill="url(#h87)"/><rect x="446" y="301" width="202" height="2" fill="url(#h88)"/><rect x="446" y="302" width="202" height="2" fill="url(#h89)"/><rect x="446" y="303" width="202" height="2" fill="url(#h90)"/><rect x="446" y="304" width="202" height="2" fill="url(#h91)"/><rect x="446" y="305" width="202" height="2" fill="url(#h92)"/><rect x="446" y="306" width="202" height="2" fill="url(#h93)"/><rect x="446" y="307" width="202" height="1" fill="url(#h94)"/></g>
<g filter="url(#jet)"><rect x="242.2" y="308" width="200.6" height="2" fill="url(#h95)"/><rect x="242.2" y="309" width="200.6" height="2" fill="url(#h96)"/><rect x="242.2" y="310" width="200.6" height="2" fill="url(#h97)"/><rect x="242.2" y="311" width="200.6" height="2" fill="url(#h98)"/><rect x="242.2" y="312" width="200.6" height="2" fill="url(#h99)"/><rect x="242.2" y="313" width="200.6" height="2" fill="url(#h100)"/><rect x="242.2" y="314" width="200.6" height="2" fill="url(#h101)"/><rect x="242.2" y="315" width="200.6" height="2" fill="url(#h102)"/><rect x="242.2" y="316" width="200.6" height="2" fill="url(#h103)"/><rect x="242.2" y="317" width="200.6" height="2" fill="url(#h104)"/><rect x="242.2" y="318" width="200.6" height="2" fill="url(#h105)"/><rect x="242.2" y="319" width="200.6" height="2" fill="url(#h106)"/><rect x="242.2" y="320" width="200.6" height="2" fill="url(#h107)"/><rect x="242.2" y="321" width="200.6" height="2" fill="url(#h108)"/><rect x="242.2" y="322" width="200.6" height="2" fill="url(#h109)"/><rect x="242.2" y="323" width="200.6" height="2" fill="url(#h110)"/><rect x="242.2" y="324" width="200.6" height="2" fill="url(#h111)"/><rect x="242.2" y="325" width="200.6" height="2" fill="url(#h112)"/><rect x="242.2" y="326" width="200.6" height="2" fill="url(#h113)"/><rect x="242.2" y="327" width="200.6" height="2" fill="url(#h114)"/><rect x="242.2" y="328" width="200.6" height="2" fill="url(#h115)"/><rect x="242.2" y="329" width="200.6" height="2" fill="url(#h116)"/><rect x="242.2" y="330" width="200.6" height="2" fill="url(#h117)"/><rect x="242.2" y="331" width="200.6" height="2" fill="url(#h118)"/><rect x="242.2" y="332" width="200.6" height="2" fill="url(#h119)"/><rect x="242.2" y="333" width="200.6" height="2" fill="url(#h120)"/><rect x="242.2" y="334" width="200.6" height="2" fill="url(#h121)"/><rect x="242.2" y="335" width="200.6" height="2" fill="url(#h122)"/><rect x="242.2" y="336" width="200.6" height="2" fill="url(#h123)"/><rect x="242.2" y="337" width="200.6" height="2" fill="url(#h124)"/><rect x="242.2" y="338" width="200.6" height="2" fill="url(#h125)"/><rect x="242.2" y="339" width="200.6" height="2" fill="url(#h126)"/><rect x="242.2" y="340" width="200.6" height="2" fill="url(#h127)"/><rect x="242.2" y="341" width="200.6" height="2" fill="url(#h128)"/><rect x="242.2" y="342" width="200.6" height="2" fill="url(#h129)"/><rect x="242.2" y="343" width="200.6" height="2" fill="url(#h130)"/><rect x="242.2" y="344" width="200.6" height="2" fill="url(#h131)"/><rect x="242.2" y="345" width="200.6" height="2" fill="url(#h132)"/><rect x="242.2" y="346" width="200.6" height="2" fill="url(#h133)"/><rect x="242.2" y="347" width="200.6" height="2" fill="url(#h134)"/><rect x="242.2" y="348" width="200.6" height="2" fill="url(#h135)"/><rect x="242.2" y="349" width="200.6" height="2" fill="url(#h136)"/><rect x="242.2" y="350" width="200.6" height="2" fill="url(#h137)"/><rect x="242.2" y="351" width="200.6" height="2" fill="url(#h138)"/><rect x="242.2" y="352" width="200.6" height="2" fill="url(#h139)"/><rect x="242.2" y="353" width="200.6" height="1" fill="url(#h140)"/></g>
<g filter="url(#jet)"><rect x="446" y="308" width="202" height="2" fill="url(#h141)"/><rect x="446" y="309" width="202" height="2" fill="url(#h142)"/><rect x="446" y="310" width="202" height="2" fill="url(#h143)"/><rect x="446" y="311" width="202" height="2" fill="url(#h144)"/><rect x="446" y="312" width="202" height="2" fill="url(#h145)"/><rect x="446" y="313" width="202" height="2" fill="url(#h146)"/><rect x="446" y="314" width="202" height="2" fill="url(#h147)"/><rect x="446" y="315" width="202" height="2" fill="url(#h148)"/><rect x="446" y="316" width="202" height="2" fill="url(#h149)"/><rect x="446" y="317" width="202" height="2" fill="url(#h150)"/><rect x="446" y="318" width="202" height="2" fill="url(#h151)"/><rect x="446" y="319" width="202" height="2" fill="url(#h152)"/><rect x="446" y="320" width="202" height="2" fill="url(#h153)"/><rect x="446" y="321" width="202" height="2" fill="url(#h154)"/><rect x="446" y="322" width="202" height="2" fill="url(#h155)"/><rect x="446" y="323" width="202" height="2" fill="url(#h156)"/><rect x="446" y="324" width="202" height="2" fill="url(#h157)"/><rect x="446" y="325" width="202" height="2" fill="url(#h158)"/><rect x="446" y="326" width="202" height="2" fill="url(#h159)"/><rect x="446" y="327" width="202" height="2" fill="url(#h160)"/><rect x="446" y="328" width="202" height="2" fill="url(#h161)"/><rect x="446" y="329" width="202" height="2" fill="url(#h162)"/><rect x="446" y="330" width="202" height="2" fill="url(#h163)"/><rect x="446" y="331" width="202" height="2" fill="url(#h164)"/><rect x="446" y="332" width="202" height="2" fill="url(#h165)"/><rect x="446" y="333" width="202" height="2" fill="url(#h166)"/><rect x="446" y="334" width="202" height="2" fill="url(#h167)"/><rect x="446" y="335" width="202" height="2" fill="url(#h168)"/><rect x="446" y="336" width="202" height="2" fill="url(#h169)"/><rect x="446" y="337" width="202" height="2" fill="url(#h170)"/><rect x="446" y="338" width="202" height="2" fill="url(#h171)"/><rect x="446" y="339" width="202" height="2" fill="url(#h172)"/><rect x="446" y="340" width="202" height="2" fill="url(#h173)"/><rect x="446" y="341" width="202" height="2" fill="url(#h174)"/><rect x="446" y="342" width="202" height="2" fill="url(#h175)"/><rect x="446" y="343" width="202" height="2" fill="url(#h176)"/><rect x="446" y="344" width="202" height="2" fill="url(#h177)"/><rect x="446" y="345" width="202" height="2" fill="url(#h178)"/><rect x="446" y="346" width="202" height="2" fill="url(#h179)"/><rect x="446" y="347" width="202" height="2" fill="url(#h180)"/><rect x="446" y="348" width="202" height="2" fill="url(#h181)"/><rect x="446" y="349" width="202" height="2" fill="url(#h182)"/><rect x="446" y="350" width="202" height="2" fill="url(#h183)"/><rect x="446" y="351" width="202" height="2" fill="url(#h184)"/><rect x="446" y="352" width="202" height="2" fill="url(#h185)"/><rect x="446" y="353" width="202" height="1" fill="url(#h186)"/></g>
<g filter="url(#jet)"><rect x="242.2" y="354" width="200.6" height="2" fill="url(#h187)"/><rect x="242.2" y="355" width="200.6" height="2" fill="url(#h188)"/><rect x="242.2" y="356" width="200.6" height="2" fill="url(#h189)"/><rect x="242.2" y="357" width="200.6" height="2" fill="url(#h190)"/><rect x="242.2" y="358" width="200.6" height="2" fill="url(#h191)"/><rect x="242.2" y="359" width="200.6" height="2" fill="url(#h192)"/><rect x="242.2" y="360" width="200.6" height="2" fill="url(#h193)"/><rect x="242.2" y="361" width="200.6" height="2" fill="url(#h194)"/><rect x="242.2" y="362" width="200.6" height="2" fill="url(#h195)"/><rect x="242.2" y="363" width="200.6" height="2" fill="url(#h196)"/><rect x="242.2" y="364" width="200.6" height="2" fill="url(#h197)"/><rect x="242.2" y="365" width="200.6" height="2" fill="url(#h198)"/><rect x="242.2" y="366" width="200.6" height="2" fill="url(#h199)"/><rect x="242.2" y="367" width="200.6" height="2" fill="url(#h200)"/><rect x="242.2" y="368" width="200.6" height="2" fill="url(#h201)"/><rect x="242.2" y="369" width="200.6" height="2" fill="url(#h202)"/><rect x="242.2" y="370" width="200.6" height="2" fill="url(#h203)"/><rect x="242.2" y="371" width="200.6" height="2" fill="url(#h204)"/><rect x="242.2" y="372" width="200.6" height="2" fill="url(#h205)"/><rect x="242.2" y="373" width="200.6" height="2" fill="url(#h206)"/><rect x="242.2" y="374" width="200.6" height="2" fill="url(#h207)"/><rect x="242.2" y="375" width="200.6" height="2" fill="url(#h208)"/><rect x="242.2" y="376" width="200.6" height="2" fill="url(#h209)"/><rect x="242.2" y="377" width="200.6" height="2" fill="url(#h210)"/><rect x="242.2" y="378" width="200.6" height="2" fill="url(#h211)"/><rect x="242.2" y="379" width="200.6" height="2" fill="url(#h212)"/><rect x="242.2" y="380" width="200.6" height="2" fill="url(#h213)"/><rect x="242.2" y="381" width="200.6" height="2" fill="url(#h214)"/><rect x="242.2" y="382" width="200.6" height="2" fill="url(#h215)"/><rect x="242.2" y="383" width="200.6" height="2" fill="url(#h216)"/><rect x="242.2" y="384" width="200.6" height="2" fill="url(#h217)"/><rect x="242.2" y="385" width="200.6" height="2" fill="url(#h218)"/><rect x="242.2" y="386" width="200.6" height="2" fill="url(#h219)"/><rect x="242.2" y="387" width="200.6" height="2" fill="url(#h220)"/><rect x="242.2" y="388" width="200.6" height="2" fill="url(#h221)"/><rect x="242.2" y="389" width="200.6" height="2" fill="url(#h222)"/><rect x="242.2" y="390" width="200.6" height="2" fill="url(#h223)"/><rect x="242.2" y="391" width="200.6" height="2" fill="url(#h224)"/><rect x="242.2" y="392" width="200.6" height="2" fill="url(#h225)"/><rect x="242.2" y="393" width="200.6" height="2" fill="url(#h226)"/><rect x="242.2" y="394" width="200.6" height="2" fill="url(#h227)"/><rect x="242.2" y="395" width="200.6" height="2" fill="url(#h228)"/><rect x="242.2" y="396" width="200.6" height="2" fill="url(#h229)"/><rect x="242.2" y="397" width="200.6" height="2" fill="url(#h230)"/><rect x="242.2" y="398" width="200.6" height="2" fill="url(#h231)"/><rect x="242.2" y="399" width="200.6" height="0.8" fill="url(#h232)"/></g>
<g filter="url(#jet)"><rect x="446" y="354" width="202" height="2" fill="url(#h233)"/><rect x="446" y="355" width="202" height="2" fill="url(#h234)"/><rect x="446" y="356" width="202" height="2" fill="url(#h235)"/><rect x="446" y="357" width="202" height="2" fill="url(#h236)"/><rect x="446" y="358" width="202" height="2" fill="url(#h237)"/><rect x="446" y="359" width="202" height="2" fill="url(#h238)"/><rect x="446" y="360" width="202" height="2" fill="url(#h239)"/><rect x="446" y="361" width="202" height="2" fill="url(#h240)"/><rect x="446" y="362" width="202" height="2" fill="url(#h241)"/><rect x="446" y="363" width="202" height="2" fill="url(#h242)"/><rect x="446" y="364" width="202" height="2" fill="url(#h243)"/><rect x="446" y="365" width="202" height="2" fill="url(#h244)"/><rect x="446" y="366" width="202" height="2" fill="url(#h245)"/><rect x="446" y="367" width="202" height="2" fill="url(#h246)"/><rect x="446" y="368" width="202" height="2" fill="url(#h247)"/><rect x="446" y="369" width="202" height="2" fill="url(#h248)"/><rect x="446" y="370" width="202" height="2" fill="url(#h249)"/><rect x="446" y="371" width="202" height="2" fill="url(#h250)"/><rect x="446" y="372" width="202" height="2" fill="url(#h251)"/><rect x="446" y="373" width="202" height="2" fill="url(#h252)"/><rect x="446" y="374" width="202" height="2" fill="url(#h253)"/><rect x="446" y="375" width="202" height="2" fill="url(#h254)"/><rect x="446" y="376" width="202" height="2" fill="url(#h255)"/><rect x="446" y="377" width="202" height="2" fill="url(#h256)"/><rect x="446" y="378" width="202" height="2" fill="url(#h257)"/><rect x="446" y="379" width="202" height="2" fill="url(#h258)"/><rect x="446" y="380" width="202" height="2" fill="url(#h259)"/><rect x="446" y="381" width="202" height="2" fill="url(#h260)"/><rect x="446" y="382" width="202" height="2" fill="url(#h261)"/><rect x="446" y="383" width="202" height="2" fill="url(#h262)"/><rect x="446" y="384" width="202" height="2" fill="url(#h263)"/><rect x="446" y="385" width="202" height="2" fill="url(#h264)"/><rect x="446" y="386" width="202" height="2" fill="url(#h265)"/><rect x="446" y="387" width="202" height="2" fill="url(#h266)"/><rect x="446" y="388" width="202" height="2" fill="url(#h267)"/><rect x="446" y="389" width="202" height="2" fill="url(#h268)"/><rect x="446" y="390" width="202" height="2" fill="url(#h269)"/><rect x="446" y="391" width="202" height="2" fill="url(#h270)"/><rect x="446" y="392" width="202" height="2" fill="url(#h271)"/><rect x="446" y="393" width="202" height="2" fill="url(#h272)"/><rect x="446" y="394" width="202" height="2" fill="url(#h273)"/><rect x="446" y="395" width="202" height="2" fill="url(#h274)"/><rect x="446" y="396" width="202" height="2" fill="url(#h275)"/><rect x="446" y="397" width="202" height="2" fill="url(#h276)"/><rect x="446" y="398" width="202" height="2" fill="url(#h277)"/><rect x="446" y="399" width="202" height="0.8" fill="url(#h278)"/></g>
<g filter="url(#jet)"><rect x="242.2" y="399.8" width="200.6" height="2" fill="url(#h279)"/><rect x="242.2" y="400.8" width="200.6" height="2" fill="url(#h280)"/><rect x="242.2" y="401.8" width="200.6" height="2" fill="url(#h281)"/><rect x="242.2" y="402.8" width="200.6" height="2" fill="url(#h282)"/><rect x="242.2" y="403.8" width="200.6" height="2" fill="url(#h283)"/><rect x="242.2" y="404.8" width="200.6" height="2" fill="url(#h284)"/><rect x="242.2" y="405.8" width="200.6" height="2" fill="url(#h285)"/><rect x="242.2" y="406.8" width="200.6" height="2" fill="url(#h286)"/><rect x="242.2" y="407.8" width="200.6" height="2" fill="url(#h287)"/><rect x="242.2" y="408.8" width="200.6" height="2" fill="url(#h288)"/><rect x="242.2" y="409.8" width="200.6" height="2" fill="url(#h289)"/><rect x="242.2" y="410.8" width="200.6" height="2" fill="url(#h290)"/><rect x="242.2" y="411.8" width="200.6" height="2" fill="url(#h291)"/><rect x="242.2" y="412.8" width="200.6" height="2" fill="url(#h292)"/><rect x="242.2" y="413.8" width="200.6" height="2" fill="url(#h293)"/><rect x="242.2" y="414.8" width="200.6" height="2" fill="url(#h294)"/><rect x="242.2" y="415.8" width="200.6" height="2" fill="url(#h295)"/><rect x="242.2" y="416.8" width="200.6" height="2" fill="url(#h296)"/><rect x="242.2" y="417.8" width="200.6" height="2" fill="url(#h297)"/><rect x="242.2" y="418.8" width="200.6" height="2" fill="url(#h298)"/><rect x="242.2" y="419.8" width="200.6" height="2" fill="url(#h299)"/><rect x="242.2" y="420.8" width="200.6" height="2" fill="url(#h300)"/><rect x="242.2" y="421.8" width="200.6" height="2" fill="url(#h301)"/><rect x="242.2" y="422.8" width="200.6" height="2" fill="url(#h302)"/><rect x="242.2" y="423.8" width="200.6" height="2" fill="url(#h303)"/><rect x="242.2" y="424.8" width="200.6" height="2" fill="url(#h304)"/><rect x="242.2" y="425.8" width="200.6" height="2" fill="url(#h305)"/><rect x="242.2" y="426.8" width="200.6" height="2" fill="url(#h306)"/><rect x="242.2" y="427.8" width="200.6" height="2" fill="url(#h307)"/><rect x="242.2" y="428.8" width="200.6" height="2" fill="url(#h308)"/><rect x="242.2" y="429.8" width="200.6" height="2" fill="url(#h309)"/><rect x="242.2" y="430.8" width="200.6" height="2" fill="url(#h310)"/><rect x="242.2" y="431.8" width="200.6" height="2" fill="url(#h311)"/><rect x="242.2" y="432.8" width="200.6" height="2" fill="url(#h312)"/><rect x="242.2" y="433.8" width="200.6" height="2" fill="url(#h313)"/><rect x="242.2" y="434.8" width="200.6" height="2" fill="url(#h314)"/><rect x="242.2" y="435.8" width="200.6" height="2" fill="url(#h315)"/><rect x="242.2" y="436.8" width="200.6" height="2" fill="url(#h316)"/><rect x="242.2" y="437.8" width="200.6" height="2" fill="url(#h317)"/><rect x="242.2" y="438.8" width="200.6" height="2" fill="url(#h318)"/><rect x="242.2" y="439.8" width="200.6" height="2" fill="url(#h319)"/><rect x="242.2" y="440.8" width="200.6" height="2" fill="url(#h320)"/><rect x="242.2" y="441.8" width="200.6" height="2" fill="url(#h321)"/><rect x="242.2" y="442.8" width="200.6" height="2" fill="url(#h322)"/><rect x="242.2" y="443.8" width="200.6" height="0.8" fill="url(#h323)"/></g>
<g filter="url(#jet)"><rect x="446" y="399.8" width="202" height="2" fill="url(#h324)"/><rect x="446" y="400.8" width="202" height="2" fill="url(#h325)"/><rect x="446" y="401.8" width="202" height="2" fill="url(#h326)"/><rect x="446" y="402.8" width="202" height="2" fill="url(#h327)"/><rect x="446" y="403.8" width="202" height="2" fill="url(#h328)"/><rect x="446" y="404.8" width="202" height="2" fill="url(#h329)"/><rect x="446" y="405.8" width="202" height="2" fill="url(#h330)"/><rect x="446" y="406.8" width="202" height="2" fill="url(#h331)"/><rect x="446" y="407.8" width="202" height="2" fill="url(#h332)"/><rect x="446" y="408.8" width="202" height="2" fill="url(#h333)"/><rect x="446" y="409.8" width="202" height="2" fill="url(#h334)"/><rect x="446" y="410.8" width="202" height="2" fill="url(#h335)"/><rect x="446" y="411.8" width="202" height="2" fill="url(#h336)"/><rect x="446" y="412.8" width="202" height="2" fill="url(#h337)"/><rect x="446" y="413.8" width="202" height="2" fill="url(#h338)"/><rect x="446" y="414.8" width="202" height="2" fill="url(#h339)"/><rect x="446" y="415.8" width="202" height="2" fill="url(#h340)"/><rect x="446" y="416.8" width="202" height="2" fill="url(#h341)"/><rect x="446" y="417.8" width="202" height="2" fill="url(#h342)"/><rect x="446" y="418.8" width="202" height="2" fill="url(#h343)"/><rect x="446" y="419.8" width="202" height="2" fill="url(#h344)"/><rect x="446" y="420.8" width="202" height="2" fill="url(#h345)"/><rect x="446" y="421.8" width="202" height="2" fill="url(#h346)"/><rect x="446" y="422.8" width="202" height="2" fill="url(#h347)"/><rect x="446" y="423.8" width="202" height="2" fill="url(#h348)"/><rect x="446" y="424.8" width="202" height="2" fill="url(#h349)"/><rect x="446" y="425.8" width="202" height="2" fill="url(#h350)"/><rect x="446" y="426.8" width="202" height="2" fill="url(#h351)"/><rect x="446" y="427.8" width="202" height="2" fill="url(#h352)"/><rect x="446" y="428.8" width="202" height="2" fill="url(#h353)"/><rect x="446" y="429.8" width="202" height="2" fill="url(#h354)"/><rect x="446" y="430.8" width="202" height="2" fill="url(#h355)"/><rect x="446" y="431.8" width="202" height="2" fill="url(#h356)"/><rect x="446" y="432.8" width="202" height="2" fill="url(#h357)"/><rect x="446" y="433.8" width="202" height="2" fill="url(#h358)"/><rect x="446" y="434.8" width="202" height="2" fill="url(#h359)"/><rect x="446" y="435.8" width="202" height="2" fill="url(#h360)"/><rect x="446" y="436.8" width="202" height="2" fill="url(#h361)"/><rect x="446" y="437.8" width="202" height="2" fill="url(#h362)"/><rect x="446" y="438.8" width="202" height="2" fill="url(#h363)"/><rect x="446" y="439.8" width="202" height="2" fill="url(#h364)"/><rect x="446" y="440.8" width="202" height="2" fill="url(#h365)"/><rect x="446" y="441.8" width="202" height="2" fill="url(#h366)"/><rect x="446" y="442.8" width="202" height="2" fill="url(#h367)"/><rect x="446" y="443.8" width="202" height="0.8" fill="url(#h368)"/></g>
<line x1="244.2" y1="278.4" x2="442.8" y2="278.4" stroke="#e6eaf2" stroke-width="1" stroke-dasharray="2.6,2.2" opacity="0.9"/>
<line x1="244.2" y1="284.4" x2="307.6" y2="284.4" stroke="#e6eaf2" stroke-width="1" stroke-dasharray="2.6,2.2" opacity="0.9"/>
<line x1="307.6" y1="261.5" x2="307.6" y2="308" stroke="#e6eaf2" stroke-width="1" stroke-dasharray="2.6,2.2" opacity="0.9"/>
<line x1="244.6" y1="262" x2="244.6" y2="444" stroke="#c8d0e0" stroke-width="1" stroke-dasharray="2.6,2.2" opacity="0.75"/>
<line x1="244.2" y1="324.5" x2="442.8" y2="324.5" stroke="#f0e0a0" stroke-width="1" stroke-dasharray="2.6,2.2" opacity="0.9"/>
<line x1="244.2" y1="335.8" x2="298.3" y2="335.8" stroke="#e6eaf2" stroke-width="1" stroke-dasharray="2.6,2.2" opacity="0.9"/>
<line x1="298.3" y1="312" x2="298.3" y2="357" stroke="#f0e0a0" stroke-width="1" stroke-dasharray="2.6,2.2" opacity="0.9"/>
<line x1="244.2" y1="355.2" x2="442.8" y2="355.2" stroke="#e6eaf2" stroke-width="1" stroke-dasharray="2.6,2.2" opacity="0.9"/>
<line x1="244.2" y1="379.2" x2="329" y2="379.2" stroke="#e6eaf2" stroke-width="1" stroke-dasharray="2.6,2.2" opacity="0.9"/>
<line x1="329" y1="354.5" x2="329" y2="444" stroke="#e6eaf2" stroke-width="1" stroke-dasharray="2.6,2.2" opacity="0.9"/>
<line x1="244.2" y1="407.4" x2="442.8" y2="407.4" stroke="#e6eaf2" stroke-width="1" stroke-dasharray="2.6,2.2" opacity="0.9"/>
<line x1="244.2" y1="422" x2="329" y2="422" stroke="#e6eaf2" stroke-width="1" stroke-dasharray="2.6,2.2" opacity="0.9"/>
<line x1="446" y1="278.9" x2="648" y2="278.9" stroke="#e6eaf2" stroke-width="1" stroke-dasharray="2.6,2.2" opacity="0.9"/>
<line x1="517.4" y1="261.5" x2="517.4" y2="308" stroke="#e6eaf2" stroke-width="1" stroke-dasharray="2.6,2.2" opacity="0.9"/>
<line x1="446" y1="327.6" x2="648" y2="327.6" stroke="#f2e860" stroke-width="1.2" stroke-dasharray="2.6,2.2" opacity="0.9"/>
<line x1="524.4" y1="308.5" x2="524.4" y2="354" stroke="#f2e860" stroke-width="1.2" stroke-dasharray="2.6,2.2" opacity="0.9"/>
<line x1="446" y1="369.4" x2="648" y2="369.4" stroke="#e6eaf2" stroke-width="1" stroke-dasharray="2.6,2.2" opacity="0.9"/>
<line x1="525.4" y1="354.5" x2="525.4" y2="444" stroke="#e6eaf2" stroke-width="1" stroke-dasharray="2.6,2.2" opacity="0.9"/>
<line x1="446" y1="416.6" x2="648" y2="416.6" stroke="#e6eaf2" stroke-width="1" stroke-dasharray="2.6,2.2" opacity="0.9"/>
<rect x="242.2" y="261" width="200.6" height="183.6" fill="none" stroke="#857a75" stroke-width="1.3"/>
<rect x="446" y="261" width="202" height="183.6" fill="none" stroke="#857a75" stroke-width="1.3"/>
<rect x="442.9" y="261" width="3.1" height="183.6" fill="#8f8580"/>
<rect x="443.6" y="261" width="1.6" height="183.6" fill="#d8d2cc"/>
<text x="237.6" y="267.8" font-size="10.2" fill="#231f20" stroke="#231f20" stroke-width="0.22" text-anchor="end" >450</text>
<text x="237.6" y="312.2" font-size="10.2" fill="#231f20" stroke="#231f20" stroke-width="0.22" text-anchor="end" >300</text>
<line x1="242.2" y1="308" x2="244.7" y2="308" stroke="#222" stroke-width="1.1" />
<line x1="446" y1="308" x2="448.5" y2="308" stroke="#222" stroke-width="1.1" />
<text x="237.6" y="296.4" font-size="10.2" fill="#231f20" stroke="#231f20" stroke-width="0.22" text-anchor="end" >350</text>
<line x1="242.2" y1="292.8" x2="244.7" y2="292.8" stroke="#222" stroke-width="1.1" />
<line x1="446" y1="292.8" x2="448.5" y2="292.8" stroke="#222" stroke-width="1.1" />
<text x="237.6" y="281.2" font-size="10.2" fill="#231f20" stroke="#231f20" stroke-width="0.22" text-anchor="end" >400</text>
<line x1="242.2" y1="277.6" x2="244.7" y2="277.6" stroke="#222" stroke-width="1.1" />
<line x1="446" y1="277.6" x2="448.5" y2="277.6" stroke="#222" stroke-width="1.1" />
<line x1="242.2" y1="263.6" x2="244.7" y2="263.6" stroke="#222" stroke-width="1.1" />
<text x="237.6" y="358.2" font-size="10.2" fill="#231f20" stroke="#231f20" stroke-width="0.22" text-anchor="end" >300</text>
<line x1="242.2" y1="354" x2="244.7" y2="354" stroke="#222" stroke-width="1.1" />
<line x1="446" y1="354" x2="448.5" y2="354" stroke="#222" stroke-width="1.1" />
<text x="237.6" y="342.4" font-size="10.2" fill="#231f20" stroke="#231f20" stroke-width="0.22" text-anchor="end" >350</text>
<line x1="242.2" y1="338.8" x2="244.7" y2="338.8" stroke="#222" stroke-width="1.1" />
<line x1="446" y1="338.8" x2="448.5" y2="338.8" stroke="#222" stroke-width="1.1" />
<text x="237.6" y="327.2" font-size="10.2" fill="#231f20" stroke="#231f20" stroke-width="0.22" text-anchor="end" >400</text>
<line x1="242.2" y1="323.6" x2="244.7" y2="323.6" stroke="#222" stroke-width="1.1" />
<line x1="446" y1="323.6" x2="448.5" y2="323.6" stroke="#222" stroke-width="1.1" />
<line x1="242.2" y1="309.6" x2="244.7" y2="309.6" stroke="#222" stroke-width="1.1" />
<text x="237.6" y="404" font-size="10.2" fill="#231f20" stroke="#231f20" stroke-width="0.22" text-anchor="end" >300</text>
<line x1="242.2" y1="399.8" x2="244.7" y2="399.8" stroke="#222" stroke-width="1.1" />
<line x1="446" y1="399.8" x2="448.5" y2="399.8" stroke="#222" stroke-width="1.1" />
<text x="237.6" y="388.2" font-size="10.2" fill="#231f20" stroke="#231f20" stroke-width="0.22" text-anchor="end" >350</text>
<line x1="242.2" y1="384.6" x2="244.7" y2="384.6" stroke="#222" stroke-width="1.1" />
<line x1="446" y1="384.6" x2="448.5" y2="384.6" stroke="#222" stroke-width="1.1" />
<text x="237.6" y="373" font-size="10.2" fill="#231f20" stroke="#231f20" stroke-width="0.22" text-anchor="end" >400</text>
<line x1="242.2" y1="369.4" x2="244.7" y2="369.4" stroke="#222" stroke-width="1.1" />
<line x1="446" y1="369.4" x2="448.5" y2="369.4" stroke="#222" stroke-width="1.1" />
<line x1="242.2" y1="355.4" x2="244.7" y2="355.4" stroke="#222" stroke-width="1.1" />
<text x="237.6" y="448.8" font-size="10.2" fill="#231f20" stroke="#231f20" stroke-width="0.22" text-anchor="end" >300</text>
<line x1="242.2" y1="444.6" x2="244.7" y2="444.6" stroke="#222" stroke-width="1.1" />
<line x1="446" y1="444.6" x2="448.5" y2="444.6" stroke="#222" stroke-width="1.1" />
<text x="237.6" y="433" font-size="10.2" fill="#231f20" stroke="#231f20" stroke-width="0.22" text-anchor="end" >350</text>
<line x1="242.2" y1="429.4" x2="244.7" y2="429.4" stroke="#222" stroke-width="1.1" />
<line x1="446" y1="429.4" x2="448.5" y2="429.4" stroke="#222" stroke-width="1.1" />
<text x="237.6" y="417.8" font-size="10.2" fill="#231f20" stroke="#231f20" stroke-width="0.22" text-anchor="end" >400</text>
<line x1="242.2" y1="414.2" x2="244.7" y2="414.2" stroke="#222" stroke-width="1.1" />
<line x1="446" y1="414.2" x2="448.5" y2="414.2" stroke="#222" stroke-width="1.1" />
<line x1="242.2" y1="400.2" x2="244.7" y2="400.2" stroke="#222" stroke-width="1.1" />
<line x1="242.2" y1="444.6" x2="242.2" y2="441.6" stroke="#222" stroke-width="1" />
<line x1="271.05" y1="444.6" x2="271.05" y2="442.6" stroke="#222" stroke-width="1" />
<line x1="299.9" y1="444.6" x2="299.9" y2="441.6" stroke="#222" stroke-width="1" />
<line x1="328.75" y1="444.6" x2="328.75" y2="442.6" stroke="#222" stroke-width="1" />
<line x1="357.6" y1="444.6" x2="357.6" y2="441.6" stroke="#222" stroke-width="1" />
<line x1="386.45" y1="444.6" x2="386.45" y2="442.6" stroke="#222" stroke-width="1" />
<line x1="415.3" y1="444.6" x2="415.3" y2="441.6" stroke="#222" stroke-width="1" />
<line x1="446" y1="444.6" x2="446" y2="441.6" stroke="#222" stroke-width="1" />
<line x1="474.85" y1="444.6" x2="474.85" y2="442.6" stroke="#222" stroke-width="1" />
<line x1="503.7" y1="444.6" x2="503.7" y2="441.6" stroke="#222" stroke-width="1" />
<line x1="532.55" y1="444.6" x2="532.55" y2="442.6" stroke="#222" stroke-width="1" />
<line x1="561.4" y1="444.6" x2="561.4" y2="441.6" stroke="#222" stroke-width="1" />
<line x1="590.25" y1="444.6" x2="590.25" y2="442.6" stroke="#222" stroke-width="1" />
<line x1="619.1" y1="444.6" x2="619.1" y2="441.6" stroke="#222" stroke-width="1" />
<text x="242.9" y="458" font-size="10.2" fill="#231f20" stroke="#231f20" stroke-width="0.22" text-anchor="middle" >400</text>
<text x="446.3" y="458" font-size="10.2" fill="#231f20" stroke="#231f20" stroke-width="0.22" text-anchor="middle" >400</text>
<text x="300.13" y="458" font-size="10.2" fill="#231f20" stroke="#231f20" stroke-width="0.22" text-anchor="middle" >500</text>
<text x="503.93" y="458" font-size="10.2" fill="#231f20" stroke="#231f20" stroke-width="0.22" text-anchor="middle" >500</text>
<text x="357.36" y="458" font-size="10.2" fill="#231f20" stroke="#231f20" stroke-width="0.22" text-anchor="middle" >600</text>
<text x="561.56" y="458" font-size="10.2" fill="#231f20" stroke="#231f20" stroke-width="0.22" text-anchor="middle" >600</text>
<text x="414.59" y="458" font-size="10.2" fill="#231f20" stroke="#231f20" stroke-width="0.22" text-anchor="middle" >700</text>
<text x="619.19" y="458" font-size="10.2" fill="#231f20" stroke="#231f20" stroke-width="0.22" text-anchor="middle" >700</text>
<text x="444.7" y="471.9" font-size="12.2" fill="#231f20" stroke="#231f20" stroke-width="0.22" text-anchor="middle" >Em. wavelength (nm)</text>
<text x="0" y="0" font-size="12.2" fill="#231f20" stroke="#231f20" stroke-width="0.22" text-anchor="middle" transform="translate(212.4,354.0) rotate(-90)">Ex. wavelength (nm)</text>
<text x="186" y="275.5" font-size="14.5" fill="#3b2c2c" stroke="#3b2c2c" stroke-width="0.22" text-anchor="start" >(d)</text>
<text x="313.6" y="274.3" font-size="11" fill="#eceff7" stroke="#eceff7" stroke-width="0.06" text-anchor="start" >397 nm</text>
<text x="247.4" y="295.3" font-size="11" fill="#eceff7" stroke="#eceff7" stroke-width="0.06" text-anchor="start" >375 nm</text>
<text x="438.7" y="275.9" font-size="11" fill="#eceff7" stroke="#eceff7" stroke-width="0.06" text-anchor="end" >2DBTSPO</text>
<text x="302.6" y="321.4" font-size="11" fill="#f4eed0" stroke="#f4eed0" stroke-width="0.06" text-anchor="start" >397 nm</text>
<text x="247.6" y="334.9" font-size="11" fill="#eceff7" stroke="#eceff7" stroke-width="0.06" text-anchor="start" >358 nm</text>
<text x="438.7" y="319.7" font-size="11" fill="#eceff7" stroke="#eceff7" stroke-width="0.06" text-anchor="end" >28DBTDPO</text>
<text x="331.4" y="366.3" font-size="11" fill="#eceff7" stroke="#eceff7" stroke-width="0.06" text-anchor="start" >440 nm</text>
<text x="247.4" y="377.6" font-size="11" fill="#eceff7" stroke="#eceff7" stroke-width="0.06" text-anchor="start" >364 nm</text>
<text x="438.7" y="367.9" font-size="11" fill="#eceff7" stroke="#eceff7" stroke-width="0.06" text-anchor="end" >4DBTSPO</text>
<text x="331.4" y="418.3" font-size="11" fill="#eceff7" stroke="#eceff7" stroke-width="0.06" text-anchor="start" >424 nm</text>
<text x="247.4" y="432.8" font-size="11" fill="#eceff7" stroke="#eceff7" stroke-width="0.06" text-anchor="start" >376 nm</text>
<text x="438.7" y="411" font-size="11" fill="#eceff7" stroke="#eceff7" stroke-width="0.06" text-anchor="end" >46DBTDPO</text>
<text x="476.5" y="276.9" font-size="11" fill="#eceff7" stroke="#eceff7" stroke-width="0.06" text-anchor="start" >392 nm</text>
<text x="644" y="273.1" font-size="11" fill="#eceff7" stroke="#eceff7" stroke-width="0.06" text-anchor="end" >2DBTSPO:1%TMB</text>
<text x="483.8" y="325.1" font-size="11" fill="#eceff7" stroke="#eceff7" stroke-width="0.06" text-anchor="start" >390 nm</text>
<text x="644" y="317.8" font-size="11" fill="#eceff7" stroke="#eceff7" stroke-width="0.06" text-anchor="end" >28DBTDPO:1%TMB</text>
<text x="485.3" y="366.6" font-size="11" fill="#eceff7" stroke="#eceff7" stroke-width="0.06" text-anchor="start" >401 nm</text>
<text x="644" y="363.7" font-size="11" fill="#eceff7" stroke="#eceff7" stroke-width="0.06" text-anchor="end" >4DBTSPO:1%TMB</text>
<text x="486.7" y="412.2" font-size="11" fill="#eceff7" stroke="#eceff7" stroke-width="0.06" text-anchor="start" >396 nm</text>
<text x="644" y="409.9" font-size="11" fill="#eceff7" stroke="#eceff7" stroke-width="0.06" text-anchor="end" >46DBTDPO:1%TMB</text>
<rect x="659.0" y="261.2" width="3.6" height="100.4" fill="url(#cbg)" stroke="#888" stroke-width="0.6"/>
<line x1="662.6" y1="361.3" x2="665.2" y2="361.3" stroke="#222" stroke-width="1" />
<text x="668.3" y="365" font-size="10.2" fill="#231f20" stroke="#231f20" stroke-width="0.22" text-anchor="start" >0.0</text>
<line x1="662.6" y1="346" x2="665.2" y2="346" stroke="#222" stroke-width="1" />
<text x="668.3" y="349.7" font-size="10.2" fill="#231f20" stroke="#231f20" stroke-width="0.22" text-anchor="start" >0.5</text>
<line x1="662.6" y1="330.7" x2="665.2" y2="330.7" stroke="#222" stroke-width="1" />
<text x="668.3" y="334.4" font-size="10.2" fill="#231f20" stroke="#231f20" stroke-width="0.22" text-anchor="start" >1.0</text>
<line x1="662.6" y1="315.4" x2="665.2" y2="315.4" stroke="#222" stroke-width="1" />
<text x="668.3" y="319.1" font-size="10.2" fill="#231f20" stroke="#231f20" stroke-width="0.22" text-anchor="start" >1.5</text>
<line x1="662.6" y1="300.1" x2="665.2" y2="300.1" stroke="#222" stroke-width="1" />
<text x="668.3" y="303.8" font-size="10.2" fill="#231f20" stroke="#231f20" stroke-width="0.22" text-anchor="start" >2.0</text>
<line x1="662.6" y1="284.8" x2="665.2" y2="284.8" stroke="#222" stroke-width="1" />
<text x="668.3" y="288.5" font-size="10.2" fill="#231f20" stroke="#231f20" stroke-width="0.22" text-anchor="start" >2.5</text>
<line x1="662.6" y1="269.5" x2="665.2" y2="269.5" stroke="#222" stroke-width="1" />
<text x="668.3" y="273.2" font-size="10.2" fill="#231f20" stroke="#231f20" stroke-width="0.22" text-anchor="start" >3.0</text>
<text x="0" y="0" font-size="11.5" fill="#231f20" text-anchor="middle" transform="translate(668.3,406.8) rotate(-90)">Log count (10<tspan font-size="7.5" dy="-4">0</tspan><tspan dy="4">)</tspan></text>
</svg>
</body></html>
